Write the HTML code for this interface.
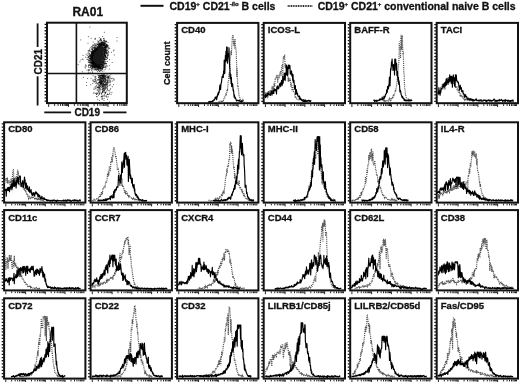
<!DOCTYPE html>
<html><head><meta charset="utf-8"><title>Figure</title>
<style>html,body{margin:0;padding:0;background:#fff;width:520px;height:382px;overflow:hidden}svg{display:block;filter:blur(0.35px)}</style>
</head><body>
<svg width="520" height="382" viewBox="0 0 520 382"><line x1="140.5" y1="5.8" x2="163.5" y2="5.8" stroke="#111" stroke-width="2"/>
<line x1="287.7" y1="6" x2="312.3" y2="6" stroke="#222" stroke-width="1.8" stroke-dasharray="1 0.7"/>
<text x="169.5" y="10.1" style="font-family:'Liberation Sans',sans-serif;font-weight:bold;stroke:#111;stroke-width:0.3px;font-size:10.5px" fill="#111">CD19<tspan dy="-4" font-size="6">+</tspan><tspan dy="4"> CD21</tspan><tspan dy="-4" font-size="6">-/lo</tspan><tspan dy="4"> B cells</tspan></text>
<text x="317.7" y="10.1" style="font-family:'Liberation Sans',sans-serif;font-weight:bold;stroke:#111;stroke-width:0.3px;font-size:10.5px" fill="#111">CD19<tspan dy="-4" font-size="6">+</tspan><tspan dy="4"> CD21</tspan><tspan dy="-4" font-size="6">+</tspan><tspan dy="4"> conventional naive B cells</tspan></text>
<text x="72.4" y="16" style="font-family:'Liberation Sans',sans-serif;font-weight:bold;stroke:#111;stroke-width:0.3px;font-size:12px" fill="#111">RA01</text>
<path d="M101.3,45 103.5,47.2 103.5,52.2 102.8,57.9 102,62.2 100.2,65 96.6,65 93.1,62.2 91.7,57.2 93.1,53.6 95.9,50 98.8,46.8Z" fill="#1a1a1a" stroke="#1a1a1a" stroke-width="0.8" stroke-linejoin="round"/>
<path d="M91.3,57.8h1M100.1,40.5h1M98.3,68.5h1M96.8,66.5h1M103.8,52.1h1M102.8,42.2h1M103.6,55.7h1M104.3,47h1M97,69.4h1M91.5,51.7h1M100.1,69.7h1M99.2,40.6h1M99.8,45.2h1M98.8,43.3h1M97.2,66.9h1M93.8,51.1h1M107,58.6h1M106.6,57.3h1M99.2,66.4h1M100.2,38.8h1M91.7,56.6h1M89.8,56.3h1M90.7,54.8h1M94,47.2h1M102.8,58h1M102.4,42.7h1M106.7,46.5h1M89.5,61.6h1M104.8,56.7h1M102.7,67.5h1M98.3,65.1h1M92.1,54.6h1M100.2,42.8h1M106,46.8h1M91.8,58.4h1M99.6,70.1h1M94.6,64.1h1M97.5,66.6h1M100.8,66.6h1M92.5,66.7h1M103.6,45.2h1M91.6,49.7h1M103.8,51.6h1M105.4,43.1h1M100.9,64.5h1M99.4,66.2h1M96.6,48.3h1M96.8,44.2h1M100.6,44h1M90.2,58.8h1M102,42.1h1M95.9,65.1h1M102.2,62.2h1M97.8,45.7h1M103,38.5h1M98.8,66.8h1M104.3,42.5h1M96.3,69.9h1M101.8,42.9h1M91,52.8h1M100.8,45.3h1M92.1,54.8h1M104.3,50.7h1M100.1,67.9h1M90.8,58.5h1M106.2,50.7h1M95.1,65.7h1M90.7,61.7h1M105.5,51.8h1M103.9,43.6h1M90.4,59.6h1M91.3,58.8h1M90,58.1h1M106.9,44.8h1M93.9,66.8h1M90.8,62.4h1M100.2,67.1h1M103.2,56.5h1M104.7,50.6h1M97.3,66.5h1M104.8,52.7h1M94.1,67.7h1M92,55.3h1M90.1,57.8h1M92,53.5h1M94.5,66.6h1M103.2,64.6h1M103.6,42.8h1M98.9,46h1M104.6,53.6h1M91.9,63.9h1M101.1,64.9h1M100.8,64.7h1M98.5,68.1h1M103.9,47.2h1M102.7,67.9h1M94.7,65.3h1M96.4,48.3h1M105.4,41.8h1M95.8,67h1M99.4,44.4h1M106.1,45.2h1M105.6,51.8h1M102.1,68.8h1M93,53.6h1M106,63.8h1M94.5,69.2h1M94.9,67h1M93.5,48.5h1M98.9,46.7h1M100.4,45.6h1M95.1,66h1M104.2,63.3h1M101.4,43.2h1M96.5,66.8h1M102.9,57.9h1M91.4,50.9h1M95.3,64.5h1M90,54.7h1M103.3,64.1h1M93.3,63.5h1M104.2,53.1h1M91.4,52.8h1M99.4,44.9h1M90.2,63.2h1M92.9,64.9h1M96.6,44.5h1M106.7,55.8h1M103.8,49.3h1M91.5,59.8h1M89.6,58.9h1M92.4,53.6h1M99.2,65.2h1M94.3,49.4h1M103.3,54.8h1M103,45.3h1M103.2,67.6h1M96.9,48.5h1M95.6,64.4h1M91,57.6h1M92.5,61.6h1M98.9,65.3h1M98.5,46.1h1M105.2,57.2h1M89.7,55h1M106.1,52.7h1M89.1,61.6h1M98.4,41.5h1M91.7,59h1M93.9,63.4h1M91.6,48.7h1M105.1,55.7h1M98.9,46.6h1M90.5,55.7h1M89.1,62.5h1M92,62.1h1M97.9,70.5h1M104.6,54h1M108.3,48.5h1M105.6,46.5h1M102.4,44.1h1M94.2,48.7h1M104,51.9h1M94.3,63.8h1M90.1,64.8h1M96.3,65.7h1M98.6,65.3h1M91.8,63.8h1M106.5,58h1M103.6,44.3h1M99.7,43.1h1M101.9,66.1h1M93.6,51.5h1M94.5,47.4h1M92,60.8h1M103,44.9h1M101.1,43.2h1M104.2,59.7h1M103.2,59.8h1M102.3,63.3h1M94.3,64.8h1M102.7,43.8h1M94.1,50.1h1M98.5,66.2h1M89.6,60.6h1M96.9,48h1M103.1,61.8h1M97.1,65.4h1M103.6,39.6h1M91.9,62h1M94.9,64.6h1M103.7,49.8h1M98.4,43.3h1M93,64h1M103.4,45.4h1M91.4,63.5h1M93.8,65.6h1M92.3,62.4h1M103.8,62.9h1M101.7,69.3h1M106.9,50.6h1M101.7,64.5h1M105.6,50.3h1M98.4,66h1M92,56.4h1M98.2,43h1M92.3,65h1M101.6,42.7h1M105.1,67.6h1M92,61h1M90.4,57.9h1M105.6,53.1h1M106.2,47.7h1M92.1,62.4h1M90.4,67.5h1M94.2,66.9h1M93.4,67.4h1M104.9,63.5h1M103.7,67.4h1M98.3,66.1h1M99.7,44.4h1M107.6,54.1h1M93.9,67.9h1M94.8,67.6h1M94.7,49.5h1M94.7,64.2h1M105.6,44.3h1M95.9,66.2h1M104.6,43.4h1M100.6,44.2h1M96.6,47.5h1M104,51.5h1M96.6,49.1h1M91.5,60.7h1M91.8,61.9h1M103.7,54.1h1M96.6,49.2h1M103.9,43.2h1M97,67.3h1M91.1,55.3h1M102.3,62.7h1M103.6,59.5h1M105.4,46h1M92.8,54.3h1M101.9,42.5h1M92.3,62h1M104.8,63.1h1M102.2,61.3h1M91.5,53.1h1M95.6,49.6h1M98.4,66.5h1M105.1,55.8h1M99.5,71h1M102.3,65.6h1M99.2,65.6h1M102.7,42.8h1M93.2,63.4h1M90.8,55.7h1M108,51.4h1M101.7,67.3h1M105.7,57h1M97.8,44.8h1M101.1,39.3h1M104.3,57h1M90.9,55.8h1M99.1,44.1h1M105.3,49.4h1M94,66.4h1M99.3,68.1h1M97.5,66.2h1M102.5,45.2h1M97,48h1M105.6,50.7h1M97.1,46.5h1M103.6,57.8h1M101.8,65.1h1M96.7,67.7h1M97.1,44.5h1M92.1,55.4h1M90.8,66.6h1M97.9,47.1h1M102.7,65.8h1M101.8,64.5h1M104.2,53h1M93.4,63.1h1M104.9,48.1h1M94,63.7h1M93.8,63.2h1M97.2,47h1M103.2,45h1M97.8,44.1h1M91,63.3h1M91.4,61.9h1M102.1,36.5h1M92.2,67.2h1M91.2,53.5h1M103.8,56.8h1M104.3,48.9h1M89,56.7h1M92.7,61h1M100,67.4h1M93.2,62.9h1M102.9,64.1h1M94.5,66.1h1M91.7,65.3h1M104.2,43.6h1M100.8,44.4h1M104,52.9h1M101.3,68.3h1M103,56.3h1M101.6,45.2h1M90.1,56.4h1M97.7,69.3h1M92.7,54.4h1M96.6,48h1M103.6,53.9h1M100.4,70.6h1M91.1,56.4h1M103.7,49.1h1M93.7,49.5h1M96.9,47.8h1M95.7,45.9h1M105.4,41.6h1M89,65h1M101.8,63h1M95.1,64.5h1M102.9,61h1M91.4,60.5h1M104.7,51.1h1M100.2,67.6h1M107.5,54.9h1M92.5,66h1M94.3,50.9h1M104.1,49.6h1M103.8,45.5h1M91,65.7h1M98.9,66.1h1M91.9,60.3h1M93.9,50.5h1M105.2,47.7h1M107.2,52.2h1M91.5,52.5h1M104.7,43.7h1M103.3,45.6h1M103.7,51.5h1M89,60.4h1M94.5,64.5h1M89.6,59h1M95,66.7h1M88.2,60.3h1M103.5,50.4h1M105.3,47.4h1M99.1,68.2h1M100.9,40.6h1M103.6,61.9h1M89.1,58.7h1M90.8,54.9h1M105.2,46.7h1M96.2,69.6h1M97.9,65.4h1M93.5,64.2h1M100.1,43.9h1M91.8,60.1h1M100.2,38.7h1M94.7,65.7h1M90,59.3h1M102.8,65.4h1M103.4,58h1M93.6,63.9h1M100.6,64.8h1M104.5,54.7h1M96.6,65.8h1M104.8,63.7h1M92,51.6h1M98.7,67h1M106.8,45.9h1M97.5,66h1M99.1,71.5h1M101.7,43.5h1M101.3,43.9h1M92.9,64.8h1M101.9,44.6h1M103.4,67h1M99,66.1h1M102.5,42.2h1M93.6,63.3h1M93.7,65.3h1M101.7,66.7h1M91.8,55.9h1M105.7,63.5h1M93.8,45.9h1M93.6,67.6h1M91.3,55.1h1M106.8,46.2h1M98.8,66.4h1M92.3,65.4h1M95.3,67.9h1M92.8,64.5h1M94.1,51.8h1M103.5,53.5h1M95.4,65h1M95,66.6h1M92.2,66.5h1M100.7,70h1M106.6,57.1h1M100.3,65.9h1M102.2,42h1M101.5,44.9h1M90.1,66.4h1M93.4,66.7h1M102.9,65.8h1M94.3,65.5h1M107.1,45.6h1M91.9,68.2h1M104,51.8h1M100,45.1h1M90.1,61.1h1M104.7,47.7h1M100.4,44.1h1M100.2,67h1M102.3,45.7h1M101.6,69.4h1M92.3,61.1h1M91.2,58h1M99.9,44.8h1M100,68.6h1M94.2,50.1h1M94.3,51.4h1M90.6,63.6h1M98.9,68h1M91.6,53.2h1M104.1,55h1M104.1,50.1h1M95.3,47h1M97.6,45.8h1M101.1,68.6h1M102.9,44.3h1M91.3,65.9h1M89.7,62.4h1M94.7,48.3h1M97.2,66.4h1M105.4,45.2h1M106.8,53.7h1M90.8,55.5h1M95.4,49h1M100.8,44.1h1M102.1,63.8h1M94.6,48.6h1M94.9,66.2h1M91.7,67.2h1M105.6,41.5h1M91.9,58.5h1M104.1,53.4h1M92.7,65.4h1M98.3,67.2h1M95.9,64.4h1M104.2,56.8h1M103.4,42h1M95.7,67.8h1M104.8,50.5h1M87.7,55h1M96.4,48h1M96.9,66.7h1M92.9,63.6h1M95,69.1h1M106.3,53.6h1M91.8,53.9h1M99.3,46h1M95.5,64.4h1M102.5,65.1h1M89.1,58.3h1M89.7,58.6h1M96.8,68.1h1M100.5,43.8h1M92.4,52.4h1M102.1,44.9h1M97.5,65.3h1M104.9,55.3h1M104.1,64.3h1M99.2,65.8h1M91.5,65.7h1M101,43.6h1M91.8,55.2h1M91.9,49.4h1M92.4,53.9h1M91.8,49.7h1M103.2,58.6h1M97.7,66.9h1M89.3,55.5h1M91.2,57.1h1M105.4,54.1h1M100.5,41.6h1M93.5,66.2h1M96.5,67.6h1M105.6,44.9h1M102.8,45.1h1M94.3,43.7h1M88.4,50.6h1M88.4,60.4h1M103.5,66.9h1M90.9,58.9h1M97,46.9h1M94.7,65.2h1M102.1,68h1M91.7,61h1M104.8,52.2h1M105.5,61.4h1M102.4,63.3h1M96.2,66.5h1M103.5,48.2h1M92.2,66.8h1M104.4,41.5h1M105.7,45.6h1M98.5,47.1h1M87.6,50.8h1M94.9,63.9h1M109.2,48.5h1M94.9,64.1h1M91.5,62.9h1M98.4,45.9h1M96.4,64.9h1M103.8,63.6h1M98.1,66.6h1M93.8,51.6h1M106.5,65.7h1M92.7,63.8h1M104.1,55h1M88.5,60.3h1M90.1,67.1h1M96.3,49.4h1M104.4,59.5h1M95.1,49.6h1M100.2,45.8h1M92.5,62.2h1M100.5,44.3h1M93.8,63.3h1M101.5,68.2h1M103.7,58.9h1M102.7,61.6h1M98,69.8h1M105.5,65.7h1M92.8,53.9h1M97.7,69.6h1M98.8,67.3h1M91.5,54h1M96.6,65.9h1M101.2,63.9h1M95.7,48.6h1M103.5,45.9h1M103.4,56.9h1M105.7,41.7h1M98.9,43.2h1M106,50.9h1M96.5,66.4h1M97.1,66.3h1M90,65.1h1M92.9,52.8h1M96.1,48.3h1M93.6,48.3h1M92.5,52.1h1M99.7,39.9h1M93.5,50.4h1M88.1,59.2h1M92.1,50.1h1M104.4,46.7h1M93.3,63.5h1M97,68.6h1M91.8,56.4h1M94.2,64.5h1M93.3,50.8h1M103.5,54.2h1M100.3,65.2h1M101.1,40.7h1M105.3,59.4h1M102.6,45h1M100.5,70.6h1M104.4,57.8h1M103.8,43.9h1M105.4,58.8h1M102.6,59.4h1M97.7,67.3h1M92.5,61.3h1M99.7,67.4h1M105.9,53.8h1M99.4,65.3h1M103.3,62h1M90.1,51.5h1M91.5,59.9h1M105.3,50h1M102.2,62.7h1M104.6,45.9h1M100.7,64.3h1M103.8,49.3h1M94.4,63.9h1M103.5,66h1M100.7,68.5h1M102.5,43.2h1M95.5,68.6h1M94.6,51.5h1M105.4,49.8h1M102.5,60.9h1M94.2,65.8h1M99.3,68h1M98.9,46.5h1M104.5,51.8h1M104.3,40.6h1M90,55.6h1M104.3,42.9h1M95.6,50.1h1M92.5,52.9h1M98,68.3h1M93.1,66.7h1M93.2,66.5h1M93.5,52.1h1M92.8,51.2h1M92.4,54.4h1M93.2,62.8h1M93.2,64.2h1M104,45.4h1M98.2,67.7h1M98.3,46.8h1M100.6,43h1M95.8,45.8h1M103.8,48.1h1M103.8,43.7h1M93,54h1M101.9,42.7h1M102.8,61.4h1M92,63.5h1M91,62.9h1M87.4,53.3h1M102.3,61.6h1M105.3,46.7h1M95.1,49h1M102.6,63.3h1M92.4,51.9h1M90.6,58.9h1M98,45.3h1M104.7,69.4h1M100.5,45.5h1M88.2,57.1h1M97.9,45h1M100.8,64.4h1M101.1,42.3h1M90,60.9h1M96.3,49.5h1M94.3,51.9h1M96.1,66.3h1M91.8,55.5h1M99.6,67.8h1M90.9,54h1M103.8,63.4h1M92.3,66.3h1M103.5,43h1M95.4,65.6h1M93.1,53.4h1M88.8,54.1h1M92.2,51.3h1M93.4,64h1M107.4,54.1h1M97.7,44.6h1M101.5,42.1h1M109.1,59.6h1M100.5,43.4h1M100.3,44.2h1M105.7,46.2h1M104.7,47.4h1M106.2,50.8h1M103.9,55.9h1M96.4,68h1M99.1,69.3h1M92.7,50.9h1M87.8,61.8h1M92.2,52.7h1M98.6,66.7h1M90.9,59.3h1M92.6,50.7h1M95.7,50.1h1M90.8,57h1M104.2,40.9h1M101.8,67.6h1M106.3,46.2h1M93.6,50.1h1M104.1,55.4h1M100.6,66.3h1M105.7,47.5h1M101.7,65.9h1M96.5,66h1M92.4,67.7h1M100.7,68.7h1M103.9,59h1M90.7,62.1h1M92.7,63.8h1M91.5,64.7h1M98.6,65.4h1M94.2,66.5h1M103.4,62.1h1M92.1,54.1h1M91.3,52.6h1M93.7,51.5h1M95,65.5h1M95.5,65.3h1M93.5,64.3h1M103.6,58.1h1M100.4,68h1M93.1,52.3h1M89,55.7h1M101.8,62.7h1M101.5,66.2h1M94.4,66.9h1M104.9,47.1h1M103,60.1h1M105.6,52.5h1M94,64.1h1M100.1,66.4h1M94.5,44.1h1M95.7,70.1h1M105,45.9h1M104.5,49.3h1M104,45.1h1M101.4,64.3h1M93.7,64.7h1M102.3,65.9h1M102.9,44h1M94.2,47.4h1M97.2,44.5h1M104.6,48.2h1M98.8,44.5h1M103.3,61.1h1M91,65.9h1M105.1,56.5h1M92.2,65.3h1M90.2,58.8h1M92,60.9h1M98.9,65.6h1M95.5,69h1M104.5,45.4h1M103.8,44.5h1M92.8,62.8h1M88.4,51h1M107.5,42.4h1M99.2,45.5h1M95.3,46h1M102.7,43h1M99.7,68.5h1M103,44.7h1M92.7,54.3h1M98.5,66.8h1M95.9,65.7h1M98.8,37.7h1M95.3,45h1M94.5,67.2h1M103.5,55.3h1M93.9,50.2h1M94.6,69.5h1M92.8,63.7h1M101.7,69.2h1M91.1,57.9h1M105.5,64h1M98.6,67.9h1M106.8,46.9h1M97.7,41.4h1M95.6,48.5h1M95.9,49.1h1M91,53h1M98.7,67.8h1M107.8,48h1M90.6,57.8h1M97.2,48.2h1M107,61.4h1M103.6,38.4h1M92.2,55h1M92,52.7h1M103.6,46.4h1M91.9,67.8h1M88.8,53.6h1M105.3,46.9h1M91.5,62.6h1M102.1,44.7h1M89.4,54h1M103,40.4h1M90.6,56.7h1M95.6,65.2h1M91.5,57.6h1M90.4,59h1M101.6,65.7h1M90.7,52.8h1M104.2,44.9h1M92,65.9h1M104.1,58.9h1M95,64.7h1M101.6,65.3h1M102.8,46.1h1M102.6,66.7h1M95.5,49.8h1M90.7,60.6h1M89.2,50.5h1M105,61.9h1M91.9,64.3h1M100,68.3h1M94.4,67.5h1M101.6,64.2h1M104.9,55.5h1M105.1,48.9h1M92.2,61.6h1M98.1,67.6h1M93.3,51h1M100.5,66.3h1M89.5,63.2h1M101,42.8h1M95.4,48.2h1M98.3,68.5h1M93.6,63.3h1M94.5,46h1M104.2,47.5h1M88.8,58h1M102.9,62.9h1M103.1,59.2h1M96.4,43.5h1M90.8,59.9h1M91.7,60.8h1M90.8,55.1h1M87.9,57.6h1M98.6,71h1M102.2,44.2h1M98,67h1M103.3,63h1M92.5,54h1M97.7,42.5h1M98.6,68.1h1M93.1,66.8h1M99.2,43.7h1M95.1,47.8h1M103.7,45.5h1M103.9,54.2h1M92,54.6h1M97.4,69.6h1M103.7,55.5h1M99,44.5h1M103.6,61.5h1M104.8,48.5h1M91.3,53h1M99.5,44.1h1M107.2,45.8h1M99.6,67.1h1M101.5,44.1h1M105,56.3h1M97.1,67.8h1M98.5,67.6h1M105.3,52.4h1M94.8,49.7h1M99.7,66.8h1M105,51.1h1M102,67.5h1M86.6,70.1h1M89.9,65.6h1M96.7,67h1M87.9,36.7h1M86.5,59.3h1M92.8,65.8h1M99.3,44h1M104.1,54.9h1M89.8,56.2h1M94,66.5h1M105.3,52.1h1M86,66h1M81.9,71.8h1M87.9,72.2h1M79.4,61.8h1M91.2,51.6h1M110.9,52.3h1M107.6,55.7h1M104.2,60.3h1M116.5,41.1h1M77.7,64.6h1M90.5,49.2h1M89.4,27.1h1M90.7,38.3h1M92.1,80.1h1M104.3,49.6h1M93.4,68.1h1M106.3,48.4h1M80.2,39.9h1M97.8,66h1M88.2,69.5h1M85.7,54.3h1M106.3,49.9h1M89.4,67.7h1M88.9,51.1h1M85,65.9h1M94.2,48.1h1M103.3,58.7h1M90.2,62.8h1M95.6,66.4h1M82.1,59h1M105.4,47.9h1M93.1,47.7h1M104.8,49.6h1M88,70.5h1M90.5,59.8h1M102.9,44.1h1M105,57.8h1M91.1,55.1h1M84.5,67h1M89.7,62.4h1M104.7,45.4h1M92.3,45.1h1M101.1,67.1h1M97.3,40.9h1M105.8,59.5h1M90.9,61.9h1M95.7,67.6h1M108.1,45.9h1M102.8,58.1h1M91,70.3h1M116.6,37.6h1M108.4,47.1h1M107.1,55.7h1M92.2,71.2h1M89.6,72.3h1M90.8,62.6h1M88.4,64.6h1M97,71.4h1M113.6,50.1h1M103.2,61.2h1M102.9,56.9h1M107.5,52.2h1M104.1,49.6h1M103.8,60.1h1M91.5,46.5h1M103.9,32.3h1M108.8,65.7h1M88,62.5h1M88.1,56.5h1M84.9,67.8h1M93.8,63.2h1M86.1,82.3h1M91,60.8h1M88.5,65.3h1M93.1,64.9h1M92.1,47.2h1M93.5,44.7h1M93,62.4h1M92.8,42h1M95.4,49.9h1M111.7,62.5h1M88,65.5h1M92.6,45.3h1M92,51.2h1M91.3,65.8h1M86.7,57.7h1M89.4,69.8h1M91.2,46.9h1M83.1,77.3h1M106.2,53.5h1M87.1,59.6h1M101.8,71.3h1M92.3,55.3h1M91.9,69.2h1M96.6,66.3h1M103.8,47.5h1M89.2,65h1M93,62.6h1M87.9,56.9h1M104.4,59.7h1M103.5,65.4h1M105.5,44.4h1M102.1,64.6h1M93.2,63.8h1M87.1,78.5h1M90.9,65h1M106.4,66.7h1M94.7,64.1h1M92.8,53.8h1M87.5,43.2h1M105.4,67.9h1M82.6,59.6h1M106,41.1h1M103.5,70.9h1M85,57.2h1M98.7,67.6h1M86,85.5h1M95.7,78.6h1M91.7,63h1M91.5,48.5h1M91.9,62.8h1M94.8,77.6h1M93.5,68h1M106.3,57.6h1M90.3,47.3h1M106.1,52.3h1M92.8,45.8h1M113.8,55h1M105,66.6h1M105.4,49.9h1M103.5,54.2h1M90.8,68.8h1M98.4,45.7h1M107.5,49.6h1M103.6,49.2h1M91.6,64.7h1M92.7,69.2h1M96.4,66.7h1M92,63.6h1M89.6,56.6h1M108.8,69.1h1M82.5,55.5h1M88.2,52.8h1M106.2,45.2h1M112.9,50.8h1M93,50.8h1M103.7,40.5h1M88.8,70.1h1M104.2,47.2h1M103.7,41h1M91.6,67.9h1M94.7,38.3h1M104.9,56h1M93,52.3h1M94.5,51.7h1M92,48h1M108.2,52.3h1M99.9,39.5h1M90.5,57.9h1M91.6,56.1h1M106.6,45.1h1M99.9,65.4h1M89,49.1h1M91.3,52.2h1M92,72.4h1M104.1,52.3h1M93.3,47.5h1M85.2,64.8h1M93.9,70h1M94.4,39.2h1M86.8,55.7h1M107.4,47.4h1M80.4,59.9h1M87.9,66.3h1M95,39h1M95.5,69.9h1M94.8,45.1h1M105.8,44.7h1M95.2,49.9h1M90.9,68.9h1M88.2,67.6h1M102.3,62.7h1M100.8,94.2h1M102.2,77.3h1M98,91.9h1M106.7,74.8h1M101.3,83.7h1M104.1,81.3h1M108.5,85.6h1M103.1,88.5h1M101.6,82.5h1M98.8,85.4h1M102.7,76.1h1M107.7,76.3h1M99.8,82.9h1M102.2,98.9h1M103.6,75.3h1M104.1,78.8h1M103.3,90.1h1M111.8,78.4h1M103.7,76.4h1M106.5,82.4h1M108.3,90.6h1M107,88.2h1M92.6,75.7h1M98.4,86.2h1M98.9,82.2h1M111.4,92.4h1M100.3,81.9h1M100.9,75.2h1M93.5,89.5h1M105,84.2h1M104.5,92.8h1M106.4,82.9h1M100.8,84.3h1M101.5,99.5h1M107,85.2h1M100.8,96.8h1M105.9,96.9h1M103.8,95.9h1M99.4,80.8h1M100.8,82.6h1M103.9,90.8h1M102.6,77h1M108.6,80.8h1M106.6,77.2h1M100.6,81.2h1M108.8,101.9h1M102,75.2h1M108.9,75.6h1M104.4,86.6h1M102.3,83.8h1M96.2,93.1h1M103.5,100.4h1M98.2,75.5h1M105.5,78h1M102.8,86.9h1M98.2,75.9h1M103.6,76.3h1M107.9,77.2h1M98.5,80.5h1M98.9,82.1h1M98.1,77.5h1M101.1,96.3h1M105.3,79.7h1M106.7,88h1M101,81.3h1M94.7,79h1M102.4,76.6h1M101.9,89.9h1M107.4,78h1M113.5,80.3h1M95.9,85.6h1M103.8,81.9h1M99.7,75.8h1M103.7,87.5h1M93.3,80h1M98.6,79.6h1M99.9,84.4h1M103,80.3h1M100.1,77.5h1M102.2,76.4h1M98.9,87.8h1M99.8,75.6h1M110.6,94.4h1M107.3,77.7h1M96.7,96.9h1M96.1,96.5h1M101.6,81.4h1M104.6,76.5h1M96.9,93.7h1M103.9,75h1M98.7,85h1M102.9,75h1M98.4,82.8h1M102,81.7h1M105.3,85.2h1M95.5,81.6h1M102.8,89.1h1M107.5,94.5h1M103.4,81.4h1M102,86.5h1M104.8,75.5h1M100.2,85.8h1M105.3,85.3h1M113,84.7h1M100.2,77.8h1M96.6,80.7h1M102.1,81.2h1M92.7,81h1M103.9,85h1M104.5,81h1M102.3,80.3h1M102.4,76.1h1M95.2,93.5h1M99.6,78.4h1M113.5,79.4h1M98.1,82.4h1M102.5,91.5h1M106.8,80.9h1M96,94.5h1M106.5,80.3h1M105.6,82.3h1M98.1,95.3h1M98.5,90.2h1M99.4,78.1h1M94.6,86.9h1M99.3,82.9h1M104.6,80.6h1M104.4,85.9h1M106.4,82.3h1M101.4,84.5h1M93.5,81.3h1M105.1,89.3h1M110.3,78.1h1M90.1,84.8h1M101.5,78.9h1M100.4,84.4h1M104.8,78.8h1M105,81.9h1M93.7,82h1M101.5,85.2h1M102.3,82.9h1M108.1,77h1M101.4,85.5h1M101.4,81.3h1M103.3,78.8h1M106.9,84.5h1M101.6,75.8h1M100.6,76.8h1M99.6,82.3h1M106.5,97h1M104.6,85.8h1M104.6,81.2h1M106.4,80.1h1M104.2,79.7h1M106.7,80.9h1M101.4,83.1h1M104.8,78.9h1M109.5,76.8h1M100.4,75.2h1M102.3,75.5h1M101.6,78.5h1M97.5,87.4h1M102,86h1M103.1,84.7h1M104.1,76.8h1M109.5,92.2h1M104.8,96.1h1M106.7,80.1h1M105.6,86.9h1M106.8,79h1M106.4,77.5h1M99.8,78.9h1M102.3,74.9h1M105.5,76.8h1M107.5,81.7h1M100.7,78.4h1M105,92.9h1M102.7,77.4h1M107.6,78.8h1M97.7,87.6h1M99.8,81.3h1M107,89.6h1M105.2,84.2h1M97,87.4h1M109.1,93.6h1M101.7,79.8h1M101.1,80.1h1M105,79.2h1M99.4,82.1h1M102,86.9h1M103.1,77.1h1M111.9,81h1M102.8,85.9h1M99.2,77.1h1M101.1,78.5h1M109.6,84.5h1M101,82.9h1M111.8,86.8h1M103.6,79.2h1M98.5,85.9h1M102.1,91.7h1M98.8,93.7h1M103.1,77.9h1M101.5,74.9h1M95.7,82.6h1M104.2,75.2h1M101.8,78.3h1M99.9,81.3h1M102.5,77.1h1M101.1,83h1M100.1,76h1M109.3,78.6h1M99.1,87.6h1M107.3,94.5h1M106.7,94.4h1M104.5,84.5h1M101.9,88.8h1M95.7,93.2h1M96.3,86.8h1M103.6,88.1h1M107.1,81.1h1M113.3,78.8h1M103.4,74.8h1M101.9,92.6h1M102.4,75.5h1M98.1,84.3h1M100,83h1M108.5,94.3h1M103.8,82.1h1M104.9,82.8h1M102.9,86.3h1M104.6,91.8h1M103.2,88.8h1M95.1,79.7h1M105.1,79.9h1M101.5,98.6h1M99.1,88h1M104.7,88.1h1M104.5,78.5h1M99,100.4h1M99.3,80.3h1M102.3,75.6h1M106.7,86.4h1M107,77.1h1M102.1,91.1h1M104.1,77.9h1M104,78.8h1M100.6,80.7h1M99.4,85.7h1M96.7,90h1M104.1,89.7h1M104,84.6h1M100.3,81.2h1M99.5,88.6h1M110.2,88.6h1M103.7,98.4h1M101.7,85.2h1M100.1,81h1M107.8,96.9h1M100.5,89.6h1M99.8,79.5h1M103.5,88.4h1M104.6,92.6h1M99.6,82.3h1M101.7,82.9h1M102.6,79.9h1M105.9,84.4h1M107,99.5h1M108.1,76.9h1M107.8,77.7h1M99.6,92.2h1M102.6,88.2h1M98.5,76.9h1M105.6,75.7h1M102.7,76.2h1M100.4,82.6h1M104.2,90.7h1M99.4,78.9h1M103.9,75.3h1M102.3,96h1M109.3,81.2h1M101.4,82.9h1M99,75.9h1M108.3,77.9h1M95.2,76.3h1M108.3,80.1h1M101.9,81.4h1M98.9,76.7h1M98.6,91.2h1M103.9,94.4h1M101.1,93.9h1M103.1,78.7h1M107,76.2h1M93,93.1h1M100.7,80.6h1M102.3,78.9h1M98.7,75.1h1M95.3,76.7h1M101.2,75.8h1M98.2,89.9h1M102.4,75.6h1M98.3,77.4h1M95.2,87h1M102.8,80.2h1M98.3,86h1M93.7,92.8h1M97.8,91.9h1M97.4,83.8h1M104.4,84.7h1M105.1,77.8h1M99.6,76.4h1M108.4,77.3h1M102,92.1h1M99.6,86.9h1M100.4,79.2h1M96.7,84h1M94.4,79.3h1M103.6,85.6h1M102.1,91.3h1M106.6,83.2h1M106.1,95.9h1M101.3,79.2h1M107.1,81.7h1M109.7,82.8h1M106.3,85.1h1M107,86.7h1M100.7,75.2h1M92.2,83.4h1M103.2,90.4h1M98.7,94.3h1M101.6,92.7h1M100.2,89.1h1M108,77.9h1M105.7,87.7h1M98,87.9h1M101.8,75.8h1M99.7,90.8h1M99.4,81.2h1M103.5,83.7h1M105.6,83.8h1M99.6,78.9h1M102.2,86h1M100.2,83.9h1M97.7,79.5h1M102.1,87.8h1M103.4,95.9h1M100.5,86.9h1M93.7,88.2h1M107.7,82.5h1M101.7,84.8h1M102.5,75.2h1M99.7,84.8h1M102.5,78.1h1M105.3,87.9h1M100,83.4h1M104.9,86.9h1M102.8,75.6h1M110.9,78.7h1M101.1,75.7h1M99.2,93h1M102.7,83.7h1M103.1,83.2h1M103.1,84.3h1M102.9,92h1M108.6,79.7h1M103.9,77.3h1M101.8,75.7h1M105,92.9h1M109.4,85.6h1M108.4,76.2h1M104.9,88.2h1M102.9,82.9h1M101.1,81.2h1M110.3,81.6h1M97.3,83.7h1M105.6,83.8h1M96.1,94.5h1M107.1,94.1h1M106.2,92.1h1M100.8,77.5h1M102.8,84.7h1M109.3,82.3h1M100.8,96.7h1M101.3,75.6h1M103.6,76.6h1M101.9,97.1h1M101,87.2h1M97.3,87.1h1M97.1,93.2h1M100.3,80.4h1M103,80.2h1M99,87.1h1M105.7,84.4h1M103.2,90.2h1M104.8,80.7h1M98.9,93.4h1M110.3,74.8h1M106.5,90.5h1M103,77.1h1M94.2,76.9h1M108.6,90.8h1M99.6,76h1M105.6,85h1M97.2,99.7h1M102.8,84.5h1M99.8,84.3h1M104.7,77.3h1M106.7,82.6h1M100.9,83.6h1M101.1,78.7h1M101.4,77.8h1M109.6,89.6h1M97.3,74.9h1M105.7,88.2h1M106.8,83.6h1M98.7,83.1h1M98.8,82.6h1M102,89.6h1M107.7,83.1h1M102,96.1h1M101.3,77.7h1M100.2,77.5h1M96.9,90.1h1M102.8,79.9h1M109.8,80.3h1M104.7,81.3h1M102.5,76.2h1M90.5,78.4h1M98.6,79.8h1M103.3,87.1h1M97.1,79.7h1M103.3,86.2h1M100.6,81.9h1M102,78.7h1M99.4,75.6h1M95,80.9h1M102.8,81.2h1M99.9,83h1M98.2,77.9h1M101.7,76.4h1M99.1,89.2h1M95.5,80.9h1M103.2,77.7h1M98.1,87.9h1M100.9,93.4h1M98.8,79.5h1M94.2,81.6h1M102.5,81.7h1M105,76.3h1M96.4,83h1M95,88.7h1M103.9,89h1M100.8,83.6h1M95.4,83.5h1M96.4,88.1h1M104.8,93.1h1M100.3,79.1h1M102.7,84h1M105.7,75.2h1M104.3,82.4h1M100.1,86.4h1M103.4,85.8h1" stroke="#000" stroke-opacity="0.6" stroke-width="1" fill="none"/>
<line x1="45.4" y1="23.7" x2="45.4" y2="103.1" stroke="#111" stroke-width="1.6" stroke-dasharray="1.3 1.9"/>
<path d="M48.7,104.1v2.8M54.6,104.1v1.8M58.1,104.1v1.8M60.6,104.1v1.8M62.5,104.1v1.8M64.1,104.1v1.8M65.4,104.1v1.8M66.5,104.1v1.8M67.5,104.1v1.8M68.5,104.1v2.8M74.4,104.1v1.8M77.9,104.1v1.8M80.3,104.1v1.8M82.3,104.1v1.8M83.8,104.1v1.8M85.1,104.1v1.8M86.3,104.1v1.8M87.3,104.1v1.8M88.2,104.1v2.8M94.1,104.1v1.8M97.6,104.1v1.8M100.1,104.1v1.8M102,104.1v1.8M103.6,104.1v1.8M104.9,104.1v1.8M106,104.1v1.8M107,104.1v1.8M108,104.1v2.8M113.9,104.1v1.8M117.4,104.1v1.8M119.8,104.1v1.8M121.8,104.1v1.8M123.3,104.1v1.8M124.6,104.1v1.8M125.8,104.1v1.8M126.8,104.1v1.8" stroke="#222" stroke-width="1" fill="none"/>
<rect x="47" y="22.7" width="79.8" height="80.4" fill="none" stroke="#111" stroke-width="2"/>
<line x1="76.4" y1="22.7" x2="76.4" y2="103.1" stroke="#111" stroke-width="1.6"/>
<line x1="47" y1="73.5" x2="126.8" y2="73.5" stroke="#111" stroke-width="1.6"/>
<text transform="translate(41.5,61.7) rotate(-90)" text-anchor="middle" style="font-family:'Liberation Sans',sans-serif;font-weight:bold;stroke:#111;stroke-width:0.3px;font-size:10px" fill="#111">CD21</text>
<line x1="37.6" y1="23.4" x2="37.6" y2="47" stroke="#111" stroke-width="1.8"/>
<line x1="37.6" y1="76.3" x2="37.6" y2="105.5" stroke="#111" stroke-width="1.8"/>
<text x="87.2" y="115.6" text-anchor="middle" style="font-family:'Liberation Sans',sans-serif;font-weight:bold;stroke:#111;stroke-width:0.3px;font-size:10px" fill="#111">CD19</text>
<line x1="44.3" y1="112.4" x2="71.1" y2="112.4" stroke="#111" stroke-width="1.8"/>
<line x1="103.2" y1="112.4" x2="126.5" y2="112.4" stroke="#111" stroke-width="1.8"/>
<text transform="translate(170,63.2) rotate(-90)" text-anchor="middle" style="font-family:'Liberation Sans',sans-serif;font-weight:bold;stroke:#111;stroke-width:0.3px;font-size:9px" fill="#111">Cell count</text>
<line x1="175.5" y1="23.9" x2="175.5" y2="103.2" stroke="#111" stroke-width="1.6" stroke-dasharray="1.3 1.9"/>
<path d="M178.8,104.2v2.8M184.8,104.2v1.8M188.3,104.2v1.8M190.7,104.2v1.8M192.6,104.2v1.8M194.2,104.2v1.8M195.5,104.2v1.8M196.7,104.2v1.8M197.7,104.2v1.8M198.6,104.2v2.8M204.5,104.2v1.8M208,104.2v1.8M210.5,104.2v1.8M212.4,104.2v1.8M214,104.2v1.8M215.3,104.2v1.8M216.4,104.2v1.8M217.4,104.2v1.8M218.3,104.2v2.8M224.3,104.2v1.8M227.8,104.2v1.8M230.2,104.2v1.8M232.1,104.2v1.8M233.7,104.2v1.8M235,104.2v1.8M236.2,104.2v1.8M237.2,104.2v1.8M238.1,104.2v2.8M244,104.2v1.8M247.5,104.2v1.8M250,104.2v1.8M251.9,104.2v1.8M253.5,104.2v1.8M254.8,104.2v1.8M255.9,104.2v1.8M256.9,104.2v1.8" stroke="#222" stroke-width="1" fill="none"/>
<rect x="177.1" y="22.9" width="81.3" height="80.3" fill="none" stroke="#111" stroke-width="2"/>
<path d="M218.5,101.5 218.8,102 219.1,101.4 219.4,101.8 219.7,101.5 220,101.3 220.3,101.7 220.6,101.6 220.9,101.4 221.2,101.3 221.5,101.8 221.8,101.7 222.1,101 222.4,101.8 222.7,100.8 223,100.7 223.3,101.5 223.6,99.5 223.9,98.7 224.2,98.2 224.5,96.7 224.8,97.8 225.1,96.5 225.4,95.9 225.7,93.2 226,94.8 226.3,95.5 226.6,92.8 226.9,91.8 227.2,89.1 227.5,89.7 227.8,86.4 228.1,82.4 228.4,81.6 228.7,78.6 229,75.4 229.3,72.5 229.6,76.9 229.9,68 230.2,61 230.5,57.2 230.8,52.9 231.1,50.8 231.4,55.2 231.7,46.8 232,43.8 232.3,37.5 232.6,36.4 232.9,34.8 233.2,35.9 233.5,42.1 233.8,45.7 234.1,40.8 234.4,46 234.7,48.9 235,38.6 235.3,44.8 235.6,47 235.9,48.1 236.2,52.3 236.5,60.4 236.8,77 237.1,67.8 237.4,75.5 237.7,87 238,85.4 238.3,89.2 238.6,91.3 238.9,94.2 239.2,96.7 239.5,97.2 239.8,97.6 240.1,98.9 240.4,99.4 240.7,100 241,100.5 241.3,100.6 241.6,100.4 241.9,100.7 242.2,100.1 242.5,101.2 242.8,100.3 243.1,101.8 243.4,100.9 243.7,101.7 244,101.2" fill="none" stroke="#555" stroke-width="1.2" stroke-dasharray="1 0.9"/>
<path d="M208.3,101.5 208.6,101.7 208.9,102.2 209.2,101.5 209.5,101.5 209.8,101.6 210.1,102.2 210.4,101.8 210.7,101.5 211,101.3 211.3,101.6 211.6,101.6 211.9,101.6 212.2,101.7 212.5,100.7 212.8,101.4 213.1,100.9 213.4,101 213.7,100.6 214,99.5 214.3,100 214.6,99.8 214.9,98.6 215.2,97 215.5,97.8 215.8,98.3 216.1,97.1 216.4,96.8 216.7,99.8 217,95.9 217.3,96.9 217.6,94.9 217.9,93.7 218.2,92.6 218.5,94.8 218.8,91.7 219.1,92.7 219.4,90.4 219.7,86.9 220,84.9 220.3,87.7 220.6,89.6 220.9,84.9 221.2,82.8 221.5,82.4 221.8,79 222.1,76.6 222.4,76.6 222.7,77.3 223,74.3 223.3,77.5 223.6,71.1 223.9,74.1 224.2,60 224.5,69.9 224.8,73.3 225.1,63.4 225.4,55.4 225.7,61.7 226,51.1 226.3,61 226.6,47.1 226.9,47.1 227.2,47.1 227.5,63.2 227.8,59 228.1,56.4 228.4,53.4 228.7,55.6 229,47.7 229.3,58.5 229.6,66.7 229.9,68.4 230.2,78.6 230.5,77.7 230.8,74.3 231.1,83.8 231.4,77.4 231.7,86.6 232,84.6 232.3,84.2 232.6,83.7 232.9,87.7 233.2,90.6 233.5,89.9 233.8,93.3 234.1,97 234.4,94.9 234.7,97.4 235,98.3 235.3,97.4 235.6,98.6 235.9,99.3 236.2,100 236.5,100 236.8,101.1 237.1,100.4 237.4,100.4 237.7,100.3 238,100.6 238.3,100.3 238.6,100.9 238.9,101 239.2,101.1 239.5,100.1 239.8,100.8 240.1,101.1 240.4,101.7 240.7,101 241,101.5 241.3,102 241.6,101.3 241.9,101.1 242.2,101.1 242.5,101.5 242.8,101.3" fill="none" stroke="#000" stroke-width="1.15" stroke-linejoin="round"/>
<text x="181.2" y="32.7" style="font-family:'Liberation Sans',sans-serif;font-weight:bold;stroke:#111;stroke-width:0.3px;font-size:9.5px" fill="#111">CD40</text>
<line x1="262.1" y1="23.9" x2="262.1" y2="103.2" stroke="#111" stroke-width="1.6" stroke-dasharray="1.3 1.9"/>
<path d="M265.4,104.2v2.8M271.3,104.2v1.8M274.8,104.2v1.8M277.3,104.2v1.8M279.2,104.2v1.8M280.7,104.2v1.8M282.1,104.2v1.8M283.2,104.2v1.8M284.2,104.2v1.8M285.1,104.2v2.8M291.1,104.2v1.8M294.5,104.2v1.8M297,104.2v1.8M298.9,104.2v1.8M300.5,104.2v1.8M301.8,104.2v1.8M302.9,104.2v1.8M304,104.2v1.8M304.9,104.2v2.8M310.8,104.2v1.8M314.3,104.2v1.8M316.8,104.2v1.8M318.7,104.2v1.8M320.2,104.2v1.8M321.6,104.2v1.8M322.7,104.2v1.8M323.7,104.2v1.8M324.6,104.2v2.8M330.6,104.2v1.8M334,104.2v1.8M336.5,104.2v1.8M338.4,104.2v1.8M340,104.2v1.8M341.3,104.2v1.8M342.4,104.2v1.8M343.5,104.2v1.8" stroke="#222" stroke-width="1" fill="none"/>
<rect x="263.7" y="22.9" width="81.3" height="80.3" fill="none" stroke="#111" stroke-width="2"/>
<path d="M264.8,94.4 265.1,93.8 265.4,94.1 265.7,93.4 266,92.1 266.3,96.1 266.6,94.3 266.9,93.4 267.2,93.4 267.5,93.4 267.8,98.2 268.1,92.6 268.4,91 268.7,92.9 269,91.4 269.3,91.2 269.6,92.2 269.9,91 270.2,90.7 270.5,91.3 270.8,92.9 271.1,90.6 271.4,91.1 271.7,88.5 272,86.1 272.3,89.1 272.6,90.6 272.9,87.5 273.2,86 273.5,89 273.8,86.6 274.1,82.8 274.4,85.5 274.7,86.7 275,80.6 275.3,79.2 275.6,79.2 275.9,77.5 276.2,76.4 276.5,77.9 276.8,77.3 277.1,74.4 277.4,78.2 277.7,83 278,77.6 278.3,78.7 278.6,75 278.9,75.7 279.2,78.7 279.5,74.3 279.8,74.1 280.1,72.5 280.4,71 280.7,71.7 281,76.1 281.3,71.6 281.6,66.3 281.9,65.9 282.2,64.3 282.5,64.5 282.8,77.1 283.1,62.5 283.4,56.1 283.7,56.1 284,59.3 284.3,56.7 284.6,56.1 284.9,61.2 285.2,67.7 285.5,63.5 285.8,68.3 286.1,64.9 286.4,69.1 286.7,71.7 287,68.9 287.3,74.4 287.6,72.2 287.9,74.1 288.2,81.4 288.5,77.2 288.8,81.4 289.1,81.5 289.4,78.5 289.7,81.2 290,78.5 290.3,79.9 290.6,81.9 290.9,87.1 291.2,84 291.5,84.5 291.8,84.9 292.1,91.3 292.4,86.7 292.7,87 293,88.6 293.3,90.5 293.6,91.6 293.9,92.1 294.2,92.3 294.5,93.4 294.8,95.4 295.1,97.7 295.4,97.5 295.7,97.3 296,98.3 296.3,97.1 296.6,98.8 296.9,99.1 297.2,99.2 297.5,99.8 297.8,99.6 298.1,99.6 298.4,99.8 298.7,99.7 299,100.1 299.3,99.9 299.6,99.6 299.9,100.1" fill="none" stroke="#555" stroke-width="1.2" stroke-dasharray="1 0.9"/>
<path d="M264.8,95.1 265.1,97.2 265.4,94.5 265.7,97.6 266,95.4 266.3,96.7 266.6,95.2 266.9,96.1 267.2,93.4 267.5,94.8 267.8,95.3 268.1,92.9 268.4,93.4 268.7,94.3 269,94.7 269.3,94 269.6,94.7 269.9,94.4 270.2,95.5 270.5,94.7 270.8,93.1 271.1,92.7 271.4,91.1 271.7,92.9 272,95.1 272.3,92.5 272.6,92.3 272.9,90.4 273.2,93.4 273.5,90.2 273.8,93.5 274.1,88.8 274.4,88.8 274.7,90.6 275,89.9 275.3,90.8 275.6,89.3 275.9,90.5 276.2,90.5 276.5,93.9 276.8,86.9 277.1,87 277.4,89 277.7,85.8 278,88 278.3,88.9 278.6,87.3 278.9,88.1 279.2,86.4 279.5,84 279.8,83.7 280.1,85.2 280.4,82.9 280.7,86.7 281,83.8 281.3,84 281.6,80.3 281.9,84.3 282.2,85.4 282.5,81.9 282.8,76.2 283.1,83.1 283.4,79.4 283.7,79.2 284,79.6 284.3,73.1 284.6,74.9 284.9,79 285.2,80.6 285.5,73 285.8,74.8 286.1,74.9 286.4,65.2 286.7,71.8 287,66.7 287.3,75.8 287.6,74.9 287.9,71.9 288.2,65.2 288.5,65.7 288.8,65.2 289.1,68.4 289.4,67 289.7,65.2 290,66.7 290.3,74.1 290.6,71.8 290.9,72.4 291.2,74 291.5,70.9 291.8,75.9 292.1,73.7 292.4,73.7 292.7,80.2 293,74.5 293.3,82.3 293.6,80.7 293.9,80.2 294.2,83.7 294.5,88.4 294.8,89.2 295.1,89.2 295.4,85.5 295.7,94.5 296,91 296.3,89.6 296.6,90.9 296.9,93.8 297.2,94.2 297.5,93.2 297.8,96 298.1,95.6 298.4,96.4 298.7,96.2 299,96.2 299.3,98.3 299.6,96.1 299.9,97.8 300.2,98.9 300.5,99.5 300.8,98.3 301.1,99.7 301.4,100.1 301.7,99.5 302,100.1 302.3,101.1 302.6,100.3 302.9,100.2 303.2,99.6 303.5,101.3 303.8,101.3 304.1,101.4 304.4,100 304.7,100.5 305,101.8 305.3,99.9 305.6,101.3 305.9,101.3 306.2,100.7 306.5,101.3 306.8,100.9 307.1,100.7 307.4,101.3 307.7,100.5 308,100.7 308.3,100.3 308.6,101.1 308.9,100.8 309.2,100.4 309.5,101.2 309.8,100.8 310.1,101.4 310.4,101.5 310.7,101 311,100.5 311.3,100.6" fill="none" stroke="#000" stroke-width="1.15" stroke-linejoin="round"/>
<text x="267.8" y="32.7" style="font-family:'Liberation Sans',sans-serif;font-weight:bold;stroke:#111;stroke-width:0.3px;font-size:9.5px" fill="#111">ICOS-L</text>
<line x1="348.6" y1="23.9" x2="348.6" y2="103.2" stroke="#111" stroke-width="1.6" stroke-dasharray="1.3 1.9"/>
<path d="M351.9,104.2v2.8M357.8,104.2v1.8M361.3,104.2v1.8M363.8,104.2v1.8M365.7,104.2v1.8M367.2,104.2v1.8M368.6,104.2v1.8M369.7,104.2v1.8M370.7,104.2v1.8M371.6,104.2v2.8M377.6,104.2v1.8M381.1,104.2v1.8M383.5,104.2v1.8M385.4,104.2v1.8M387,104.2v1.8M388.3,104.2v1.8M389.5,104.2v1.8M390.5,104.2v1.8M391.4,104.2v2.8M397.3,104.2v1.8M400.8,104.2v1.8M403.3,104.2v1.8M405.2,104.2v1.8M406.7,104.2v1.8M408.1,104.2v1.8M409.2,104.2v1.8M410.2,104.2v1.8M411.1,104.2v2.8M417.1,104.2v1.8M420.6,104.2v1.8M423,104.2v1.8M424.9,104.2v1.8M426.5,104.2v1.8M427.8,104.2v1.8M429,104.2v1.8M430,104.2v1.8" stroke="#222" stroke-width="1" fill="none"/>
<rect x="350.2" y="22.9" width="81.3" height="80.3" fill="none" stroke="#111" stroke-width="2"/>
<path d="M382.8,100.3 383.1,100 383.4,101.4 383.7,100.6 384,100.1 384.3,100.8 384.6,100.2 384.9,100.5 385.2,101.2 385.5,100.8 385.8,100.1 386.1,100.2 386.4,100.8 386.7,100.7 387,100.5 387.3,100.7 387.6,100.5 387.9,100.7 388.2,101.1 388.5,100.5 388.8,100.3 389.1,99.5 389.4,99.7 389.7,98.7 390,99.9 390.3,100.4 390.6,98.5 390.9,99.6 391.2,98.7 391.5,100.4 391.8,99.2 392.1,97.9 392.4,98.3 392.7,96.9 393,97.7 393.3,95.1 393.6,94.7 393.9,95.3 394.2,94.6 394.5,93.4 394.8,93 395.1,92 395.4,89.9 395.7,91.5 396,88.7 396.3,87.3 396.6,84.9 396.9,82.4 397.2,79.7 397.5,78.1 397.8,74.9 398.1,69.6 398.4,66.5 398.7,63.3 399,59.4 399.3,41.5 399.6,48.9 399.9,50.1 400.2,45.7 400.5,58.4 400.8,40.5 401.1,34.9 401.4,40.6 401.7,49.7 402,37.2 402.3,35.2 402.6,44.8 402.9,54.3 403.2,53.7 403.5,59.7 403.8,72.8 404.1,73.2 404.4,82.5 404.7,88.1 405,89 405.3,93 405.6,95.1 405.9,96.4 406.2,97 406.5,98.2 406.8,98.4 407.1,99.7 407.4,100.7 407.7,100.3 408,99.8 408.3,101 408.6,99.6 408.9,100.2 409.2,100.3 409.5,100.5 409.8,100.1 410.1,100.2 410.4,100.7 410.7,100.8" fill="none" stroke="#555" stroke-width="1.2" stroke-dasharray="1 0.9"/>
<path d="M373.8,101.2 374.1,99.9 374.4,100.9 374.7,101.8 375,100.8 375.3,100.5 375.6,100.9 375.9,100.6 376.2,100.2 376.5,101.3 376.8,101.3 377.1,100.4 377.4,100.4 377.7,101 378,100.8 378.3,100.2 378.6,100.2 378.9,100.1 379.2,100.5 379.5,100.1 379.8,98.9 380.1,99.1 380.4,100 380.7,99 381,99.2 381.3,99.6 381.6,99.3 381.9,99.5 382.2,97 382.5,99.6 382.8,98.7 383.1,99.2 383.4,98.2 383.7,98.1 384,96.1 384.3,98.5 384.6,96.7 384.9,97.1 385.2,96.3 385.5,94.6 385.8,93.9 386.1,93.8 386.4,93.9 386.7,89.8 387,91.6 387.3,92.3 387.6,86.6 387.9,88.7 388.2,86.2 388.5,89 388.8,84.7 389.1,85.1 389.4,77.2 389.7,83.6 390,85.9 390.3,78.2 390.6,68.5 390.9,70.2 391.2,67.2 391.5,61.8 391.8,63.1 392.1,59.1 392.4,66 392.7,65.3 393,70.4 393.3,67.3 393.6,64.5 393.9,66.8 394.2,66.6 394.5,74.9 394.8,59.1 395.1,61.2 395.4,59.1 395.7,59.4 396,70.1 396.3,66.8 396.6,63.4 396.9,75.5 397.2,76 397.5,71.5 397.8,77.7 398.1,81.3 398.4,77.3 398.7,84.3 399,80.9 399.3,82.9 399.6,86.4 399.9,92 400.2,90.1 400.5,90.8 400.8,91.8 401.1,94.7 401.4,94.9 401.7,96.1 402,97.4 402.3,96.9 402.6,96.4 402.9,98.4 403.2,97.7 403.5,98.6 403.8,98.6 404.1,100.5 404.4,99.4 404.7,99.2 405,100.5 405.3,100.9 405.6,100.1 405.9,100.7 406.2,100.4 406.5,100.8 406.8,100.7 407.1,100.4 407.4,100.4 407.7,100.2 408,100.2 408.3,100.5 408.6,100.8 408.9,100.6 409.2,99.9 409.5,101 409.8,100.3 410.1,100.9 410.4,100.8 410.7,100 411,99.9 411.3,100 411.6,100.1 411.9,101.1" fill="none" stroke="#000" stroke-width="1.15" stroke-linejoin="round"/>
<text x="354.3" y="32.7" style="font-family:'Liberation Sans',sans-serif;font-weight:bold;stroke:#111;stroke-width:0.3px;font-size:9.5px" fill="#111">BAFF-R</text>
<line x1="435.1" y1="23.9" x2="435.1" y2="103.2" stroke="#111" stroke-width="1.6" stroke-dasharray="1.3 1.9"/>
<path d="M438.4,104.2v2.8M444.3,104.2v1.8M447.8,104.2v1.8M450.3,104.2v1.8M452.2,104.2v1.8M453.8,104.2v1.8M455.1,104.2v1.8M456.2,104.2v1.8M457.2,104.2v1.8M458.1,104.2v2.8M464.1,104.2v1.8M467.6,104.2v1.8M470,104.2v1.8M472,104.2v1.8M473.5,104.2v1.8M474.8,104.2v1.8M476,104.2v1.8M477,104.2v1.8M477.9,104.2v2.8M483.8,104.2v1.8M487.3,104.2v1.8M489.8,104.2v1.8M491.7,104.2v1.8M493.3,104.2v1.8M494.6,104.2v1.8M495.7,104.2v1.8M496.7,104.2v1.8M497.6,104.2v2.8M503.6,104.2v1.8M507.1,104.2v1.8M509.5,104.2v1.8M511.5,104.2v1.8M513,104.2v1.8M514.3,104.2v1.8M515.5,104.2v1.8M516.5,104.2v1.8" stroke="#222" stroke-width="1" fill="none"/>
<rect x="436.7" y="22.9" width="81.3" height="80.3" fill="none" stroke="#111" stroke-width="2"/>
<path d="M437.7,95.4 438,93.9 438.3,94.3 438.6,94 438.9,90.6 439.2,92.4 439.5,91.7 439.8,91.3 440.1,91.2 440.4,90.4 440.7,88.6 441,89.4 441.3,89.4 441.6,87.6 441.9,88.4 442.2,84 442.5,85 442.8,86.2 443.1,89 443.4,88.1 443.7,86.7 444,86.2 444.3,84 444.6,83.5 444.9,89.5 445.2,84.4 445.5,82.8 445.8,83.2 446.1,83.3 446.4,81.7 446.7,78.5 447,82.7 447.3,78.9 447.6,77.7 447.9,83.4 448.2,77.1 448.5,85 448.8,77.2 449.1,79.9 449.4,78.9 449.7,77.6 450,77.8 450.3,80.1 450.6,77.7 450.9,77.5 451.2,77.1 451.5,79.2 451.8,77.1 452.1,77.1 452.4,81.6 452.7,82.7 453,81.1 453.3,79.7 453.6,83.8 453.9,81.6 454.2,82.1 454.5,83.5 454.8,85 455.1,85.6 455.4,87.9 455.7,86.3 456,87 456.3,86.7 456.6,87.4 456.9,87.1 457.2,89.6 457.5,89.5 457.8,88.7 458.1,91.4 458.4,90.9 458.7,90.4 459,93.3 459.3,92.2 459.6,92.1 459.9,92.9 460.2,96.7 460.5,94.2 460.8,96.1 461.1,96.8 461.4,95 461.7,95.9 462,96.4 462.3,95.9 462.6,97.4 462.9,97.6 463.2,98.5 463.5,98.7 463.8,98.3 464.1,97.3 464.4,97.8 464.7,99.6 465,98.9 465.3,99.6 465.6,99.3 465.9,100.1 466.2,99.7 466.5,99.3 466.8,99.1 467.1,98.2 467.4,100 467.7,100.1 468,100.9 468.3,100.4 468.6,100 468.9,100.8 469.2,100.6 469.5,100.4 469.8,101.2 470.1,99.6 470.4,100.2 470.7,100.7" fill="none" stroke="#555" stroke-width="1.2" stroke-dasharray="1 0.9"/>
<path d="M437.7,93.6 438,93.3 438.3,92.1 438.6,93.6 438.9,87.7 439.2,92.6 439.5,93.9 439.8,92.3 440.1,95.3 440.4,90.2 440.7,92.9 441,90 441.3,88.9 441.6,88.5 441.9,89.2 442.2,87.2 442.5,86.9 442.8,86.5 443.1,84 443.4,85.7 443.7,87 444,86.8 444.3,83.3 444.6,87 444.9,83.7 445.2,82.3 445.5,82.6 445.8,85.5 446.1,79.6 446.4,78.9 446.7,84.7 447,84 447.3,82 447.6,82.8 447.9,79.6 448.2,80.1 448.5,82.7 448.8,79.3 449.1,82.2 449.4,81.2 449.7,74.9 450,81.1 450.3,80.2 450.6,77.3 450.9,76.3 451.2,83.1 451.5,79.5 451.8,76.3 452.1,79.5 452.4,87.2 452.7,77.1 453,80.4 453.3,74.9 453.6,80.5 453.9,78.2 454.2,78.2 454.5,85.9 454.8,77.4 455.1,86.1 455.4,74.9 455.7,74.9 456,80.5 456.3,75 456.6,79.6 456.9,80.8 457.2,81.8 457.5,81.6 457.8,81.3 458.1,82.9 458.4,82.5 458.7,84.3 459,87.3 459.3,87 459.6,90.1 459.9,88.9 460.2,85.2 460.5,87.2 460.8,89.2 461.1,88.3 461.4,87.7 461.7,91.6 462,90.7 462.3,91.7 462.6,91.9 462.9,90.5 463.2,93.9 463.5,93.9 463.8,93.6 464.1,94.5 464.4,97 464.7,97.1 465,94.8 465.3,94.8 465.6,94.7 465.9,96.9 466.2,97.1 466.5,96.6 466.8,96.7 467.1,97.8 467.4,99.5 467.7,98.6 468,98.4 468.3,98.8 468.6,98.2 468.9,98.9 469.2,99.6 469.5,99 469.8,99.7 470.1,99 470.4,98.9 470.7,100.1 471,98.6 471.3,100.3 471.6,99.5 471.9,100 472.2,100 472.5,99.3 472.8,101.2 473.1,100.7 473.4,99.5 473.7,100.9 474,100.8 474.3,100.4 474.6,100.4 474.9,99.9 475.2,100.2 475.5,100.2 475.8,99.6 476.1,98.7 476.4,99.5 476.7,100.6 477,100.1 477.3,100.5 477.6,100.6 477.9,100.5 478.2,100.2 478.5,100.4 478.8,101.1 479.1,100.4 479.4,100 479.7,100.9 480,101.1 480.3,100.2 480.6,100.1 480.9,99.6 481.2,100 481.5,101.1 481.8,100.9 482.1,101.1 482.4,100.8 482.7,101 483,100.1 483.3,101 483.6,100.1 483.9,100.3 484.2,100.5 484.5,100.3 484.8,100 485.1,100.4 485.4,100.5 485.7,100.1 486,101.6 486.3,100.4 486.6,100.7 486.9,101.4 487.2,100.7 487.5,100.5 487.8,100.2 488.1,100.5 488.4,100.5 488.7,99.8 489,100.8 489.3,101.1 489.6,100.7 489.9,100 490.2,100.4 490.5,100.2 490.8,100.4 491.1,101.5 491.4,100.6 491.7,100.7 492,100.5 492.3,100.9 492.6,100.4 492.9,100.7 493.2,100.3 493.5,99.7 493.8,99.2 494.1,99.4 494.4,99.4 494.7,99.2 495,101.5 495.3,101 495.6,100.7 495.9,101.1 496.2,101.1 496.5,100.4 496.8,100.7 497.1,101.7 497.4,100.5 497.7,100.4 498,100.4 498.3,100.5 498.6,100.7 498.9,101 499.2,99.4 499.5,100 499.8,100.8 500.1,100 500.4,100.2 500.7,100.5 501,100.5 501.3,100.2 501.6,99.4 501.9,100.2 502.2,100.5 502.5,101 502.8,101.7 503.1,100.4 503.4,100.7 503.7,100.6 504,100.3 504.3,100 504.6,101.1 504.9,101.3 505.2,101.9 505.5,99.7 505.8,100.4 506.1,100.1 506.4,100.4 506.7,100.6 507,100.8 507.3,100.2 507.6,101.4 507.9,100.7 508.2,100.2 508.5,100.5 508.8,100.7 509.1,101.6 509.4,100.6 509.7,101.1 510,100.6 510.3,101.3 510.6,100.6 510.9,101.6 511.2,100.5 511.5,101 511.8,100.6 512.1,100 512.4,100.7 512.7,101.1 513,100 513.3,101.4 513.6,101.1" fill="none" stroke="#000" stroke-width="1.15" stroke-linejoin="round"/>
<text x="440.8" y="32.7" style="font-family:'Liberation Sans',sans-serif;font-weight:bold;stroke:#111;stroke-width:0.3px;font-size:9.5px" fill="#111">TACI</text>
<line x1="2.5" y1="123.3" x2="2.5" y2="202.6" stroke="#111" stroke-width="1.6" stroke-dasharray="1.3 1.9"/>
<path d="M5.8,203.6v2.8M11.7,203.6v1.8M15.2,203.6v1.8M17.7,203.6v1.8M19.6,203.6v1.8M21.2,203.6v1.8M22.5,203.6v1.8M23.6,203.6v1.8M24.6,203.6v1.8M25.6,203.6v2.8M31.5,203.6v1.8M35,203.6v1.8M37.4,203.6v1.8M39.4,203.6v1.8M40.9,203.6v1.8M42.2,203.6v1.8M43.4,203.6v1.8M44.4,203.6v1.8M45.3,203.6v2.8M51.2,203.6v1.8M54.7,203.6v1.8M57.2,203.6v1.8M59.1,203.6v1.8M60.7,203.6v1.8M62,203.6v1.8M63.1,203.6v1.8M64.1,203.6v1.8M65,203.6v2.8M71,203.6v1.8M74.5,203.6v1.8M76.9,203.6v1.8M78.9,203.6v1.8M80.4,203.6v1.8M81.7,203.6v1.8M82.9,203.6v1.8M83.9,203.6v1.8" stroke="#222" stroke-width="1" fill="none"/>
<rect x="4.1" y="122.3" width="81.3" height="80.3" fill="none" stroke="#111" stroke-width="2"/>
<path d="M4.7,183.1 5,180.8 5.3,178.3 5.6,179.5 5.9,178.3 6.2,178.4 6.5,179 6.8,180 7.1,183.1 7.4,177.6 7.7,183.8 8,181.9 8.3,180.9 8.6,183.7 8.9,180.1 9.2,181.2 9.5,182.3 9.8,182.5 10.1,185.6 10.4,181.7 10.7,182.1 11,178.5 11.3,179.9 11.6,185.8 11.9,181.5 12.2,182 12.5,176 12.8,172.4 13.1,170.2 13.4,169.2 13.7,174.7 14,178.7 14.3,181.1 14.6,180.1 14.9,180.6 15.2,185.1 15.5,178.4 15.8,176.7 16.1,179.1 16.4,185.3 16.7,178.1 17,174 17.3,175.1 17.6,169.2 17.9,174.9 18.2,171.6 18.5,176.4 18.8,180.4 19.1,185.2 19.4,182.9 19.7,184.1 20,184.2 20.3,185.8 20.6,186.2 20.9,186.4 21.2,184.3 21.5,187.1 21.8,185.4 22.1,186.1 22.4,184.9 22.7,186.8 23,185.3 23.3,187.7 23.6,187.5 23.9,188.7 24.2,190.2 24.5,188 24.8,189.2 25.1,190.9 25.4,190.4 25.7,192.2 26,191.9 26.3,193.4 26.6,194.7 26.9,193.4 27.2,194.6 27.5,194.6 27.8,196.5 28.1,196.3 28.4,197.2 28.7,198.5 29,197.6 29.3,196.9 29.6,197.8 29.9,198 30.2,199.4 30.5,198.2 30.8,197.9 31.1,197.3 31.4,198 31.7,198.6 32,198.2 32.3,196.8 32.6,197.4 32.9,197.3 33.2,198.1 33.5,197.7 33.8,197.3 34.1,197.2 34.4,197.9 34.7,198.6 35,197.9 35.3,197.5 35.6,199.1 35.9,198.6 36.2,199.7 36.5,198.8 36.8,198 37.1,199.1 37.4,198.5 37.7,199.4 38,199.1 38.3,200 38.6,199.2 38.9,200 39.2,199.3 39.5,199.9 39.8,200 40.1,199.8 40.4,200 40.7,199.5 41,200.3 41.3,199.9 41.6,199.9 41.9,200.5 42.2,199.9 42.5,200.2 42.8,200 43.1,200.9 43.4,200 43.7,200.5 44,201.5 44.3,200.3 44.6,200.4" fill="none" stroke="#555" stroke-width="1.2" stroke-dasharray="1 0.9"/>
<path d="M4.7,190.6 5,189.7 5.3,190.5 5.6,189.5 5.9,189.2 6.2,196.2 6.5,191.3 6.8,189.7 7.1,190.3 7.4,187.7 7.7,189.9 8,190.6 8.3,190.4 8.6,187.3 8.9,188.8 9.2,188.6 9.5,191.8 9.8,187 10.1,189.7 10.4,186.5 10.7,186.3 11,185.4 11.3,187.9 11.6,183.8 11.9,189.8 12.2,183.8 12.5,187.9 12.8,184.9 13.1,180.1 13.4,182.1 13.7,186.2 14,178.2 14.3,182.6 14.6,186.4 14.9,183.9 15.2,182 15.5,181.9 15.8,184.5 16.1,187.9 16.4,183.6 16.7,179.8 17,182.1 17.3,177.1 17.6,180.3 17.9,177.7 18.2,184 18.5,183.8 18.8,181.6 19.1,177.8 19.4,176 19.7,177.1 20,176 20.3,176 20.6,182.2 20.9,184.5 21.2,186.3 21.5,183.2 21.8,183.8 22.1,183.1 22.4,182.7 22.7,180.6 23,185.4 23.3,187.4 23.6,185.2 23.9,184 24.2,180.4 24.5,177 24.8,180.1 25.1,180 25.4,188.2 25.7,186.1 26,184.9 26.3,183.1 26.6,187.2 26.9,189.4 27.2,188.6 27.5,185.8 27.8,188.7 28.1,190.1 28.4,190.8 28.7,189.1 29,191.5 29.3,186.8 29.6,188.8 29.9,192.6 30.2,191.7 30.5,190.5 30.8,191.5 31.1,189.6 31.4,193.8 31.7,192 32,194.6 32.3,195.6 32.6,195.3 32.9,193.9 33.2,193.1 33.5,192.7 33.8,193.8 34.1,195.5 34.4,193.9 34.7,196.1 35,192.7 35.3,192.9 35.6,191.8 35.9,193.6 36.2,193.6 36.5,192.2 36.8,193 37.1,194.5 37.4,193.5 37.7,195.4 38,197.1 38.3,194.3 38.6,195.2 38.9,195.5 39.2,196.9 39.5,195.2 39.8,195.8 40.1,197 40.4,198.8 40.7,198.1 41,198.4 41.3,197.4 41.6,198.3 41.9,196.2 42.2,198.4 42.5,198.2 42.8,199 43.1,199 43.4,198.7 43.7,197.9 44,197.6 44.3,199.3 44.6,198.5 44.9,199.5 45.2,199.3 45.5,199.4 45.8,199.5 46.1,199.8 46.4,200.3 46.7,199.6 47,199.7 47.3,200.8 47.6,200.1 47.9,200.1 48.2,200.1 48.5,200.3 48.8,200.6 49.1,200.2 49.4,200.6 49.7,200.9 50,200.9 50.3,200.6 50.6,200.4 50.9,201.1 51.2,200.7 51.5,200.4 51.8,200.4 52.1,200.3 52.4,200.3 52.7,201.3 53,200.2 53.3,200 53.6,200.4 53.9,200.5 54.2,200.2 54.5,200.5 54.8,200.4 55.1,200.8 55.4,200.8 55.7,201 56,200.3 56.3,200.5 56.6,201.5 56.9,201 57.2,200.9 57.5,200.1 57.8,200.6 58.1,200.5 58.4,200.5 58.7,200.7 59,200.7 59.3,200.7 59.6,200.7 59.9,200.5 60.2,200.7 60.5,200.8 60.8,200.7 61.1,200.8 61.4,200.9 61.7,201 62,200.5 62.3,200.6 62.6,200.6 62.9,200.6 63.2,200.2 63.5,200.9 63.8,200.1 64.1,201 64.4,200.7 64.7,200.5 65,200.6 65.3,199.9 65.6,200.8 65.9,201 66.2,201.4 66.5,201.3 66.8,200.2 67.1,201 67.4,199.9 67.7,200.2 68,200 68.3,199.8 68.6,200.4 68.9,200.5 69.2,200.5 69.5,200.9 69.8,199.9 70.1,200.9 70.4,200.2 70.7,201.1 71,200.8 71.3,201.4 71.6,201 71.9,200.6 72.2,200.5 72.5,200.5 72.8,200 73.1,200.7 73.4,200.3 73.7,200.8 74,200.6 74.3,200.2 74.6,200.8 74.9,199.6 75.2,200.7 75.5,200.7 75.8,200.5 76.1,200.1 76.4,200.8 76.7,200.7 77,200.4 77.3,200.1 77.6,201.2 77.9,201.2 78.2,201 78.5,200.8 78.8,200.8 79.1,200.3 79.4,200.5 79.7,199.8 80,201 80.3,200.1 80.6,200.7" fill="none" stroke="#000" stroke-width="1.15" stroke-linejoin="round"/>
<text x="8.2" y="131.8" style="font-family:'Liberation Sans',sans-serif;font-weight:bold;stroke:#111;stroke-width:0.3px;font-size:9.5px" fill="#111">CD80</text>
<line x1="89" y1="123.3" x2="89" y2="202.6" stroke="#111" stroke-width="1.6" stroke-dasharray="1.3 1.9"/>
<path d="M92.3,203.6v2.8M98.3,203.6v1.8M101.7,203.6v1.8M104.2,203.6v1.8M106.1,203.6v1.8M107.7,203.6v1.8M109,203.6v1.8M110.2,203.6v1.8M111.2,203.6v1.8M112.1,203.6v2.8M118,203.6v1.8M121.5,203.6v1.8M124,203.6v1.8M125.9,203.6v1.8M127.4,203.6v1.8M128.8,203.6v1.8M129.9,203.6v1.8M130.9,203.6v1.8M131.8,203.6v2.8M137.8,203.6v1.8M141.2,203.6v1.8M143.7,203.6v1.8M145.6,203.6v1.8M147.2,203.6v1.8M148.5,203.6v1.8M149.7,203.6v1.8M150.7,203.6v1.8M151.6,203.6v2.8M157.5,203.6v1.8M161,203.6v1.8M163.5,203.6v1.8M165.4,203.6v1.8M166.9,203.6v1.8M168.3,203.6v1.8M169.4,203.6v1.8M170.4,203.6v1.8" stroke="#222" stroke-width="1" fill="none"/>
<rect x="90.6" y="122.3" width="81.3" height="80.3" fill="none" stroke="#111" stroke-width="2"/>
<path d="M91.9,200.2 92.2,200.5 92.5,201 92.8,200.7 93.1,200.5 93.4,201.1 93.7,200.3 94,199.6 94.3,200.3 94.6,199.9 94.9,200.2 95.2,200.3 95.5,199.9 95.8,199.9 96.1,199.7 96.4,199.4 96.7,198.6 97,198.6 97.3,198.4 97.6,198.6 97.9,198.4 98.2,198.7 98.5,198.1 98.8,197.3 99.1,197 99.4,197.4 99.7,196.9 100,194.4 100.3,195.8 100.6,196 100.9,195 101.2,194.7 101.5,191.7 101.8,194.6 102.1,192.6 102.4,194 102.7,190.4 103,188.1 103.3,189 103.6,188 103.9,187.8 104.2,187.5 104.5,185.4 104.8,185.6 105.1,188 105.4,185 105.7,181.5 106,181.4 106.3,181.9 106.6,182 106.9,181.1 107.2,178.3 107.5,174.2 107.8,173.4 108.1,176.6 108.4,171.6 108.7,175.1 109,173.8 109.3,166.5 109.6,166.2 109.9,170.3 110.2,170.5 110.5,168.4 110.8,162.7 111.1,163.1 111.4,161.4 111.7,157.8 112,158 112.3,162.5 112.6,154.7 112.9,155.3 113.2,150.7 113.5,148.4 113.8,147.8 114.1,147.8 114.4,149.7 114.7,150.7 115,151.7 115.3,153.9 115.6,157.6 115.9,155.7 116.2,156.9 116.5,160.2 116.8,163.6 117.1,165 117.4,169.7 117.7,167.7 118,169.8 118.3,168 118.6,172.6 118.9,174 119.2,172.9 119.5,176.9 119.8,186 120.1,182.3 120.4,181.8 120.7,181 121,181.2 121.3,182.8 121.6,185.7 121.9,178.6 122.2,186.1 122.5,186.2 122.8,185.6 123.1,185.7 123.4,186.5 123.7,188.3 124,189.2 124.3,189.9 124.6,193.1 124.9,190.4 125.2,191.9 125.5,193 125.8,192 126.1,190.7 126.4,193.3 126.7,193.7 127,194.7 127.3,193.9 127.6,194.9 127.9,196.4 128.2,194.9 128.5,196.1 128.8,195 129.1,196.5 129.4,196.7 129.7,196.5 130,197.1 130.3,197.1 130.6,197.3 130.9,197.3 131.2,197.5 131.5,198 131.8,197.7 132.1,197.8 132.4,198.3 132.7,200 133,198.1 133.3,199.4 133.6,198.3 133.9,199 134.2,199 134.5,200 134.8,200.3 135.1,199.1 135.4,199.7 135.7,200.3 136,198.8 136.3,200 136.6,200.4 136.9,199.7 137.2,199.8 137.5,200.4 137.8,200.1 138.1,200 138.4,200.5 138.7,200.5 139,199.9 139.3,200.2 139.6,200.9 139.9,200.5 140.2,200.4 140.5,200.7 140.8,200.6 141.1,200.4 141.4,200.3" fill="none" stroke="#555" stroke-width="1.2" stroke-dasharray="1 0.9"/>
<path d="M97.5,201.2 97.8,200.7 98.1,200.1 98.4,200.6 98.7,200.1 99,201.1 99.3,200.2 99.6,200.1 99.9,200.5 100.2,200.7 100.5,200.5 100.8,199.9 101.1,200.1 101.4,200.8 101.7,200.5 102,200.6 102.3,200 102.6,200.5 102.9,200.3 103.2,200.8 103.5,199.6 103.8,200.1 104.1,199.9 104.4,200.5 104.7,200 105,200.7 105.3,198.9 105.6,199.5 105.9,200.3 106.2,199 106.5,199.7 106.8,200.5 107.1,198.8 107.4,199.2 107.7,199.5 108,198.6 108.3,198.6 108.6,199.1 108.9,198.7 109.2,198.6 109.5,198.1 109.8,198.4 110.1,196.4 110.4,199.6 110.7,197.1 111,197.3 111.3,195.7 111.6,195.7 111.9,196.5 112.2,197.9 112.5,198 112.8,197.9 113.1,194.4 113.4,195.8 113.7,191.5 114,197.6 114.3,191.1 114.6,189.9 114.9,192.5 115.2,190.8 115.5,189.1 115.8,190.2 116.1,189.5 116.4,190 116.7,186.8 117,187.2 117.3,187 117.6,186.7 117.9,187.3 118.2,183.2 118.5,175.4 118.8,179.9 119.1,179.5 119.4,180.7 119.7,179.6 120,183 120.3,175.7 120.6,182.8 120.9,174.5 121.2,179.5 121.5,173.1 121.8,162 122.1,165.8 122.4,172.5 122.7,164.1 123,168.3 123.3,160.7 123.6,164.4 123.9,158.8 124.2,153.7 124.5,167.3 124.8,152.8 125.1,156.1 125.4,155.1 125.7,152.3 126,159.1 126.3,155.1 126.6,155.8 126.9,164.9 127.2,158.1 127.5,160.8 127.8,165.8 128.1,156.3 128.4,181.5 128.7,161.4 129,175.2 129.3,159.4 129.6,166.3 129.9,170.7 130.2,178.4 130.5,174.8 130.8,175.9 131.1,178.9 131.4,179.9 131.7,183 132,178.9 132.3,178.3 132.6,185.7 132.9,184.3 133.2,187.2 133.5,187.9 133.8,185.9 134.1,184.5 134.4,191 134.7,188.5 135,193.7 135.3,193.3 135.6,195.2 135.9,195.7 136.2,195.3 136.5,194.3 136.8,196 137.1,197.4 137.4,197.3 137.7,196.1 138,198.3 138.3,197.5 138.6,199.5 138.9,199.1 139.2,198.9 139.5,199.5 139.8,199.9 140.1,199.6 140.4,200 140.7,199.6 141,200 141.3,200.2 141.6,200.8 141.9,200.4 142.2,200.6 142.5,199.6 142.8,201.2 143.1,200.1 143.4,200.7 143.7,200.7 144,201.2 144.3,200.8 144.6,200.5 144.9,200.9 145.2,201 145.5,200.8 145.8,200.4 146.1,201.3 146.4,200.6 146.7,200.5 147,200.4" fill="none" stroke="#000" stroke-width="1.15" stroke-linejoin="round"/>
<text x="94.7" y="131.8" style="font-family:'Liberation Sans',sans-serif;font-weight:bold;stroke:#111;stroke-width:0.3px;font-size:9.5px" fill="#111">CD86</text>
<line x1="175.5" y1="123.3" x2="175.5" y2="202.6" stroke="#111" stroke-width="1.6" stroke-dasharray="1.3 1.9"/>
<path d="M178.8,203.6v2.8M184.8,203.6v1.8M188.3,203.6v1.8M190.7,203.6v1.8M192.6,203.6v1.8M194.2,203.6v1.8M195.5,203.6v1.8M196.7,203.6v1.8M197.7,203.6v1.8M198.6,203.6v2.8M204.5,203.6v1.8M208,203.6v1.8M210.5,203.6v1.8M212.4,203.6v1.8M214,203.6v1.8M215.3,203.6v1.8M216.4,203.6v1.8M217.4,203.6v1.8M218.3,203.6v2.8M224.3,203.6v1.8M227.8,203.6v1.8M230.2,203.6v1.8M232.1,203.6v1.8M233.7,203.6v1.8M235,203.6v1.8M236.2,203.6v1.8M237.2,203.6v1.8M238.1,203.6v2.8M244,203.6v1.8M247.5,203.6v1.8M250,203.6v1.8M251.9,203.6v1.8M253.5,203.6v1.8M254.8,203.6v1.8M255.9,203.6v1.8M256.9,203.6v1.8" stroke="#222" stroke-width="1" fill="none"/>
<rect x="177.1" y="122.3" width="81.3" height="80.3" fill="none" stroke="#111" stroke-width="2"/>
<path d="M208.8,199.8 209.1,200.7 209.4,201 209.7,201.1 210,201.1 210.3,201.2 210.6,200.3 210.9,200.8 211.2,200.6 211.5,200.6 211.8,200.5 212.1,200.3 212.4,200.3 212.7,200.7 213,200.7 213.3,200.8 213.6,199.9 213.9,200.5 214.2,200.7 214.5,200.4 214.8,199.7 215.1,200.4 215.4,199.3 215.7,200.5 216,200 216.3,199.6 216.6,200 216.9,199.6 217.2,198.5 217.5,199.2 217.8,199.1 218.1,198.7 218.4,199 218.7,199 219,198.5 219.3,198.4 219.6,196.8 219.9,197 220.2,197.1 220.5,197.8 220.8,197 221.1,197 221.4,195.3 221.7,195.8 222,195.4 222.3,195.5 222.6,192.8 222.9,194.3 223.2,190.7 223.5,193 223.8,190.9 224.1,194 224.4,188.7 224.7,187.1 225,184.7 225.3,180.2 225.6,177.8 225.9,176.6 226.2,174.3 226.5,175.6 226.8,168.9 227.1,173 227.4,167.1 227.7,164.9 228,166 228.3,167 228.6,164.2 228.9,158.8 229.2,160.4 229.5,159.8 229.8,143.3 230.1,146.3 230.4,143.4 230.7,142.2 231,142.2 231.3,153.4 231.6,145.6 231.9,153.6 232.2,149.4 232.5,150.6 232.8,156.4 233.1,160.6 233.4,164.3 233.7,167.4 234,166.9 234.3,168.4 234.6,179.2 234.9,173 235.2,177.3 235.5,178.1 235.8,180.9 236.1,176.7 236.4,180.3 236.7,180.3 237,180.4 237.3,184.5 237.6,182.6 237.9,183.1 238.2,185.3 238.5,184.1 238.8,183.8 239.1,180.4 239.4,186 239.7,186.9 240,187.7 240.3,186.9 240.6,188 240.9,188.7 241.2,189.4 241.5,190.3 241.8,190.9 242.1,189.1 242.4,193 242.7,191.4 243,192.8 243.3,194.1 243.6,195.3 243.9,195 244.2,193.6 244.5,196.5 244.8,196.1 245.1,197.2 245.4,197.7 245.7,198.1 246,198.4 246.3,198.5 246.6,198 246.9,198.7 247.2,199.1 247.5,200 247.8,199.7 248.1,199.8 248.4,200 248.7,199.6 249,199.8 249.3,200.3 249.6,199.5 249.9,199.9 250.2,200.2 250.5,199.8 250.8,200.6 251.1,200.3 251.4,201.2 251.7,200.1 252,200.3 252.3,200.9 252.6,200.7" fill="none" stroke="#555" stroke-width="1.2" stroke-dasharray="1 0.9"/>
<path d="M213.3,201 213.6,200.3 213.9,200.6 214.2,200.8 214.5,200.4 214.8,201 215.1,200.9 215.4,200.2 215.7,200.6 216,201 216.3,201 216.6,200.4 216.9,200.7 217.2,200.5 217.5,200.8 217.8,201 218.1,200.4 218.4,200.1 218.7,199.9 219,201.7 219.3,200.7 219.6,200.7 219.9,200.8 220.2,200.6 220.5,200.5 220.8,201.2 221.1,199.9 221.4,199.2 221.7,199.8 222,200.2 222.3,200.3 222.6,201 222.9,200 223.2,200.2 223.5,200.6 223.8,200 224.1,199.4 224.4,200.3 224.7,200.5 225,200.5 225.3,199.7 225.6,200.5 225.9,199.8 226.2,199.6 226.5,200 226.8,200.1 227.1,199.2 227.4,199.8 227.7,198 228,199.3 228.3,198.1 228.6,198.5 228.9,197.2 229.2,198.3 229.5,198.4 229.8,197.4 230.1,198 230.4,197.1 230.7,199.3 231,196.7 231.3,195.9 231.6,194.6 231.9,193.8 232.2,195.4 232.5,192.2 232.8,193 233.1,191 233.4,191.5 233.7,188.5 234,189.6 234.3,189.5 234.6,185 234.9,189.1 235.2,187.4 235.5,181.2 235.8,182 236.1,179.9 236.4,183.7 236.7,176.1 237,179 237.3,174 237.6,165.3 237.9,173.4 238.2,165 238.5,159.3 238.8,168.9 239.1,159.9 239.4,151.5 239.7,152 240,143.8 240.3,135.5 240.6,143.7 240.9,148.2 241.2,135.8 241.5,154.7 241.8,152.9 242.1,149.2 242.4,143.4 242.7,150.5 243,155.7 243.3,155.2 243.6,154.2 243.9,155.1 244.2,165.4 244.5,168.7 244.8,175.8 245.1,187.3 245.4,185.6 245.7,186.1 246,185.2 246.3,189.8 246.6,193.5 246.9,192.4 247.2,193.8 247.5,196.4 247.8,196.4 248.1,198.2 248.4,197.3 248.7,198.7 249,198.2 249.3,199.8 249.6,199 249.9,199.8 250.2,200.3 250.5,200 250.8,200.2 251.1,199.8 251.4,200.8 251.7,200.8 252,199.9 252.3,200.8 252.6,200.4 252.9,200.1 253.2,201.1 253.5,199.8 253.8,200.7" fill="none" stroke="#000" stroke-width="1.15" stroke-linejoin="round"/>
<text x="181.2" y="131.8" style="font-family:'Liberation Sans',sans-serif;font-weight:bold;stroke:#111;stroke-width:0.3px;font-size:9.5px" fill="#111">MHC-I</text>
<line x1="262.1" y1="123.3" x2="262.1" y2="202.6" stroke="#111" stroke-width="1.6" stroke-dasharray="1.3 1.9"/>
<path d="M265.4,203.6v2.8M271.3,203.6v1.8M274.8,203.6v1.8M277.3,203.6v1.8M279.2,203.6v1.8M280.7,203.6v1.8M282.1,203.6v1.8M283.2,203.6v1.8M284.2,203.6v1.8M285.1,203.6v2.8M291.1,203.6v1.8M294.5,203.6v1.8M297,203.6v1.8M298.9,203.6v1.8M300.5,203.6v1.8M301.8,203.6v1.8M302.9,203.6v1.8M304,203.6v1.8M304.9,203.6v2.8M310.8,203.6v1.8M314.3,203.6v1.8M316.8,203.6v1.8M318.7,203.6v1.8M320.2,203.6v1.8M321.6,203.6v1.8M322.7,203.6v1.8M323.7,203.6v1.8M324.6,203.6v2.8M330.6,203.6v1.8M334,203.6v1.8M336.5,203.6v1.8M338.4,203.6v1.8M340,203.6v1.8M341.3,203.6v1.8M342.4,203.6v1.8M343.5,203.6v1.8" stroke="#222" stroke-width="1" fill="none"/>
<rect x="263.7" y="122.3" width="81.3" height="80.3" fill="none" stroke="#111" stroke-width="2"/>
<path d="M297.5,200.5 297.8,200.4 298.1,201 298.4,200.5 298.7,200.9 299,200.5 299.3,200.3 299.6,199.9 299.9,200.1 300.2,200.9 300.5,200.7 300.8,200.9 301.1,200.6 301.4,200.4 301.7,200.4 302,200.7 302.3,199.7 302.6,199.9 302.9,199.1 303.2,199.6 303.5,199.6 303.8,199.2 304.1,199.4 304.4,199.3 304.7,199.6 305,198.9 305.3,198.5 305.6,198.5 305.9,197.9 306.2,197.4 306.5,197.2 306.8,195.9 307.1,195.7 307.4,197.7 307.7,196.9 308,194.1 308.3,193.2 308.6,190.1 308.9,187.6 309.2,188.3 309.5,185 309.8,186.4 310.1,185.6 310.4,182.5 310.7,181.1 311,180.4 311.3,176 311.6,170.3 311.9,170.8 312.2,172.2 312.5,163.3 312.8,163.5 313.1,162.9 313.4,160.5 313.7,157.2 314,155.7 314.3,157.5 314.6,157.2 314.9,158.7 315.2,153.8 315.5,155.2 315.8,158.7 316.1,145.7 316.4,145.9 316.7,143.2 317,141.1 317.3,140.9 317.6,154.4 317.9,151.8 318.2,146.6 318.5,145.9 318.8,151.1 319.1,155.3 319.4,158.2 319.7,163 320,165.8 320.3,170.5 320.6,168.2 320.9,165.3 321.2,173.2 321.5,175.4 321.8,182.8 322.1,183.3 322.4,184.4 322.7,178.1 323,182.1 323.3,184.5 323.6,184.9 323.9,187.9 324.2,185.9 324.5,187.4 324.8,189.8 325.1,188.3 325.4,190.1 325.7,192.6 326,192.2 326.3,194.4 326.6,193.6 326.9,195 327.2,196 327.5,195.5 327.8,196.8 328.1,196.7 328.4,197.5 328.7,199 329,197.3 329.3,198.1 329.6,199.7 329.9,199 330.2,199.2 330.5,199.3 330.8,199.7 331.1,199.9 331.4,200.4 331.7,199.9 332,200.6 332.3,200.1 332.6,200.1 332.9,199.9 333.2,200.1 333.5,201.4 333.8,199.9 334.1,200.5 334.4,201.1" fill="none" stroke="#555" stroke-width="1.2" stroke-dasharray="1 0.9"/>
<path d="M293,201.1 293.3,200.9 293.6,200.8 293.9,200.1 294.2,200.8 294.5,200.7 294.8,201.7 295.1,200.7 295.4,199.7 295.7,200.9 296,201.5 296.3,200.7 296.6,200.6 296.9,200.7 297.2,200.9 297.5,200.4 297.8,200.7 298.1,199.9 298.4,200.6 298.7,200.6 299,200.5 299.3,200.3 299.6,201.1 299.9,200.8 300.2,199.8 300.5,199.9 300.8,200 301.1,199.6 301.4,200.4 301.7,200.2 302,199.7 302.3,199.6 302.6,199.8 302.9,199.5 303.2,199.3 303.5,199.7 303.8,199.9 304.1,198.9 304.4,197.4 304.7,199.1 305,197.7 305.3,197.9 305.6,197.5 305.9,197.4 306.2,196.8 306.5,196.5 306.8,197.1 307.1,195.4 307.4,195.1 307.7,193.5 308,191.8 308.3,191 308.6,191.4 308.9,188.8 309.2,190.5 309.5,188.4 309.8,189.7 310.1,186.4 310.4,187.6 310.7,183.7 311,181.9 311.3,186.1 311.6,178.6 311.9,172.8 312.2,170.4 312.5,177.1 312.8,168.4 313.1,169.3 313.4,158.1 313.7,164.3 314,160.8 314.3,151.8 314.6,164.2 314.9,151.8 315.2,139.6 315.5,148.4 315.8,144 316.1,147.6 316.4,150.4 316.7,143.8 317,138.2 317.3,136.6 317.6,141.4 317.9,137.3 318.2,136.6 318.5,136.6 318.8,149.4 319.1,141.1 319.4,170 319.7,136.6 320,159.4 320.3,144.9 320.6,166.2 320.9,157.5 321.2,167.2 321.5,166.7 321.8,164.6 322.1,167.6 322.4,179.3 322.7,171.9 323,177.2 323.3,171.8 323.6,182.1 323.9,183.1 324.2,181.7 324.5,186.3 324.8,188 325.1,188.7 325.4,181.7 325.7,188.1 326,189.6 326.3,189.2 326.6,192.1 326.9,192.6 327.2,193.6 327.5,194.5 327.8,194.9 328.1,194.8 328.4,197 328.7,196.5 329,197.2 329.3,198.3 329.6,197.2 329.9,197.4 330.2,198 330.5,199.9 330.8,200.5 331.1,198.9 331.4,200.4 331.7,200.4 332,200.1 332.3,200.3 332.6,200 332.9,200.8 333.2,200.8 333.5,200.7 333.8,200.7 334.1,200.6 334.4,199.9 334.7,199.7 335,200.7 335.3,201.2 335.6,200.7" fill="none" stroke="#000" stroke-width="1.15" stroke-linejoin="round"/>
<text x="267.8" y="131.8" style="font-family:'Liberation Sans',sans-serif;font-weight:bold;stroke:#111;stroke-width:0.3px;font-size:9.5px" fill="#111">MHC-II</text>
<line x1="348.6" y1="123.3" x2="348.6" y2="202.6" stroke="#111" stroke-width="1.6" stroke-dasharray="1.3 1.9"/>
<path d="M351.9,203.6v2.8M357.8,203.6v1.8M361.3,203.6v1.8M363.8,203.6v1.8M365.7,203.6v1.8M367.2,203.6v1.8M368.6,203.6v1.8M369.7,203.6v1.8M370.7,203.6v1.8M371.6,203.6v2.8M377.6,203.6v1.8M381.1,203.6v1.8M383.5,203.6v1.8M385.4,203.6v1.8M387,203.6v1.8M388.3,203.6v1.8M389.5,203.6v1.8M390.5,203.6v1.8M391.4,203.6v2.8M397.3,203.6v1.8M400.8,203.6v1.8M403.3,203.6v1.8M405.2,203.6v1.8M406.7,203.6v1.8M408.1,203.6v1.8M409.2,203.6v1.8M410.2,203.6v1.8M411.1,203.6v2.8M417.1,203.6v1.8M420.6,203.6v1.8M423,203.6v1.8M424.9,203.6v1.8M426.5,203.6v1.8M427.8,203.6v1.8M429,203.6v1.8M430,203.6v1.8" stroke="#222" stroke-width="1" fill="none"/>
<rect x="350.2" y="122.3" width="81.3" height="80.3" fill="none" stroke="#111" stroke-width="2"/>
<path d="M351.4,200.9 351.7,200.7 352,200.1 352.3,200.1 352.6,200.8 352.9,200.3 353.2,200.7 353.5,200.6 353.8,200.3 354.1,200.5 354.4,199.7 354.7,200.3 355,200.3 355.3,200.9 355.6,199 355.9,199.5 356.2,199.4 356.5,199.4 356.8,198.8 357.1,199 357.4,198.6 357.7,198.6 358,200.1 358.3,197.3 358.6,199 358.9,197.5 359.2,197.3 359.5,198.2 359.8,194.6 360.1,198.3 360.4,195.6 360.7,195.6 361,192.1 361.3,194.2 361.6,195.4 361.9,191.5 362.2,192.3 362.5,192.2 362.8,190.6 363.1,188.3 363.4,190 363.7,188.5 364,188.2 364.3,187 364.6,186.3 364.9,185.2 365.2,183.8 365.5,176.8 365.8,182.8 366.1,182 366.4,178.9 366.7,176.7 367,168.7 367.3,173.4 367.6,168.7 367.9,165 368.2,164.4 368.5,165.3 368.8,154.9 369.1,160.5 369.4,159.3 369.7,156.2 370,152.2 370.3,158.7 370.6,155.6 370.9,156 371.2,149 371.5,149 371.8,153.5 372.1,161.2 372.4,153.9 372.7,160.3 373,151.6 373.3,164.2 373.6,164.3 373.9,164.9 374.2,164.9 374.5,162.6 374.8,160.8 375.1,164.8 375.4,166.5 375.7,170.5 376,170.6 376.3,171.5 376.6,175.5 376.9,175 377.2,175.3 377.5,175.7 377.8,181.3 378.1,181.1 378.4,181.9 378.7,181.7 379,183.4 379.3,184.2 379.6,186.4 379.9,186.8 380.2,187.6 380.5,188.4 380.8,187.5 381.1,189.8 381.4,191.9 381.7,190.9 382,193 382.3,193.2 382.6,194.8 382.9,194.3 383.2,195.8 383.5,196.1 383.8,195.7 384.1,195.9 384.4,197.7 384.7,197 385,196.8 385.3,197.2 385.6,198.1 385.9,197.8 386.2,197.7 386.5,198.4 386.8,199.1 387.1,199.2 387.4,199.3 387.7,199.4 388,198.7 388.3,199.3 388.6,200.1 388.9,199.8 389.2,199.8 389.5,199.8 389.8,199.7 390.1,199.9 390.4,199.6 390.7,200 391,199.8 391.3,200.6 391.6,199.6 391.9,200.8 392.2,199.7 392.5,200.2 392.8,199.5 393.1,200.7 393.4,200 393.7,200.1 394,199.8 394.3,200.4 394.6,200.6 394.9,199.9 395.2,200.7 395.5,200.5 395.8,201 396.1,200.6 396.4,200.4 396.7,200.7 397,200 397.3,200" fill="none" stroke="#555" stroke-width="1.2" stroke-dasharray="1 0.9"/>
<path d="M361.5,200.5 361.8,200.3 362.1,199.9 362.4,201.2 362.7,200.7 363,201 363.3,200.1 363.6,200.3 363.9,200.1 364.2,200.8 364.5,201.3 364.8,200.4 365.1,200.1 365.4,200.4 365.7,200.7 366,200.7 366.3,200.4 366.6,200.8 366.9,200.3 367.2,201.2 367.5,200.7 367.8,200.6 368.1,200.3 368.4,200.3 368.7,200.2 369,200.7 369.3,199.4 369.6,199.6 369.9,200.7 370.2,199.5 370.5,200.2 370.8,199.2 371.1,199.9 371.4,199.4 371.7,199.4 372,198 372.3,199.6 372.6,197.8 372.9,199.1 373.2,197.1 373.5,197.9 373.8,198.1 374.1,198.3 374.4,197 374.7,195.8 375,197.1 375.3,195.3 375.6,195.5 375.9,192.5 376.2,193.8 376.5,193.6 376.8,188.5 377.1,191.9 377.4,191.5 377.7,191.9 378,186.8 378.3,187.9 378.6,188.8 378.9,185.8 379.2,179.4 379.5,183 379.8,178 380.1,176.6 380.4,178.5 380.7,179 381,177.1 381.3,171.1 381.6,168.5 381.9,174 382.2,171.7 382.5,164 382.8,160.8 383.1,161.5 383.4,167 383.7,162.9 384,161.7 384.3,150.4 384.6,159.2 384.9,160.3 385.2,164.2 385.5,150.7 385.8,147.8 386.1,156.1 386.4,157.2 386.7,147.8 387,147.8 387.3,159.6 387.6,167.6 387.9,153.7 388.2,161 388.5,155.5 388.8,162.8 389.1,164.1 389.4,167 389.7,175.1 390,167.7 390.3,168.6 390.6,173.9 390.9,175.2 391.2,179.3 391.5,179.2 391.8,184 392.1,185.5 392.4,182.2 392.7,184 393,183.9 393.3,185.2 393.6,189.4 393.9,187.5 394.2,191.8 394.5,191.9 394.8,193.1 395.1,192.3 395.4,194 395.7,193.7 396,193.8 396.3,195.9 396.6,194.5 396.9,196.8 397.2,198.1 397.5,198.3 397.8,198.6 398.1,198.6 398.4,199.5 398.7,198.3 399,197.9 399.3,198.5 399.6,198.4 399.9,199.1 400.2,198.3 400.5,198.9 400.8,199.7 401.1,199.5 401.4,199.5 401.7,200.1 402,199.5 402.3,200 402.6,200.6 402.9,200.6 403.2,200.4 403.5,200.2 403.8,199.5 404.1,201 404.4,200.7 404.7,200.5 405,199.5 405.3,200.4 405.6,200.3 405.9,199.9 406.2,200.9 406.5,199.7 406.8,200.9 407.1,200.6 407.4,200.1 407.7,200.9 408,200.4 408.3,200.3 408.6,200.4" fill="none" stroke="#000" stroke-width="1.15" stroke-linejoin="round"/>
<text x="354.3" y="131.8" style="font-family:'Liberation Sans',sans-serif;font-weight:bold;stroke:#111;stroke-width:0.3px;font-size:9.5px" fill="#111">CD58</text>
<line x1="435.1" y1="123.3" x2="435.1" y2="202.6" stroke="#111" stroke-width="1.6" stroke-dasharray="1.3 1.9"/>
<path d="M438.4,203.6v2.8M444.3,203.6v1.8M447.8,203.6v1.8M450.3,203.6v1.8M452.2,203.6v1.8M453.8,203.6v1.8M455.1,203.6v1.8M456.2,203.6v1.8M457.2,203.6v1.8M458.1,203.6v2.8M464.1,203.6v1.8M467.6,203.6v1.8M470,203.6v1.8M472,203.6v1.8M473.5,203.6v1.8M474.8,203.6v1.8M476,203.6v1.8M477,203.6v1.8M477.9,203.6v2.8M483.8,203.6v1.8M487.3,203.6v1.8M489.8,203.6v1.8M491.7,203.6v1.8M493.3,203.6v1.8M494.6,203.6v1.8M495.7,203.6v1.8M496.7,203.6v1.8M497.6,203.6v2.8M503.6,203.6v1.8M507.1,203.6v1.8M509.5,203.6v1.8M511.5,203.6v1.8M513,203.6v1.8M514.3,203.6v1.8M515.5,203.6v1.8M516.5,203.6v1.8" stroke="#222" stroke-width="1" fill="none"/>
<rect x="436.7" y="122.3" width="81.3" height="80.3" fill="none" stroke="#111" stroke-width="2"/>
<path d="M437.2,197.1 437.5,196.9 437.8,196.2 438.1,196.9 438.4,195.9 438.7,194.1 439,198.9 439.3,195.4 439.6,196.4 439.9,195.4 440.2,194.6 440.5,193.4 440.8,194.3 441.1,193.6 441.4,193.3 441.7,193.5 442,193.2 442.3,193.7 442.6,195.1 442.9,196 443.2,191.6 443.5,194 443.8,192.3 444.1,191.1 444.4,191.9 444.7,190.7 445,192.8 445.3,192 445.6,192.9 445.9,193 446.2,192.3 446.5,191.2 446.8,193.6 447.1,191.2 447.4,193.3 447.7,188.8 448,191.9 448.3,190 448.6,191.5 448.9,190.4 449.2,190 449.5,192.1 449.8,191.4 450.1,189 450.4,189.4 450.7,187.3 451,189.3 451.3,189.1 451.6,190.8 451.9,188.7 452.2,190.3 452.5,188.6 452.8,190.1 453.1,186 453.4,188.5 453.7,185.4 454,189.7 454.3,188.1 454.6,185.9 454.9,185.9 455.2,188.6 455.5,186.9 455.8,183.5 456.1,185.6 456.4,189.4 456.7,186.8 457,185.7 457.3,186.1 457.6,185.8 457.9,188.9 458.2,180.8 458.5,183.3 458.8,184.1 459.1,184 459.4,183.3 459.7,185.4 460,187.6 460.3,186.6 460.6,184.7 460.9,183.8 461.2,187.3 461.5,185.7 461.8,184.5 462.1,187.5 462.4,187.5 462.7,188.5 463,186.4 463.3,186.3 463.6,186.2 463.9,184.6 464.2,185.1 464.5,184 464.8,181.3 465.1,182.9 465.4,185.6 465.7,189.6 466,184.5 466.3,184.2 466.6,182.1 466.9,182.4 467.2,182 467.5,180.1 467.8,188.8 468.1,177.6 468.4,175 468.7,176.3 469,172.4 469.3,168.3 469.6,173.8 469.9,171.5 470.2,165.5 470.5,162.5 470.8,167 471.1,162.5 471.4,159.3 471.7,156.5 472,151.2 472.3,156.4 472.6,151.4 472.9,151.2 473.2,155 473.5,151.2 473.8,155 474.1,155.5 474.4,153.5 474.7,151.2 475,156 475.3,155.3 475.6,158.1 475.9,155.7 476.2,153.6 476.5,161.3 476.8,165 477.1,158.6 477.4,169.6 477.7,171.1 478,171.9 478.3,172.5 478.6,174.9 478.9,176.7 479.2,180 479.5,181.9 479.8,181.2 480.1,186.7 480.4,184 480.7,187.5 481,188.8 481.3,190.1 481.6,191.4 481.9,193.8 482.2,193.7 482.5,195.2 482.8,195.4 483.1,196 483.4,194.9 483.7,196.6 484,198 484.3,198.5 484.6,198.1 484.9,198.1 485.2,199 485.5,197.3 485.8,199.5 486.1,198.5 486.4,198.7 486.7,199.4 487,199.3 487.3,200 487.6,199.5 487.9,200.4 488.2,200 488.5,199.6 488.8,200.2 489.1,200.4 489.4,200.1 489.7,200.2 490,200.5 490.3,200.6 490.6,200.1" fill="none" stroke="#555" stroke-width="1.2" stroke-dasharray="1 0.9"/>
<path d="M437.2,193.2 437.5,192.5 437.8,192.3 438.1,191.7 438.4,191.3 438.7,192.6 439,191.8 439.3,192.8 439.6,193.1 439.9,189.2 440.2,190.1 440.5,188 440.8,189.1 441.1,189.1 441.4,189.6 441.7,190.1 442,187.6 442.3,189.5 442.6,189 442.9,188.5 443.2,190 443.5,190.6 443.8,187.6 444.1,186.8 444.4,189.3 444.7,185.6 445,184.1 445.3,186.3 445.6,190.7 445.9,182.2 446.2,184.1 446.5,181.9 446.8,184.7 447.1,183.1 447.4,184.2 447.7,189.9 448,184.1 448.3,188.5 448.6,182.6 448.9,180.5 449.2,184.7 449.5,185.1 449.8,182.3 450.1,183.8 450.4,178.5 450.7,188.1 451,184.5 451.3,182.7 451.6,183.1 451.9,183.3 452.2,180.5 452.5,179.7 452.8,178 453.1,180.1 453.4,179.4 453.7,179.1 454,181.3 454.3,180.7 454.6,182.5 454.9,179.9 455.2,179.4 455.5,178.7 455.8,182 456.1,186.7 456.4,178 456.7,177.1 457,177.1 457.3,177.3 457.6,177.4 457.9,185.6 458.2,179.6 458.5,179.3 458.8,177.1 459.1,183.7 459.4,179.9 459.7,179.2 460,177.4 460.3,182.4 460.6,184.9 460.9,187.2 461.2,186.4 461.5,183.9 461.8,182.4 462.1,187.3 462.4,188.3 462.7,185.2 463,186.3 463.3,181.7 463.6,189.5 463.9,185.2 464.2,184.2 464.5,184.2 464.8,186.4 465.1,188.3 465.4,187.7 465.7,187.5 466,187.5 466.3,188.8 466.6,193.5 466.9,189 467.2,188.7 467.5,191.5 467.8,190.3 468.1,191.9 468.4,190.6 468.7,189.9 469,190.4 469.3,193.8 469.6,191.5 469.9,190.7 470.2,192.4 470.5,191.4 470.8,195.3 471.1,192.5 471.4,193.7 471.7,192.4 472,192.4 472.3,193.6 472.6,191.2 472.9,193.9 473.2,192.6 473.5,195.4 473.8,195 474.1,195.4 474.4,193.2 474.7,190.8 475,192.3 475.3,193.3 475.6,195 475.9,193.1 476.2,194.4 476.5,194.1 476.8,197 477.1,195.6 477.4,195.9 477.7,194.5 478,197.2 478.3,197.8 478.6,195.3 478.9,195.3 479.2,197.3 479.5,199.1 479.8,195.9 480.1,196.6 480.4,198.4 480.7,198.1 481,198 481.3,199.6 481.6,198.7 481.9,199.4 482.2,198 482.5,198.7 482.8,199.1 483.1,198.7 483.4,199.4 483.7,197.6 484,199.1 484.3,198 484.6,200 484.9,199.6 485.2,199.8 485.5,200.1 485.8,198.4 486.1,198.9 486.4,200 486.7,199.5 487,200.1 487.3,199.7 487.6,200.5 487.9,199.9 488.2,199.9 488.5,201 488.8,200.4 489.1,199.4 489.4,200.5 489.7,200.1 490,200 490.3,199.7 490.6,199.9 490.9,199.8 491.2,200.7 491.5,201 491.8,200.5 492.1,200.5 492.4,200.4 492.7,200.3 493,199.6 493.3,200.1 493.6,200.8 493.9,200.3 494.2,200.4 494.5,200.7 494.8,200.4 495.1,200.5 495.4,200 495.7,200.6 496,201.4 496.3,200.5 496.6,199.8 496.9,200.6 497.2,200.8 497.5,200.6 497.8,200.3 498.1,200.9 498.4,199.9 498.7,199.7 499,200.2 499.3,200.2 499.6,200.7 499.9,200.9 500.2,199.9 500.5,200.6 500.8,200.3 501.1,201 501.4,201 501.7,200.6 502,199.7 502.3,200.4 502.6,200.3 502.9,200.7 503.2,200.5 503.5,200.7 503.8,200.8 504.1,200.5 504.4,200.2 504.7,200.5 505,201.4 505.3,200.3 505.6,199.8 505.9,201 506.2,200.4 506.5,200.9 506.8,200.2 507.1,200.3 507.4,200.4 507.7,200 508,201.5 508.3,200.1 508.6,200.7 508.9,200.8 509.2,200.9 509.5,200.4 509.8,200.7 510.1,200.6 510.4,200.7 510.7,199.7 511,201 511.3,200.2 511.6,199.8 511.9,199.9 512.2,200.8 512.5,201 512.8,200.3 513.1,200.5" fill="none" stroke="#000" stroke-width="1.15" stroke-linejoin="round"/>
<text x="440.8" y="131.8" style="font-family:'Liberation Sans',sans-serif;font-weight:bold;stroke:#111;stroke-width:0.3px;font-size:9.5px" fill="#111">IL4-R</text>
<line x1="2.5" y1="211.1" x2="2.5" y2="290.4" stroke="#111" stroke-width="1.6" stroke-dasharray="1.3 1.9"/>
<path d="M5.8,291.4v2.8M11.7,291.4v1.8M15.2,291.4v1.8M17.7,291.4v1.8M19.6,291.4v1.8M21.2,291.4v1.8M22.5,291.4v1.8M23.6,291.4v1.8M24.6,291.4v1.8M25.6,291.4v2.8M31.5,291.4v1.8M35,291.4v1.8M37.4,291.4v1.8M39.4,291.4v1.8M40.9,291.4v1.8M42.2,291.4v1.8M43.4,291.4v1.8M44.4,291.4v1.8M45.3,291.4v2.8M51.2,291.4v1.8M54.7,291.4v1.8M57.2,291.4v1.8M59.1,291.4v1.8M60.7,291.4v1.8M62,291.4v1.8M63.1,291.4v1.8M64.1,291.4v1.8M65,291.4v2.8M71,291.4v1.8M74.5,291.4v1.8M76.9,291.4v1.8M78.9,291.4v1.8M80.4,291.4v1.8M81.7,291.4v1.8M82.9,291.4v1.8M83.9,291.4v1.8" stroke="#222" stroke-width="1" fill="none"/>
<rect x="4.1" y="210.1" width="81.3" height="80.3" fill="none" stroke="#111" stroke-width="2"/>
<path d="M4.7,255 5,259.5 5.3,258.8 5.6,263.6 5.9,269.9 6.2,264 6.5,261.4 6.8,262.6 7.1,257.4 7.4,258.8 7.7,260.9 8,268.7 8.3,259.4 8.6,260.6 8.9,260.8 9.2,255.1 9.5,261.2 9.8,255.4 10.1,255 10.4,261.1 10.7,257.8 11,259.8 11.3,255 11.6,263 11.9,265.5 12.2,269.3 12.5,262.8 12.8,262.1 13.1,260.4 13.4,261.8 13.7,267.5 14,262.2 14.3,255.7 14.6,264.8 14.9,262.7 15.2,266.6 15.5,265.6 15.8,263.6 16.1,265.9 16.4,266 16.7,268 17,266.3 17.3,270.7 17.6,267.4 17.9,269.3 18.2,268 18.5,268.3 18.8,271.3 19.1,273.6 19.4,273.3 19.7,274.7 20,272.8 20.3,272.1 20.6,275.1 20.9,273.8 21.2,275.3 21.5,277.4 21.8,275 22.1,278.6 22.4,278.8 22.7,278.7 23,278.2 23.3,279.1 23.6,280.4 23.9,281.2 24.2,281.6 24.5,282.3 24.8,282.1 25.1,281.4 25.4,282.4 25.7,283.5 26,284.2 26.3,283.8 26.6,284 26.9,283.8 27.2,284.4 27.5,285.7 27.8,286.3 28.1,285.5 28.4,286 28.7,287.1 29,286.6 29.3,286.4 29.6,286.2 29.9,287 30.2,285.7 30.5,287.4 30.8,286.9 31.1,287.4 31.4,287.3 31.7,287.6 32,287.4 32.3,287.4 32.6,287.9 32.9,288.1 33.2,288 33.5,288.2 33.8,287.9 34.1,287.9 34.4,288.3 34.7,287.6 35,288 35.3,288.1 35.6,288.1 35.9,288.1 36.2,288.8 36.5,287.7 36.8,287.9 37.1,288 37.4,287.9 37.7,288.9 38,288.5 38.3,288.1 38.6,288.6 38.9,288.5 39.2,288.1 39.5,288.8 39.8,288.3 40.1,288.4" fill="none" stroke="#555" stroke-width="1.2" stroke-dasharray="1 0.9"/>
<path d="M4.7,279.7 5,280.5 5.3,280.2 5.6,281.2 5.9,278.7 6.2,279.6 6.5,278.8 6.8,280.6 7.1,280.8 7.4,281.7 7.7,282.2 8,281.8 8.3,278.1 8.6,280.6 8.9,279 9.2,285 9.5,277.7 9.8,279.6 10.1,280.3 10.4,277.9 10.7,280.2 11,278.5 11.3,278.7 11.6,278 11.9,278.5 12.2,278.5 12.5,278.3 12.8,280.9 13.1,278.8 13.4,280.5 13.7,277.3 14,273.4 14.3,283.7 14.6,279 14.9,276.8 15.2,277.8 15.5,277.4 15.8,274.7 16.1,275.1 16.4,277.8 16.7,276.1 17,270.5 17.3,270.6 17.6,276.8 17.9,273.7 18.2,276 18.5,271 18.8,269.1 19.1,268.6 19.4,268.6 19.7,271.6 20,276.4 20.3,269.7 20.6,267.5 20.9,270.3 21.2,270.4 21.5,270.5 21.8,268.2 22.1,273 22.4,267.2 22.7,266.7 23,266.8 23.3,269.7 23.6,272.8 23.9,266.2 24.2,266.2 24.5,269.2 24.8,267.1 25.1,271.7 25.4,268.7 25.7,275.3 26,270.7 26.3,266.2 26.6,266.2 26.9,271.4 27.2,270.7 27.5,273.4 27.8,266.2 28.1,270.8 28.4,270.4 28.7,269.7 29,269.6 29.3,270.1 29.6,271.7 29.9,268.6 30.2,272.4 30.5,269.2 30.8,267.7 31.1,269.7 31.4,269.6 31.7,266.2 32,266.2 32.3,269.5 32.6,269.7 32.9,269.3 33.2,266.2 33.5,270.6 33.8,270.9 34.1,276.3 34.4,271.9 34.7,276 35,273.1 35.3,273.4 35.6,270.2 35.9,273.5 36.2,273.4 36.5,274.6 36.8,269.1 37.1,273.1 37.4,269.8 37.7,269.4 38,272 38.3,270.2 38.6,273.4 38.9,271.3 39.2,273.7 39.5,275.3 39.8,270 40.1,268.3 40.4,269.6 40.7,269.3 41,272.7 41.3,269.1 41.6,269.9 41.9,266.6 42.2,269.9 42.5,270.3 42.8,276.8 43.1,271.9 43.4,272.6 43.7,274.8 44,277.6 44.3,276.5 44.6,274 44.9,280.3 45.2,281.5 45.5,278.8 45.8,281.6 46.1,284.2 46.4,283.7 46.7,285.6 47,286.5 47.3,286.2 47.6,287.6 47.9,286 48.2,286.9 48.5,287.4 48.8,287.2 49.1,287.4 49.4,287.3 49.7,287.3 50,286.7 50.3,287.8 50.6,287.5 50.9,287.2 51.2,288.9 51.5,287.6 51.8,287.6 52.1,288.2 52.4,287.2 52.7,288 53,288.2 53.3,288.4 53.6,287.9 53.9,288.4 54.2,288.2 54.5,286.9 54.8,288.4 55.1,287.5 55.4,288 55.7,287.7 56,288.4 56.3,288.6 56.6,289.1 56.9,288.2 57.2,287.9 57.5,288.2 57.8,287.7 58.1,288.9 58.4,289.3 58.7,287.8 59,288.2 59.3,288.7 59.6,287.8 59.9,288.1 60.2,287.9 60.5,288.3 60.8,288.9 61.1,288.2 61.4,288.8 61.7,288.5 62,288.4 62.3,288.6 62.6,288.3 62.9,289 63.2,288.1 63.5,288.4 63.8,288.3 64.1,288.3 64.4,287.8 64.7,288.6 65,288.6 65.3,287.8 65.6,288.1 65.9,288.7 66.2,288 66.5,289.4 66.8,287.7 67.1,288.2 67.4,288.3 67.7,287.9 68,288.4 68.3,288 68.6,288.1 68.9,288.7 69.2,288.6 69.5,287.4 69.8,288.6 70.1,288.5 70.4,288.2 70.7,289 71,288.3 71.3,287.7 71.6,287.9 71.9,288.8 72.2,288.3 72.5,288.1 72.8,287.7 73.1,288 73.4,288.8 73.7,288.3 74,288.7 74.3,288.5 74.6,288.6 74.9,289.4 75.2,287.9 75.5,288.7 75.8,287.5 76.1,287.9 76.4,288.7 76.7,288.8 77,288.7 77.3,288.4 77.6,287.6 77.9,288.5 78.2,287.4 78.5,289.1 78.8,288.2 79.1,288.8 79.4,288.5 79.7,288.4 80,288.3 80.3,288.7 80.6,288.8" fill="none" stroke="#000" stroke-width="1.15" stroke-linejoin="round"/>
<text x="8.2" y="220.7" style="font-family:'Liberation Sans',sans-serif;font-weight:bold;stroke:#111;stroke-width:0.3px;font-size:9.5px" fill="#111">CD11c</text>
<line x1="89" y1="211.1" x2="89" y2="290.4" stroke="#111" stroke-width="1.6" stroke-dasharray="1.3 1.9"/>
<path d="M92.3,291.4v2.8M98.3,291.4v1.8M101.7,291.4v1.8M104.2,291.4v1.8M106.1,291.4v1.8M107.7,291.4v1.8M109,291.4v1.8M110.2,291.4v1.8M111.2,291.4v1.8M112.1,291.4v2.8M118,291.4v1.8M121.5,291.4v1.8M124,291.4v1.8M125.9,291.4v1.8M127.4,291.4v1.8M128.8,291.4v1.8M129.9,291.4v1.8M130.9,291.4v1.8M131.8,291.4v2.8M137.8,291.4v1.8M141.2,291.4v1.8M143.7,291.4v1.8M145.6,291.4v1.8M147.2,291.4v1.8M148.5,291.4v1.8M149.7,291.4v1.8M150.7,291.4v1.8M151.6,291.4v2.8M157.5,291.4v1.8M161,291.4v1.8M163.5,291.4v1.8M165.4,291.4v1.8M166.9,291.4v1.8M168.3,291.4v1.8M169.4,291.4v1.8M170.4,291.4v1.8" stroke="#222" stroke-width="1" fill="none"/>
<rect x="90.6" y="210.1" width="81.3" height="80.3" fill="none" stroke="#111" stroke-width="2"/>
<path d="M91.9,287 92.2,286.7 92.5,286 92.8,288 93.1,287 93.4,286.3 93.7,286.6 94,285.8 94.3,285.4 94.6,285.8 94.9,286.7 95.2,285.2 95.5,285.1 95.8,285 96.1,285 96.4,285.5 96.7,285.2 97,285.3 97.3,285.5 97.6,285.5 97.9,286.3 98.2,284.2 98.5,286.2 98.8,284.2 99.1,286.4 99.4,284.6 99.7,284.7 100,283.8 100.3,284.4 100.6,282.9 100.9,284.8 101.2,282.3 101.5,282.9 101.8,283.2 102.1,283.4 102.4,283.8 102.7,284.9 103,283 103.3,282.1 103.6,282.7 103.9,281.8 104.2,281.5 104.5,282.5 104.8,282.4 105.1,282.3 105.4,282.3 105.7,283.4 106,283.4 106.3,280.6 106.6,279.9 106.9,282.7 107.2,280 107.5,280.7 107.8,279 108.1,280.3 108.4,279.6 108.7,279.5 109,280.8 109.3,280.3 109.6,279.7 109.9,279.4 110.2,278.8 110.5,276.8 110.8,278.9 111.1,277.5 111.4,277.6 111.7,278.4 112,278.7 112.3,277.1 112.6,276.7 112.9,279.7 113.2,275 113.5,275.7 113.8,275.3 114.1,275.9 114.4,274.4 114.7,272 115,274.7 115.3,272.6 115.6,269.2 115.9,271.9 116.2,269.8 116.5,272.2 116.8,269.9 117.1,266.7 117.4,266.8 117.7,265.1 118,266.5 118.3,265.8 118.6,265.1 118.9,266.9 119.2,264.2 119.5,258.1 119.8,258.6 120.1,252.8 120.4,263.3 120.7,256.8 121,257.2 121.3,257.4 121.6,258.8 121.9,253.2 122.2,253.4 122.5,252.9 122.8,251.4 123.1,251.8 123.4,248.8 123.7,248.4 124,244.5 124.3,246.2 124.6,241 124.9,244.1 125.2,240.1 125.5,241.5 125.8,239.9 126.1,238.2 126.4,240.3 126.7,237.4 127,239.9 127.3,237 127.6,237 127.9,237.1 128.2,244.7 128.5,239.6 128.8,251.7 129.1,255.1 129.4,249.3 129.7,252 130,244.7 130.3,252.5 130.6,257.9 130.9,257.8 131.2,262.5 131.5,268 131.8,267.1 132.1,270.4 132.4,272.9 132.7,274.9 133,278.4 133.3,277.5 133.6,280.5 133.9,281.2 134.2,284.3 134.5,284.9 134.8,284.2 135.1,285.2 135.4,286.6 135.7,286.3 136,287.4 136.3,286.5 136.6,286.9 136.9,286.6 137.2,288 137.5,287.2 137.8,287.7 138.1,288 138.4,288.4 138.7,288 139,288.4 139.3,288.2 139.6,288.3 139.9,288 140.2,288 140.5,288 140.8,288.6 141.1,288.5 141.4,288.6 141.7,288.3 142,288.5 142.3,288.2" fill="none" stroke="#555" stroke-width="1.2" stroke-dasharray="1 0.9"/>
<path d="M91.9,285.9 92.2,283.6 92.5,284.3 92.8,285 93.1,282.9 93.4,283.5 93.7,282.4 94,282.9 94.3,280.1 94.6,281.2 94.9,279.2 95.2,279.5 95.5,281.3 95.8,281.8 96.1,280.2 96.4,280.9 96.7,277.9 97,281.3 97.3,281 97.6,280.3 97.9,283.7 98.2,281.3 98.5,284.2 98.8,280.5 99.1,279.7 99.4,281.7 99.7,278.3 100,276.5 100.3,279.2 100.6,278.7 100.9,274.5 101.2,276 101.5,274.7 101.8,278.5 102.1,274.6 102.4,273.7 102.7,277 103,275.6 103.3,273.1 103.6,274.7 103.9,272 104.2,270 104.5,271.7 104.8,275.2 105.1,273.5 105.4,267.4 105.7,268.6 106,265.7 106.3,268.2 106.6,269.8 106.9,264.7 107.2,266.1 107.5,270 107.8,273 108.1,263.2 108.4,261.9 108.7,264.4 109,260 109.3,260.3 109.6,266.8 109.9,255 110.2,263.5 110.5,259.4 110.8,259 111.1,259.1 111.4,256.1 111.7,259.1 112,255 112.3,260.4 112.6,255 112.9,266.7 113.2,255 113.5,260.6 113.8,261 114.1,255.7 114.4,259.9 114.7,255 115,258.8 115.3,264 115.6,264.7 115.9,265.6 116.2,259 116.5,270.5 116.8,269.9 117.1,268.9 117.4,269.9 117.7,266.6 118,265.9 118.3,270.5 118.6,262.6 118.9,268.4 119.2,268.2 119.5,269.6 119.8,269.4 120.1,263.7 120.4,263.7 120.7,265.1 121,268.5 121.3,272.5 121.6,274.8 121.9,275 122.2,273.1 122.5,274.2 122.8,280.5 123.1,273 123.4,275.2 123.7,279.9 124,278.2 124.3,276.4 124.6,277.3 124.9,277.8 125.2,274.9 125.5,279.8 125.8,281.5 126.1,279.5 126.4,281.8 126.7,281.7 127,284.7 127.3,283.5 127.6,280.6 127.9,281.4 128.2,284.7 128.5,282.8 128.8,281.6 129.1,281.7 129.4,282.4 129.7,283.3 130,284.3 130.3,285.6 130.6,285.7 130.9,285.9 131.2,286.3 131.5,285.4 131.8,286.6 132.1,286.8 132.4,287.4 132.7,287.9 133,287 133.3,286.6 133.6,287.7 133.9,287.1 134.2,287.5 134.5,288 134.8,288.2 135.1,287.5 135.4,287.9 135.7,288.2 136,287.6 136.3,287.8 136.6,288.8 136.9,288.2 137.2,288 137.5,288.2 137.8,289 138.1,288.3 138.4,287.9 138.7,288.8 139,288.4 139.3,288.7 139.6,288.2 139.9,288.1 140.2,288.6 140.5,289.1 140.8,288.3 141.1,288.2 141.4,288.5 141.7,288.1 142,288.1 142.3,288.1 142.6,288.4 142.9,288.2 143.2,288.7 143.5,288.9 143.8,288.8 144.1,288.8 144.4,288 144.7,288.6 145,288.5 145.3,288.8 145.6,288.5 145.9,288.6 146.2,288.2 146.5,289 146.8,289.1 147.1,288.3 147.4,288.6 147.7,288.5 148,288.2 148.3,288.4 148.6,288.9 148.9,288.6 149.2,289 149.5,288.8 149.8,288.3 150.1,289.1 150.4,288.4 150.7,288.7 151,288.8 151.3,288.4 151.6,289.3 151.9,288.7 152.2,289.5 152.5,288.8 152.8,288.9 153.1,288.5 153.4,288.7 153.7,289 154,289 154.3,289.3 154.6,288.2 154.9,288.3 155.2,288.3 155.5,288.7 155.8,288.7 156.1,288.9 156.4,288.8 156.7,288.7 157,288.3 157.3,288.5 157.6,288.2 157.9,288.3 158.2,288.8 158.5,289 158.8,288.4 159.1,288.2 159.4,288 159.7,288.7 160,289 160.3,288.7 160.6,289 160.9,288.5 161.2,288.2 161.5,289 161.8,288 162.1,288.8 162.4,288.5 162.7,288.7 163,289.3 163.3,288 163.6,289.2 163.9,289.1 164.2,288.6 164.5,288.9 164.8,288.4 165.1,288.5 165.4,288.1 165.7,288.6 166,288.8 166.3,288.7 166.6,288.2 166.9,288.8 167.2,288.4" fill="none" stroke="#000" stroke-width="1.15" stroke-linejoin="round"/>
<text x="94.7" y="220.7" style="font-family:'Liberation Sans',sans-serif;font-weight:bold;stroke:#111;stroke-width:0.3px;font-size:9.5px" fill="#111">CCR7</text>
<line x1="175.5" y1="211.1" x2="175.5" y2="290.4" stroke="#111" stroke-width="1.6" stroke-dasharray="1.3 1.9"/>
<path d="M178.8,291.4v2.8M184.8,291.4v1.8M188.3,291.4v1.8M190.7,291.4v1.8M192.6,291.4v1.8M194.2,291.4v1.8M195.5,291.4v1.8M196.7,291.4v1.8M197.7,291.4v1.8M198.6,291.4v2.8M204.5,291.4v1.8M208,291.4v1.8M210.5,291.4v1.8M212.4,291.4v1.8M214,291.4v1.8M215.3,291.4v1.8M216.4,291.4v1.8M217.4,291.4v1.8M218.3,291.4v2.8M224.3,291.4v1.8M227.8,291.4v1.8M230.2,291.4v1.8M232.1,291.4v1.8M233.7,291.4v1.8M235,291.4v1.8M236.2,291.4v1.8M237.2,291.4v1.8M238.1,291.4v2.8M244,291.4v1.8M247.5,291.4v1.8M250,291.4v1.8M251.9,291.4v1.8M253.5,291.4v1.8M254.8,291.4v1.8M255.9,291.4v1.8M256.9,291.4v1.8" stroke="#222" stroke-width="1" fill="none"/>
<rect x="177.1" y="210.1" width="81.3" height="80.3" fill="none" stroke="#111" stroke-width="2"/>
<path d="M197.5,288.9 197.8,289.1 198.1,288.8 198.4,288.7 198.7,288.7 199,288.9 199.3,288 199.6,288.6 199.9,288.5 200.2,288.7 200.5,288.2 200.8,288.3 201.1,288 201.4,288.7 201.7,288.2 202,288.6 202.3,288.7 202.6,288.2 202.9,288.5 203.2,288.3 203.5,288.3 203.8,288.2 204.1,287.5 204.4,286.1 204.7,287.3 205,287.9 205.3,287.7 205.6,286.5 205.9,287.6 206.2,286.3 206.5,285.8 206.8,287.3 207.1,286.3 207.4,287.1 207.7,285.6 208,285.7 208.3,286 208.6,286 208.9,285.2 209.2,285.5 209.5,285.7 209.8,284.7 210.1,285.1 210.4,284.9 210.7,285.3 211,283.7 211.3,284.3 211.6,284.8 211.9,283.4 212.2,283.4 212.5,283.3 212.8,283.9 213.1,283.5 213.4,281.1 213.7,281.8 214,278.7 214.3,282.6 214.6,280.5 214.9,281.7 215.2,281.3 215.5,278.8 215.8,277.7 216.1,275 216.4,276.1 216.7,274.5 217,272.1 217.3,271.6 217.6,275.4 217.9,269.8 218.2,273.3 218.5,268.7 218.8,268.5 219.1,269.2 219.4,265.5 219.7,267.1 220,268 220.3,266.2 220.6,261.8 220.9,266.4 221.2,263 221.5,262.8 221.8,264.5 222.1,259 222.4,258.4 222.7,260.6 223,258.6 223.3,259.1 223.6,259.3 223.9,253 224.2,257.9 224.5,260.6 224.8,255.5 225.1,251.7 225.4,251.9 225.7,252.1 226,249.3 226.3,249.3 226.6,249.3 226.9,250.1 227.2,250 227.5,252.3 227.8,249.3 228.1,251 228.4,250.3 228.7,251.1 229,254.5 229.3,254 229.6,256.4 229.9,263.1 230.2,260.4 230.5,259 230.8,263.3 231.1,262.7 231.4,265 231.7,268.6 232,271.1 232.3,273.9 232.6,272.7 232.9,278 233.2,276.5 233.5,277.5 233.8,277.8 234.1,277.7 234.4,279.9 234.7,282 235,284.1 235.3,285.6 235.6,283 235.9,284.7 236.2,285.6 236.5,285.6 236.8,286.1 237.1,287.4 237.4,286 237.7,287 238,287 238.3,288.3 238.6,287.4 238.9,287 239.2,288 239.5,287.1 239.8,287.4 240.1,288.6 240.4,287.6 240.7,288.1 241,288.2 241.3,288.8 241.6,288.3 241.9,287.6 242.2,288.2 242.5,288.6 242.8,288.1 243.1,288.6 243.4,288.9 243.7,288.8 244,288 244.3,288.3 244.6,288.6" fill="none" stroke="#555" stroke-width="1.2" stroke-dasharray="1 0.9"/>
<path d="M178.4,284.1 178.7,285 179,284 179.3,281.8 179.6,283.9 179.9,283.5 180.2,284 180.5,283.3 180.8,282.2 181.1,281.2 181.4,284.9 181.7,284 182,283.8 182.3,282.3 182.6,281.9 182.9,282.3 183.2,282.2 183.5,282.7 183.8,282.3 184.1,283.5 184.4,282.8 184.7,283.1 185,283.8 185.3,282.6 185.6,283.2 185.9,282.4 186.2,283.1 186.5,283.3 186.8,281.1 187.1,284 187.4,281.7 187.7,279.2 188,282.2 188.3,276.5 188.6,278.7 188.9,279.2 189.2,276.2 189.5,280.1 189.8,278.4 190.1,275.5 190.4,278.1 190.7,272.5 191,278.2 191.3,276.1 191.6,276.1 191.9,275 192.2,265.4 192.5,275.3 192.8,271 193.1,276 193.4,273.1 193.7,268.6 194,276.7 194.3,270.2 194.6,269.7 194.9,273.1 195.2,269.7 195.5,268.1 195.8,263.5 196.1,262.3 196.4,271.6 196.7,268 197,267.7 197.3,262.7 197.6,262.7 197.9,264.6 198.2,263.2 198.5,258.6 198.8,258.4 199.1,263.9 199.4,258.4 199.7,258.4 200,262.1 200.3,264.5 200.6,264 200.9,265.1 201.2,271.4 201.5,266.8 201.8,269.5 202.1,267.3 202.4,268.8 202.7,267.9 203,265.8 203.3,269.6 203.6,269.6 203.9,262 204.2,268.9 204.5,264.5 204.8,269.7 205.1,267.7 205.4,267.9 205.7,268.9 206,265.3 206.3,266.3 206.6,268.7 206.9,271.4 207.2,269.6 207.5,269 207.8,271.5 208.1,272.8 208.4,273.4 208.7,269.4 209,270.6 209.3,271.6 209.6,270.9 209.9,272.3 210.2,273.2 210.5,276.7 210.8,271.7 211.1,272.7 211.4,273.1 211.7,271 212,270.7 212.3,267.4 212.6,274.8 212.9,272.5 213.2,271.6 213.5,272.4 213.8,274.6 214.1,273.8 214.4,278 214.7,273.1 215,272.5 215.3,277.4 215.6,274.9 215.9,277.3 216.2,280.2 216.5,279.4 216.8,280.4 217.1,278.6 217.4,280 217.7,282.2 218,280.9 218.3,281.5 218.6,283.1 218.9,282.8 219.2,282.6 219.5,283 219.8,281.1 220.1,284 220.4,283.5 220.7,283.4 221,283.1 221.3,284.4 221.6,284.7 221.9,284.2 222.2,284.9 222.5,285 222.8,285.3 223.1,284 223.4,285.9 223.7,285.5 224,287.1 224.3,285.1 224.6,285.4 224.9,286.3 225.2,286.9 225.5,286.4 225.8,286.6 226.1,285.4 226.4,287 226.7,286.6 227,286.6 227.3,286.8 227.6,285.9 227.9,285.7 228.2,285.8 228.5,287.4 228.8,287.1 229.1,285.9 229.4,286.5 229.7,287.1 230,287 230.3,287.5 230.6,287.2 230.9,287.2 231.2,288 231.5,287.2 231.8,287.8 232.1,287.6 232.4,287.5 232.7,288.6 233,287.3 233.3,288.6 233.6,286.9 233.9,288.1 234.2,287.9 234.5,287.7 234.8,288.1 235.1,287 235.4,287.7 235.7,288.1 236,287.7 236.3,288.7 236.6,288.1 236.9,288.1 237.2,288.3 237.5,288 237.8,288.6 238.1,288.3 238.4,289.1 238.7,288.7 239,288.4 239.3,288.6 239.6,288.6 239.9,289.1 240.2,289.2" fill="none" stroke="#000" stroke-width="1.15" stroke-linejoin="round"/>
<text x="181.2" y="220.7" style="font-family:'Liberation Sans',sans-serif;font-weight:bold;stroke:#111;stroke-width:0.3px;font-size:9.5px" fill="#111">CXCR4</text>
<line x1="262.1" y1="211.1" x2="262.1" y2="290.4" stroke="#111" stroke-width="1.6" stroke-dasharray="1.3 1.9"/>
<path d="M265.4,291.4v2.8M271.3,291.4v1.8M274.8,291.4v1.8M277.3,291.4v1.8M279.2,291.4v1.8M280.7,291.4v1.8M282.1,291.4v1.8M283.2,291.4v1.8M284.2,291.4v1.8M285.1,291.4v2.8M291.1,291.4v1.8M294.5,291.4v1.8M297,291.4v1.8M298.9,291.4v1.8M300.5,291.4v1.8M301.8,291.4v1.8M302.9,291.4v1.8M304,291.4v1.8M304.9,291.4v2.8M310.8,291.4v1.8M314.3,291.4v1.8M316.8,291.4v1.8M318.7,291.4v1.8M320.2,291.4v1.8M321.6,291.4v1.8M322.7,291.4v1.8M323.7,291.4v1.8M324.6,291.4v2.8M330.6,291.4v1.8M334,291.4v1.8M336.5,291.4v1.8M338.4,291.4v1.8M340,291.4v1.8M341.3,291.4v1.8M342.4,291.4v1.8M343.5,291.4v1.8" stroke="#222" stroke-width="1" fill="none"/>
<rect x="263.7" y="210.1" width="81.3" height="80.3" fill="none" stroke="#111" stroke-width="2"/>
<path d="M299.8,288.6 300.1,288.6 300.4,288.6 300.7,288.2 301,288.4 301.3,288.7 301.6,288.4 301.9,288.7 302.2,288.7 302.5,288.7 302.8,288.3 303.1,289 303.4,288.2 303.7,288.3 304,289 304.3,288.4 304.6,288.5 304.9,288.2 305.2,288.7 305.5,288.6 305.8,288.8 306.1,287.9 306.4,288.6 306.7,288.4 307,288.3 307.3,288.7 307.6,287.9 307.9,287.7 308.2,288 308.5,288.3 308.8,287.7 309.1,287.6 309.4,287 309.7,287.9 310,287.8 310.3,286.8 310.6,287.7 310.9,287.3 311.2,286.6 311.5,285.5 311.8,285.4 312.1,285.6 312.4,286.5 312.7,284.5 313,284.1 313.3,281.8 313.6,282.8 313.9,280.4 314.2,279 314.5,280.5 314.8,277.8 315.1,277.5 315.4,275.5 315.7,281.9 316,274.4 316.3,273 316.6,270.9 316.9,270.7 317.2,267.9 317.5,268.9 317.8,265.4 318.1,265.9 318.4,252.2 318.7,259.3 319,263.2 319.3,256 319.6,265.5 319.9,248.3 320.2,246 320.5,240.5 320.8,240.1 321.1,237.1 321.4,235.6 321.7,227.3 322,227.6 322.3,231 322.6,223.1 322.9,241.6 323.2,222.4 323.5,225.1 323.8,226.6 324.1,220.1 324.4,220.1 324.7,226.4 325,220.2 325.3,224.3 325.6,235.9 325.9,235.1 326.2,233.2 326.5,232 326.8,246.1 327.1,251.8 327.4,258.4 327.7,260.6 328,269 328.3,264.2 328.6,271.1 328.9,272.1 329.2,273.7 329.5,275.7 329.8,278.4 330.1,278.4 330.4,281.7 330.7,280.7 331,283.8 331.3,284 331.6,285.3 331.9,285.8 332.2,285.6 332.5,286.3 332.8,286.4 333.1,286.9 333.4,287.4 333.7,287.8 334,287.8 334.3,287.9 334.6,287.9 334.9,288.5 335.2,288.7 335.5,288.7 335.8,288.4 336.1,288.3 336.4,288.8 336.7,288.8" fill="none" stroke="#555" stroke-width="1.2" stroke-dasharray="1 0.9"/>
<path d="M275,288.2 275.3,289.1 275.6,289 275.9,288.9 276.2,288.5 276.5,288.8 276.8,288.2 277.1,287.9 277.4,289.2 277.7,288.9 278,288.4 278.3,288.7 278.6,288 278.9,288.1 279.2,289 279.5,288.6 279.8,288.4 280.1,288.3 280.4,287.9 280.7,288.1 281,288.1 281.3,288.7 281.6,288.7 281.9,288.6 282.2,288.4 282.5,288.5 282.8,288.6 283.1,288.1 283.4,288.7 283.7,288 284,288.1 284.3,288.9 284.6,287.8 284.9,287.9 285.2,288.2 285.5,287.8 285.8,287.2 286.1,288 286.4,287.2 286.7,287.7 287,287.5 287.3,287.2 287.6,287.3 287.9,287.9 288.2,287 288.5,287.1 288.8,287.6 289.1,286.4 289.4,286.7 289.7,287.1 290,286.2 290.3,287 290.6,286.7 290.9,286.7 291.2,286.9 291.5,285.6 291.8,286.2 292.1,286.8 292.4,286.5 292.7,287 293,286.3 293.3,287 293.6,286.8 293.9,285.9 294.2,284.5 294.5,286.1 294.8,284.3 295.1,285.6 295.4,285.1 295.7,284.6 296,285.2 296.3,283.7 296.6,284.4 296.9,284.5 297.2,282.1 297.5,281.8 297.8,283.1 298.1,283.4 298.4,283.1 298.7,282.8 299,282.7 299.3,282.9 299.6,282.9 299.9,282.1 300.2,279.5 300.5,281.8 300.8,283 301.1,280.5 301.4,281.3 301.7,280.1 302,279.4 302.3,277.6 302.6,277.3 302.9,274.6 303.2,276 303.5,276.2 303.8,276.7 304.1,274.6 304.4,277.5 304.7,278.7 305,274.8 305.3,272.7 305.6,271.1 305.9,275.2 306.2,272.3 306.5,266.9 306.8,273.7 307.1,274 307.4,271.2 307.7,272.5 308,269.8 308.3,272.2 308.6,274.1 308.9,271 309.2,271.3 309.5,268.4 309.8,263.4 310.1,266.7 310.4,263.8 310.7,274.9 311,268 311.3,261.3 311.6,259.9 311.9,267.3 312.2,268.6 312.5,266.7 312.8,264.5 313.1,262.5 313.4,262.9 313.7,266.1 314,262.3 314.3,255 314.6,255.4 314.9,256.7 315.2,257.1 315.5,260.1 315.8,264.7 316.1,257.1 316.4,259.2 316.7,260.2 317,261.7 317.3,270.6 317.6,271.3 317.9,267.6 318.2,265.4 318.5,262.7 318.8,265.7 319.1,265.4 319.4,259.6 319.7,256.7 320,258.4 320.3,255 320.6,255 320.9,257.6 321.2,264 321.5,264 321.8,263.9 322.1,267 322.4,267.1 322.7,265.8 323,268.7 323.3,265.1 323.6,264.8 323.9,255.4 324.2,262.6 324.5,261.2 324.8,260.1 325.1,262.8 325.4,263.8 325.7,258.3 326,264.5 326.3,263.8 326.6,255.8 326.9,266.3 327.2,259.2 327.5,263.6 327.8,265.8 328.1,266.4 328.4,267 328.7,262.3 329,266.6 329.3,265.7 329.6,277.2 329.9,272.3 330.2,277.2 330.5,273.4 330.8,277.5 331.1,279.3 331.4,281.5 331.7,281.3 332,281.2 332.3,281.3 332.6,282.6 332.9,283.4 333.2,285.5 333.5,285 333.8,285.8 334.1,287.4 334.4,285.6 334.7,286.6 335,285.7 335.3,286.9 335.6,287.3 335.9,287.8 336.2,287.5 336.5,287.7 336.8,288.2 337.1,288.5 337.4,287.5 337.7,288.4 338,288.7 338.3,288.2 338.6,288.2 338.9,289 339.2,288.9 339.5,288.8 339.8,288.6 340.1,288.6 340.4,288.4 340.7,288.2 341,288.3 341.3,288.7" fill="none" stroke="#000" stroke-width="1.15" stroke-linejoin="round"/>
<text x="267.8" y="220.7" style="font-family:'Liberation Sans',sans-serif;font-weight:bold;stroke:#111;stroke-width:0.3px;font-size:9.5px" fill="#111">CD44</text>
<line x1="348.6" y1="211.1" x2="348.6" y2="290.4" stroke="#111" stroke-width="1.6" stroke-dasharray="1.3 1.9"/>
<path d="M351.9,291.4v2.8M357.8,291.4v1.8M361.3,291.4v1.8M363.8,291.4v1.8M365.7,291.4v1.8M367.2,291.4v1.8M368.6,291.4v1.8M369.7,291.4v1.8M370.7,291.4v1.8M371.6,291.4v2.8M377.6,291.4v1.8M381.1,291.4v1.8M383.5,291.4v1.8M385.4,291.4v1.8M387,291.4v1.8M388.3,291.4v1.8M389.5,291.4v1.8M390.5,291.4v1.8M391.4,291.4v2.8M397.3,291.4v1.8M400.8,291.4v1.8M403.3,291.4v1.8M405.2,291.4v1.8M406.7,291.4v1.8M408.1,291.4v1.8M409.2,291.4v1.8M410.2,291.4v1.8M411.1,291.4v2.8M417.1,291.4v1.8M420.6,291.4v1.8M423,291.4v1.8M424.9,291.4v1.8M426.5,291.4v1.8M427.8,291.4v1.8M429,291.4v1.8M430,291.4v1.8" stroke="#222" stroke-width="1" fill="none"/>
<rect x="350.2" y="210.1" width="81.3" height="80.3" fill="none" stroke="#111" stroke-width="2"/>
<path d="M354.8,288 355.1,288.4 355.4,288.1 355.7,287.9 356,287.5 356.3,287.9 356.6,287.6 356.9,287.6 357.2,288.3 357.5,287.7 357.8,287.8 358.1,287.6 358.4,287 358.7,287.2 359,286.9 359.3,286.9 359.6,287.7 359.9,286.9 360.2,287.1 360.5,286.7 360.8,288.1 361.1,287.1 361.4,287.1 361.7,287.1 362,287.2 362.3,286.5 362.6,286 362.9,286.3 363.2,286.9 363.5,286.8 363.8,286.3 364.1,287.1 364.4,285.4 364.7,286.4 365,286.1 365.3,285.6 365.6,285.6 365.9,287 366.2,285.8 366.5,285.6 366.8,285.2 367.1,285 367.4,286.6 367.7,286.1 368,284.5 368.3,285.5 368.6,285.6 368.9,285 369.2,284 369.5,285 369.8,283 370.1,282.6 370.4,285.5 370.7,283.6 371,282.5 371.3,281.8 371.6,281.8 371.9,280.9 372.2,281 372.5,278.1 372.8,278.9 373.1,275.9 373.4,275.8 373.7,273.9 374,277.1 374.3,274.5 374.6,272.4 374.9,270.6 375.2,270.2 375.5,271 375.8,272.8 376.1,267.5 376.4,267.5 376.7,265.8 377,271 377.3,262.9 377.6,265.1 377.9,266.4 378.2,264.5 378.5,260 378.8,260.5 379.1,257.4 379.4,250.8 379.7,258.2 380,269.4 380.3,254.8 380.6,253.8 380.9,246.6 381.2,249.3 381.5,245.8 381.8,252.8 382.1,249.2 382.4,250.9 382.7,247 383,242.6 383.3,239.2 383.6,239.2 383.9,245.8 384.2,244 384.5,239.6 384.8,242.3 385.1,245.6 385.4,239.2 385.7,244.7 386,252.9 386.3,259 386.6,248 386.9,250.9 387.2,249.1 387.5,249.5 387.8,253.3 388.1,257.5 388.4,261.9 388.7,267 389,265 389.3,267.2 389.6,265.7 389.9,264.5 390.2,267.2 390.5,270.8 390.8,269.8 391.1,276.9 391.4,273.2 391.7,273.2 392,274.6 392.3,273.3 392.6,273.6 392.9,279.3 393.2,277 393.5,278.5 393.8,278.9 394.1,280.3 394.4,280.4 394.7,281.9 395,282.4 395.3,281 395.6,282.4 395.9,284.7 396.2,282.6 396.5,283.1 396.8,283.9 397.1,282.8 397.4,284.9 397.7,283.4 398,283.8 398.3,284.7 398.6,285 398.9,285.3 399.2,285.4 399.5,285.7 399.8,285.4 400.1,285.3 400.4,285.7 400.7,286.4 401,286 401.3,286.2 401.6,286.4 401.9,286.9 402.2,286.3 402.5,287.3 402.8,286.3 403.1,286.1 403.4,287.3 403.7,286.6 404,287.6 404.3,287.2 404.6,287 404.9,288.1 405.2,287.9 405.5,287 405.8,288.4 406.1,288.2 406.4,287.8 406.7,287.3 407,288.5 407.3,288 407.6,287.5 407.9,288.3 408.2,288.2 408.5,288.4 408.8,288.2 409.1,288.6 409.4,287.6 409.7,288.3 410,288.2 410.3,288.4 410.6,287.6 410.9,288.9 411.2,288.4 411.5,289 411.8,288.5 412.1,288.2 412.4,288.9 412.7,288.5 413,288.2 413.3,288.9 413.6,288.8 413.9,289 414.2,288.2 414.5,288.5 414.8,288.6 415.1,289.2 415.4,288.8" fill="none" stroke="#555" stroke-width="1.2" stroke-dasharray="1 0.9"/>
<path d="M351.4,286.7 351.7,288 352,287.8 352.3,285.4 352.6,285 352.9,286.5 353.2,286 353.5,285.1 353.8,285.2 354.1,284.8 354.4,283.4 354.7,286.3 355,284.2 355.3,285.7 355.6,282.2 355.9,283.3 356.2,281.1 356.5,284.2 356.8,284 357.1,284.4 357.4,283.2 357.7,281.1 358,282.4 358.3,282.7 358.6,282.1 358.9,282 359.2,282.7 359.5,278.6 359.8,282.1 360.1,279.4 360.4,280.9 360.7,280 361,280.9 361.3,275.3 361.6,278.4 361.9,278.5 362.2,280.2 362.5,281 362.8,278.5 363.1,277.9 363.4,276.6 363.7,272.2 364,273.2 364.3,274.2 364.6,275.9 364.9,276.5 365.2,273.1 365.5,269.9 365.8,278.7 366.1,273 366.4,267.7 366.7,267.9 367,268.5 367.3,270.1 367.6,276.7 367.9,266.9 368.2,268 368.5,263.3 368.8,258.2 369.1,263.8 369.4,263.7 369.7,265.8 370,263.5 370.3,266.1 370.6,262.2 370.9,262.9 371.2,258.4 371.5,261.3 371.8,256 372.1,262.4 372.4,255 372.7,255 373,259.6 373.3,269 373.6,257.9 373.9,262 374.2,259.9 374.5,264.1 374.8,265.1 375.1,261.4 375.4,259.8 375.7,270.8 376,269.1 376.3,268.3 376.6,269.5 376.9,270.6 377.2,269.9 377.5,273.3 377.8,276.6 378.1,274.4 378.4,275.7 378.7,271 379,277.4 379.3,278.3 379.6,274 379.9,277 380.2,273.3 380.5,277.7 380.8,276.2 381.1,279.1 381.4,274.3 381.7,279.5 382,278.2 382.3,278.1 382.6,281.2 382.9,279.7 383.2,279.7 383.5,279.2 383.8,275.2 384.1,280.2 384.4,280.7 384.7,279.9 385,280.6 385.3,280.2 385.6,280 385.9,281.9 386.2,281.7 386.5,282.4 386.8,282 387.1,283.9 387.4,280 387.7,283.5 388,281.6 388.3,282.5 388.6,283.5 388.9,283.4 389.2,283.1 389.5,281.5 389.8,283.6 390.1,282.9 390.4,281.5 390.7,284.4 391,284.7 391.3,283.8 391.6,284.2 391.9,286.8 392.2,284.8 392.5,285.8 392.8,284.2 393.1,284.9 393.4,286.4 393.7,286.8 394,286.7 394.3,284.5 394.6,286.3 394.9,285.6 395.2,285.9 395.5,285 395.8,285.7 396.1,285.8 396.4,286.2 396.7,286.6 397,286 397.3,286.4 397.6,286.2 397.9,286 398.2,286.2 398.5,286.5 398.8,286.6 399.1,286.6 399.4,287.6 399.7,287.8 400,286.5 400.3,288.6 400.6,286.9 400.9,287.2 401.2,288.6 401.5,286.9 401.8,286.7 402.1,287.3 402.4,286.6 402.7,286.7 403,287.4 403.3,287.8 403.6,287.3 403.9,288 404.2,287.9 404.5,287.5 404.8,286.4 405.1,286.9 405.4,287.4 405.7,287.2 406,287.2 406.3,288.3 406.6,287.5 406.9,287.2 407.2,288.4 407.5,287.2 407.8,288.1 408.1,288.7 408.4,287.5 408.7,287.6 409,288 409.3,287.1 409.6,288.1 409.9,287.4 410.2,287.7 410.5,288.3 410.8,288.4 411.1,288.9 411.4,288.2 411.7,287.6 412,288.2 412.3,287.9 412.6,287.8 412.9,288.1 413.2,288.3 413.5,288.4 413.8,287.8 414.1,288.3 414.4,288 414.7,288.1 415,287.9 415.3,288.2 415.6,287.2 415.9,287.6 416.2,288.5 416.5,288.4 416.8,288.1 417.1,288 417.4,287.9 417.7,289 418,288.7 418.3,288.7 418.6,288.2 418.9,287.9 419.2,288.5 419.5,288.3 419.8,288.9 420.1,288.3 420.4,288.2 420.7,288.4 421,289.5 421.3,289.2 421.6,289.1 421.9,289.3 422.2,288.8 422.5,289.4 422.8,289.1 423.1,288.4 423.4,288.6 423.7,288.5 424,288.2 424.3,288.7 424.6,288.8 424.9,288 425.2,288.8 425.5,288.5 425.8,288.6 426.1,288.9 426.4,288.4 426.7,288.6" fill="none" stroke="#000" stroke-width="1.15" stroke-linejoin="round"/>
<text x="354.3" y="220.7" style="font-family:'Liberation Sans',sans-serif;font-weight:bold;stroke:#111;stroke-width:0.3px;font-size:9.5px" fill="#111">CD62L</text>
<line x1="435.1" y1="211.1" x2="435.1" y2="290.4" stroke="#111" stroke-width="1.6" stroke-dasharray="1.3 1.9"/>
<path d="M438.4,291.4v2.8M444.3,291.4v1.8M447.8,291.4v1.8M450.3,291.4v1.8M452.2,291.4v1.8M453.8,291.4v1.8M455.1,291.4v1.8M456.2,291.4v1.8M457.2,291.4v1.8M458.1,291.4v2.8M464.1,291.4v1.8M467.6,291.4v1.8M470,291.4v1.8M472,291.4v1.8M473.5,291.4v1.8M474.8,291.4v1.8M476,291.4v1.8M477,291.4v1.8M477.9,291.4v2.8M483.8,291.4v1.8M487.3,291.4v1.8M489.8,291.4v1.8M491.7,291.4v1.8M493.3,291.4v1.8M494.6,291.4v1.8M495.7,291.4v1.8M496.7,291.4v1.8M497.6,291.4v2.8M503.6,291.4v1.8M507.1,291.4v1.8M509.5,291.4v1.8M511.5,291.4v1.8M513,291.4v1.8M514.3,291.4v1.8M515.5,291.4v1.8M516.5,291.4v1.8" stroke="#222" stroke-width="1" fill="none"/>
<rect x="436.7" y="210.1" width="81.3" height="80.3" fill="none" stroke="#111" stroke-width="2"/>
<path d="M437.9,287.7 438.2,286 438.5,285.6 438.8,285.6 439.1,284.6 439.4,283.1 439.7,284.3 440,283.8 440.3,283.7 440.6,282.9 440.9,282.7 441.2,282.2 441.5,283.7 441.8,282.9 442.1,281.2 442.4,281.8 442.7,283.3 443,282.4 443.3,282.7 443.6,284 443.9,283.7 444.2,283.5 444.5,284.7 444.8,283.5 445.1,284.5 445.4,283.5 445.7,282.7 446,284.3 446.3,281.4 446.6,281.4 446.9,280.3 447.2,282.3 447.5,281.6 447.8,281.3 448.1,281.8 448.4,281.3 448.7,283.2 449,281 449.3,281.9 449.6,283.5 449.9,280.9 450.2,283.1 450.5,280.8 450.8,279.9 451.1,282 451.4,281 451.7,281 452,280.2 452.3,279.2 452.6,278.7 452.9,278.6 453.2,281.2 453.5,280.7 453.8,282.1 454.1,281.6 454.4,283.3 454.7,280.9 455,281.7 455.3,282.3 455.6,282.5 455.9,283.5 456.2,283.6 456.5,284.1 456.8,281.4 457.1,281.8 457.4,282 457.7,283.2 458,283.1 458.3,280.9 458.6,281.2 458.9,282 459.2,281.9 459.5,281.3 459.8,280.5 460.1,280.2 460.4,280.4 460.7,280.3 461,281.4 461.3,280.8 461.6,281.8 461.9,282.3 462.2,280.8 462.5,281 462.8,282.5 463.1,282.3 463.4,282.2 463.7,282.1 464,282.5 464.3,282.1 464.6,282.1 464.9,282.6 465.2,282.4 465.5,283 465.8,283 466.1,282.7 466.4,285.1 466.7,281.3 467,281.1 467.3,281.2 467.6,281.7 467.9,281.7 468.2,280.4 468.5,281.5 468.8,280.3 469.1,282.4 469.4,277.9 469.7,279.8 470,279 470.3,278.7 470.6,277.3 470.9,279.4 471.2,277.5 471.5,279.5 471.8,277.5 472.1,278.3 472.4,272.3 472.7,274.1 473,274.9 473.3,274.4 473.6,276.3 473.9,271.6 474.2,276.9 474.5,270.7 474.8,271.2 475.1,270 475.4,268.9 475.7,268.9 476,267.8 476.3,269.5 476.6,267.1 476.9,261.8 477.2,258.3 477.5,259.4 477.8,259.8 478.1,254.2 478.4,258.9 478.7,255.5 479,253.1 479.3,255.5 479.6,256.8 479.9,256.9 480.2,248 480.5,253.5 480.8,247.5 481.1,248.5 481.4,250.2 481.7,244 482,249.1 482.3,240.4 482.6,240 482.9,243.1 483.2,242.5 483.5,238.8 483.8,246.8 484.1,238 484.4,238.6 484.7,238.6 485,243.6 485.3,238.3 485.6,239.3 485.9,247.8 486.2,249.4 486.5,247.6 486.8,239.7 487.1,242.9 487.4,249.7 487.7,250.1 488,249.6 488.3,251.1 488.6,257.6 488.9,257.2 489.2,255.2 489.5,260.1 489.8,270.9 490.1,264.3 490.4,263.7 490.7,264.9 491,265.3 491.3,264.9 491.6,271.7 491.9,266.5 492.2,271.6 492.5,270.5 492.8,270.7 493.1,271.8 493.4,270.7 493.7,275.1 494,278.5 494.3,275.1 494.6,278.3 494.9,274.4 495.2,276.7 495.5,276.8 495.8,276.6 496.1,277.3 496.4,278.2 496.7,277.5 497,278.6 497.3,278.7 497.6,279.2 497.9,280.6 498.2,279.9 498.5,280.6 498.8,280.7 499.1,282.4 499.4,283.4 499.7,282.3 500,282.6 500.3,283.4 500.6,282.8 500.9,282.4 501.2,284.2 501.5,282.9 501.8,283.7 502.1,284.6 502.4,284 502.7,284.7 503,285.8 503.3,284.2 503.6,285.3 503.9,285.6 504.2,286.2 504.5,286.6 504.8,285.7 505.1,286.2 505.4,286.2 505.7,286 506,286.2 506.3,285.5 506.6,285.7 506.9,287.7 507.2,287.4 507.5,287.6 507.8,286.9 508.1,287.4 508.4,287.5 508.7,287.5 509,287.2 509.3,287.3 509.6,287.2 509.9,288 510.2,286.7 510.5,287.9 510.8,288.2 511.1,287.8 511.4,287.5 511.7,287.3 512,288.3 512.3,287.8 512.6,288 512.9,287.7 513.2,288.5 513.5,288.4 513.8,288.6 514.1,287.9 514.4,288.1" fill="none" stroke="#555" stroke-width="1.2" stroke-dasharray="1 0.9"/>
<path d="M437.9,274.7 438.2,274.9 438.5,273.2 438.8,271 439.1,273.4 439.4,270.6 439.7,270.7 440,267.1 440.3,270.7 440.6,269.6 440.9,268.8 441.2,271.9 441.5,265.9 441.8,269.8 442.1,272.9 442.4,269.7 442.7,267.1 443,265 443.3,265 443.6,265.5 443.9,272.3 444.2,263.9 444.5,270.9 444.8,265.3 445.1,269.2 445.4,273.6 445.7,271.1 446,264.4 446.3,272.2 446.6,263.9 446.9,268.8 447.2,261.7 447.5,262.4 447.8,269.4 448.1,268.8 448.4,271.6 448.7,266.2 449,262.8 449.3,271.3 449.6,263.6 449.9,266.3 450.2,267.3 450.5,265.9 450.8,268 451.1,270.8 451.4,268.5 451.7,267.2 452,262.1 452.3,264.8 452.6,269.9 452.9,264.7 453.2,263 453.5,268.7 453.8,264.7 454.1,264.6 454.4,269.8 454.7,267.7 455,262 455.3,262.3 455.6,262.4 455.9,261.7 456.2,261.8 456.5,261.7 456.8,261.7 457.1,263.7 457.4,261.8 457.7,263.5 458,268.2 458.3,277.8 458.6,266.8 458.9,266 459.2,267.4 459.5,276.8 459.8,264.6 460.1,269.1 460.4,274.1 460.7,277.7 461,272.6 461.3,277 461.6,277.1 461.9,272.5 462.2,274.8 462.5,276.1 462.8,278.4 463.1,281.3 463.4,281.1 463.7,277.8 464,280.6 464.3,279.7 464.6,282.3 464.9,281.4 465.2,279.2 465.5,281.6 465.8,280.5 466.1,281.4 466.4,282.1 466.7,283.3 467,281.1 467.3,280.6 467.6,283.2 467.9,283 468.2,280.5 468.5,280.9 468.8,279.8 469.1,280.3 469.4,281.5 469.7,280 470,280.7 470.3,284 470.6,280.8 470.9,282.6 471.2,282.5 471.5,284.4 471.8,281.5 472.1,281.7 472.4,282.5 472.7,284.1 473,284 473.3,285.1 473.6,282.9 473.9,284.3 474.2,284.6 474.5,284.3 474.8,285.5 475.1,286.6 475.4,284.8 475.7,286 476,286 476.3,285.9 476.6,285.9 476.9,285.1 477.2,285.5 477.5,284.8 477.8,285.3 478.1,285.6 478.4,285 478.7,284.6 479,285.9 479.3,283.4 479.6,285.8 479.9,286.2 480.2,284.7 480.5,287.2 480.8,286.3 481.1,287 481.4,286.1 481.7,286.3 482,286.1 482.3,287.2 482.6,285.9 482.9,286.9 483.2,286.9 483.5,286.9 483.8,287 484.1,287.6 484.4,287.6 484.7,288.8 485,286.8 485.3,287.8 485.6,287.2 485.9,287.8 486.2,286.9 486.5,288 486.8,287.8 487.1,288.2 487.4,288.2 487.7,287.8 488,288.1 488.3,287.7 488.6,288.3 488.9,287.8 489.2,288.3 489.5,287.8 489.8,288.1 490.1,288.6 490.4,287.8 490.7,288 491,288.7 491.3,288.5 491.6,288.2 491.9,288.1 492.2,287.8 492.5,287.4 492.8,288.4 493.1,288.1 493.4,288 493.7,288.3 494,288.5 494.3,288.3 494.6,288.2 494.9,287.4 495.2,288.7 495.5,288.5 495.8,288.3 496.1,288.2 496.4,289 496.7,287.9 497,288 497.3,287.7 497.6,288.7 497.9,287.8 498.2,288.4 498.5,287.7 498.8,288.3 499.1,288.3 499.4,287.7 499.7,288.4 500,288.3 500.3,288.2 500.6,289.2 500.9,288.3 501.2,288.1 501.5,287.8 501.8,288.1 502.1,288.8 502.4,288.3 502.7,287.6 503,288.3 503.3,287.8 503.6,288.5 503.9,288.5 504.2,287.5 504.5,288.1 504.8,288.2 505.1,288.3 505.4,288.1 505.7,287.5 506,287.7 506.3,288.4 506.6,288.9 506.9,287.8 507.2,288.5 507.5,288.6 507.8,288 508.1,288 508.4,288.3 508.7,288.5 509,287.9 509.3,288.5 509.6,288.3 509.9,288.3 510.2,288.5 510.5,288.2 510.8,287.4 511.1,288.1 511.4,288.4 511.7,288.5 512,288.4 512.3,288.4 512.6,288.3 512.9,288.4 513.2,288.1" fill="none" stroke="#000" stroke-width="1.15" stroke-linejoin="round"/>
<text x="440.8" y="220.7" style="font-family:'Liberation Sans',sans-serif;font-weight:bold;stroke:#111;stroke-width:0.3px;font-size:9.5px" fill="#111">CD38</text>
<line x1="2.5" y1="299.3" x2="2.5" y2="378.6" stroke="#111" stroke-width="1.6" stroke-dasharray="1.3 1.9"/>
<path d="M5.8,379.6v2.8M11.7,379.6v1.8M15.2,379.6v1.8M17.7,379.6v1.8M19.6,379.6v1.8M21.2,379.6v1.8M22.5,379.6v1.8M23.6,379.6v1.8M24.6,379.6v1.8M25.6,379.6v2.8M31.5,379.6v1.8M35,379.6v1.8M37.4,379.6v1.8M39.4,379.6v1.8M40.9,379.6v1.8M42.2,379.6v1.8M43.4,379.6v1.8M44.4,379.6v1.8M45.3,379.6v2.8M51.2,379.6v1.8M54.7,379.6v1.8M57.2,379.6v1.8M59.1,379.6v1.8M60.7,379.6v1.8M62,379.6v1.8M63.1,379.6v1.8M64.1,379.6v1.8M65,379.6v2.8M71,379.6v1.8M74.5,379.6v1.8M76.9,379.6v1.8M78.9,379.6v1.8M80.4,379.6v1.8M81.7,379.6v1.8M82.9,379.6v1.8M83.9,379.6v1.8" stroke="#222" stroke-width="1" fill="none"/>
<rect x="4.1" y="298.3" width="81.3" height="80.3" fill="none" stroke="#111" stroke-width="2"/>
<path d="M20,376.6 20.3,376.2 20.6,376.4 20.9,375.9 21.2,377.4 21.5,376.6 21.8,376.5 22.1,376.4 22.4,377.5 22.7,376.6 23,377.2 23.3,376.6 23.6,376.6 23.9,376.8 24.2,376.5 24.5,376.6 24.8,375.8 25.1,376.9 25.4,375.9 25.7,376.3 26,376.5 26.3,376 26.6,376.9 26.9,375.9 27.2,375.7 27.5,376.1 27.8,376.2 28.1,375.8 28.4,375.6 28.7,376.2 29,376.5 29.3,375.6 29.6,374.8 29.9,374.8 30.2,374.5 30.5,375.2 30.8,374.9 31.1,375.1 31.4,374.5 31.7,373.6 32,373.9 32.3,373.8 32.6,372.7 32.9,372.2 33.2,372.2 33.5,371.5 33.8,368.7 34.1,370.3 34.4,369 34.7,369.5 35,365.9 35.3,366.5 35.6,363.9 35.9,363.2 36.2,362.1 36.5,362.2 36.8,357.3 37.1,357 37.4,354.6 37.7,350.7 38,356.3 38.3,350.7 38.6,342.2 38.9,344.2 39.2,337.9 39.5,340.7 39.8,345.3 40.1,334.1 40.4,336.9 40.7,328.4 41,327.6 41.3,318.7 41.6,324.8 41.9,327.6 42.2,327.6 42.5,328.1 42.8,327.4 43.1,316 43.4,317.8 43.7,316 44,319.8 44.3,316 44.6,317.4 44.9,316 45.2,336.3 45.5,316 45.8,326.7 46.1,317.4 46.4,340.9 46.7,316 47,325.8 47.3,316.6 47.6,323.8 47.9,326.2 48.2,321.9 48.5,323.2 48.8,323 49.1,328.8 49.4,328.8 49.7,333.2 50,338.6 50.3,342.5 50.6,337 50.9,334.1 51.2,341.4 51.5,344.6 51.8,346.9 52.1,353.8 52.4,353.1 52.7,357.3 53,360.7 53.3,362.8 53.6,364.3 53.9,367.9 54.2,367.9 54.5,369.7 54.8,372.3 55.1,372.5 55.4,373.1 55.7,373.1 56,374.2 56.3,374.4 56.6,374.7 56.9,375.3 57.2,376.1 57.5,376.3 57.8,375.8 58.1,376.8 58.4,376.3 58.7,376.4 59,376.3 59.3,376.3 59.6,376.7 59.9,376.5 60.2,376.1 60.5,376.5" fill="none" stroke="#555" stroke-width="1.2" stroke-dasharray="1 0.9"/>
<path d="M11,376.4 11.3,376.5 11.6,376.9 11.9,376.7 12.2,376.3 12.5,376.6 12.8,376.4 13.1,376.5 13.4,375.5 13.7,376.4 14,376.6 14.3,376.4 14.6,377.4 14.9,376.4 15.2,376.2 15.5,376.4 15.8,375.7 16.1,375.8 16.4,376.3 16.7,375.7 17,375 17.3,375.6 17.6,375.5 17.9,375.9 18.2,374.8 18.5,375.1 18.8,374.1 19.1,374.2 19.4,375.8 19.7,373.9 20,376.2 20.3,375.2 20.6,374.7 20.9,373.4 21.2,374.3 21.5,373.8 21.8,374.9 22.1,373.8 22.4,374.6 22.7,374.7 23,373.8 23.3,373.3 23.6,374.6 23.9,374.2 24.2,373.9 24.5,375.6 24.8,374.6 25.1,374.1 25.4,374.6 25.7,373.6 26,374.8 26.3,375.2 26.6,375 26.9,375.8 27.2,374 27.5,375.2 27.8,375.6 28.1,373.8 28.4,374.8 28.7,373.4 29,375 29.3,375.3 29.6,373.8 29.9,373.4 30.2,373.5 30.5,374.1 30.8,373.6 31.1,372.2 31.4,373.3 31.7,373.4 32,372.7 32.3,372.8 32.6,372.1 32.9,372.5 33.2,372.1 33.5,371.7 33.8,370.8 34.1,369.3 34.4,369.1 34.7,370.7 35,368.5 35.3,369.4 35.6,370.7 35.9,370.7 36.2,370.4 36.5,366.4 36.8,367.4 37.1,368.9 37.4,367.7 37.7,367.4 38,364.9 38.3,365.6 38.6,365.8 38.9,368.4 39.2,363 39.5,362.8 39.8,360.6 40.1,367 40.4,358.5 40.7,360.6 41,365.5 41.3,357.4 41.6,366.6 41.9,360.5 42.2,362.3 42.5,364.1 42.8,360.3 43.1,359.5 43.4,358 43.7,360.7 44,361.9 44.3,358 44.6,360 44.9,354.9 45.2,357.7 45.5,356.5 45.8,353.6 46.1,349 46.4,356.9 46.7,353.1 47,351.6 47.3,347.4 47.6,354.3 47.9,341.7 48.2,345.9 48.5,356.6 48.8,343.8 49.1,345.7 49.4,343.8 49.7,351.4 50,341.6 50.3,339 50.6,341.5 50.9,332.2 51.2,330.9 51.5,330.4 51.8,327.2 52.1,331.9 52.4,340.2 52.7,329.2 53,327.2 53.3,332.9 53.6,327.2 53.9,346.4 54.2,343.5 54.5,345.1 54.8,345 55.1,344.1 55.4,352.6 55.7,353.7 56,359.5 56.3,364.7 56.6,361.3 56.9,366.4 57.2,368.5 57.5,370.3 57.8,371 58.1,373.2 58.4,372.8 58.7,374.5 59,374 59.3,375.7 59.6,374.9 59.9,376.2 60.2,375.8 60.5,376.6 60.8,376.3 61.1,375.7 61.4,376 61.7,376.5 62,377 62.3,375.8 62.6,375.3 62.9,377.7 63.2,376.3 63.5,376.5 63.8,376.5 64.1,376.5 64.4,376.1 64.7,375.5 65,376.4" fill="none" stroke="#000" stroke-width="1.15" stroke-linejoin="round"/>
<text x="8.2" y="308.5" style="font-family:'Liberation Sans',sans-serif;font-weight:bold;stroke:#111;stroke-width:0.3px;font-size:9.5px" fill="#111">CD72</text>
<line x1="89" y1="299.3" x2="89" y2="378.6" stroke="#111" stroke-width="1.6" stroke-dasharray="1.3 1.9"/>
<path d="M92.3,379.6v2.8M98.3,379.6v1.8M101.7,379.6v1.8M104.2,379.6v1.8M106.1,379.6v1.8M107.7,379.6v1.8M109,379.6v1.8M110.2,379.6v1.8M111.2,379.6v1.8M112.1,379.6v2.8M118,379.6v1.8M121.5,379.6v1.8M124,379.6v1.8M125.9,379.6v1.8M127.4,379.6v1.8M128.8,379.6v1.8M129.9,379.6v1.8M130.9,379.6v1.8M131.8,379.6v2.8M137.8,379.6v1.8M141.2,379.6v1.8M143.7,379.6v1.8M145.6,379.6v1.8M147.2,379.6v1.8M148.5,379.6v1.8M149.7,379.6v1.8M150.7,379.6v1.8M151.6,379.6v2.8M157.5,379.6v1.8M161,379.6v1.8M163.5,379.6v1.8M165.4,379.6v1.8M166.9,379.6v1.8M168.3,379.6v1.8M169.4,379.6v1.8M170.4,379.6v1.8" stroke="#222" stroke-width="1" fill="none"/>
<rect x="90.6" y="298.3" width="81.3" height="80.3" fill="none" stroke="#111" stroke-width="2"/>
<path d="M113.3,377.1 113.6,376.5 113.9,376.9 114.2,376.7 114.5,376.4 114.8,376.7 115.1,377.1 115.4,376.7 115.7,376 116,376.3 116.3,376.8 116.6,376.4 116.9,376.6 117.2,376.9 117.5,376.6 117.8,377 118.1,376.1 118.4,376.2 118.7,376.7 119,376.2 119.3,375.1 119.6,375.8 119.9,375.9 120.2,375.9 120.5,375.3 120.8,376.1 121.1,374.5 121.4,374.4 121.7,373.7 122,373.9 122.3,374 122.6,373.5 122.9,372.5 123.2,372.4 123.5,371.8 123.8,371.1 124.1,370.7 124.4,370.2 124.7,369.2 125,369.8 125.3,368.4 125.6,368.6 125.9,366.9 126.2,365.6 126.5,364.7 126.8,365.2 127.1,363.6 127.4,361 127.7,355.5 128,356.6 128.3,358 128.6,349 128.9,354.1 129.2,349.4 129.5,349 129.8,344 130.1,341.8 130.4,342.7 130.7,352.1 131,337.1 131.3,327 131.6,330.4 131.9,330.5 132.2,319.4 132.5,322.7 132.8,323.9 133.1,317.1 133.4,315.6 133.7,312.8 134,313 134.3,308.2 134.6,305.8 134.9,305.8 135.2,311.7 135.5,308.8 135.8,315.9 136.1,319.8 136.4,320 136.7,327.7 137,322.7 137.3,327.2 137.6,334.2 137.9,332.4 138.2,340 138.5,340.9 138.8,343.6 139.1,344.9 139.4,351.3 139.7,349 140,352.3 140.3,357.1 140.6,357.9 140.9,354.8 141.2,361.5 141.5,360 141.8,359.3 142.1,363.3 142.4,364.5 142.7,361.3 143,363.2 143.3,364.3 143.6,365.5 143.9,367.3 144.2,369.7 144.5,370.6 144.8,374.2 145.1,371.6 145.4,372.7 145.7,372 146,373.3 146.3,373.4 146.6,374.8 146.9,374.5 147.2,373.9 147.5,374.9 147.8,375.6 148.1,375.7 148.4,376 148.7,376.1 149,375.5 149.3,377.1 149.6,376.6 149.9,375.8 150.2,376 150.5,376.7 150.8,376.3 151.1,375.3 151.4,377.6 151.7,376.7 152,376.8 152.3,377.2 152.6,376.8" fill="none" stroke="#555" stroke-width="1.2" stroke-dasharray="1 0.9"/>
<path d="M91.9,376.8 92.2,376.8 92.5,376.1 92.8,376.2 93.1,376.7 93.4,376.6 93.7,376 94,376.1 94.3,376.3 94.6,376 94.9,376.2 95.2,376.4 95.5,376.1 95.8,374.9 96.1,375.1 96.4,376.1 96.7,375.6 97,377 97.3,376.4 97.6,375.7 97.9,375.5 98.2,376.8 98.5,375.8 98.8,376.6 99.1,376.8 99.4,376.5 99.7,375.1 100,375.9 100.3,375.9 100.6,375.4 100.9,376.2 101.2,375.3 101.5,376.2 101.8,377.1 102.1,375.7 102.4,376.5 102.7,376.3 103,375.2 103.3,375.9 103.6,375.2 103.9,376.1 104.2,375.9 104.5,375.9 104.8,375.9 105.1,375.7 105.4,376.6 105.7,376.2 106,376.3 106.3,376 106.6,375 106.9,376.8 107.2,376.1 107.5,375 107.8,375.9 108.1,375.6 108.4,376.1 108.7,376 109,376.2 109.3,376.4 109.6,376.2 109.9,376.3 110.2,375.4 110.5,377.3 110.8,376 111.1,375 111.4,376.2 111.7,375.7 112,376.3 112.3,375.6 112.6,376.2 112.9,375.7 113.2,374.8 113.5,375.6 113.8,375.8 114.1,375.6 114.4,374.9 114.7,375.1 115,375.5 115.3,374.9 115.6,374.7 115.9,374.6 116.2,375.2 116.5,374.5 116.8,373.9 117.1,374.7 117.4,373.5 117.7,373 118,373.1 118.3,373.7 118.6,373.7 118.9,372.9 119.2,371 119.5,371.8 119.8,373.4 120.1,371.4 120.4,370.2 120.7,368.2 121,368.3 121.3,368.6 121.6,368.4 121.9,366 122.2,367.3 122.5,365.8 122.8,364.2 123.1,368 123.4,365.1 123.7,364.8 124,366 124.3,361.3 124.6,359.2 124.9,363.5 125.2,358.7 125.5,358.2 125.8,362.4 126.1,356.6 126.4,355.9 126.7,357.5 127,358.9 127.3,355.6 127.6,356.1 127.9,355.6 128.2,358 128.5,355.2 128.8,357.5 129.1,359.6 129.4,360.2 129.7,354.6 130,354.3 130.3,353.2 130.6,356.4 130.9,361.4 131.2,354 131.5,360.8 131.8,355.6 132.1,362.3 132.4,358 132.7,359.4 133,364.6 133.3,366.3 133.6,358.5 133.9,359.8 134.2,360.9 134.5,363.4 134.8,357.3 135.1,358.4 135.4,360.9 135.7,357.5 136,363.9 136.3,358 136.6,352.9 136.9,355.7 137.2,357.5 137.5,356 137.8,351.3 138.1,357.6 138.4,351.2 138.7,351.9 139,353.9 139.3,350.9 139.6,352.3 139.9,355 140.2,343.5 140.5,343.9 140.8,347.9 141.1,346.1 141.4,348.6 141.7,348.4 142,343 142.3,349.7 142.6,344.2 142.9,344 143.2,355.3 143.5,351.5 143.8,354.7 144.1,352.2 144.4,343 144.7,348.5 145,354.5 145.3,352.1 145.6,355.1 145.9,355.1 146.2,357.9 146.5,359 146.8,358 147.1,363 147.4,362.8 147.7,361.2 148,363.4 148.3,357.2 148.6,367 148.9,365.5 149.2,368.4 149.5,367.3 149.8,365.2 150.1,366.8 150.4,368.8 150.7,370.9 151,367.5 151.3,369.2 151.6,370.8 151.9,371.7 152.2,371.5 152.5,373.5 152.8,374 153.1,372.8 153.4,374.2 153.7,375.3 154,375.2 154.3,375.5 154.6,375.9 154.9,375.2 155.2,375.6 155.5,375.5 155.8,376.3 156.1,375.7 156.4,376.4 156.7,375.5 157,376.5 157.3,376 157.6,376.4 157.9,376.3 158.2,375.8 158.5,376.2 158.8,375.7 159.1,376 159.4,376.8 159.7,376.7 160,377.2 160.3,376.3 160.6,375.9 160.9,376.6 161.2,376.4 161.5,376.5 161.8,375.5 162.1,376.8 162.4,376.3 162.7,376.7" fill="none" stroke="#000" stroke-width="1.15" stroke-linejoin="round"/>
<text x="94.7" y="308.5" style="font-family:'Liberation Sans',sans-serif;font-weight:bold;stroke:#111;stroke-width:0.3px;font-size:9.5px" fill="#111">CD22</text>
<line x1="175.5" y1="299.3" x2="175.5" y2="378.6" stroke="#111" stroke-width="1.6" stroke-dasharray="1.3 1.9"/>
<path d="M178.8,379.6v2.8M184.8,379.6v1.8M188.3,379.6v1.8M190.7,379.6v1.8M192.6,379.6v1.8M194.2,379.6v1.8M195.5,379.6v1.8M196.7,379.6v1.8M197.7,379.6v1.8M198.6,379.6v2.8M204.5,379.6v1.8M208,379.6v1.8M210.5,379.6v1.8M212.4,379.6v1.8M214,379.6v1.8M215.3,379.6v1.8M216.4,379.6v1.8M217.4,379.6v1.8M218.3,379.6v2.8M224.3,379.6v1.8M227.8,379.6v1.8M230.2,379.6v1.8M232.1,379.6v1.8M233.7,379.6v1.8M235,379.6v1.8M236.2,379.6v1.8M237.2,379.6v1.8M238.1,379.6v2.8M244,379.6v1.8M247.5,379.6v1.8M250,379.6v1.8M251.9,379.6v1.8M253.5,379.6v1.8M254.8,379.6v1.8M255.9,379.6v1.8M256.9,379.6v1.8" stroke="#222" stroke-width="1" fill="none"/>
<rect x="177.1" y="298.3" width="81.3" height="80.3" fill="none" stroke="#111" stroke-width="2"/>
<path d="M199.8,376.6 200.1,376.9 200.4,376.3 200.7,376.7 201,376.1 201.3,376.5 201.6,376.6 201.9,376.8 202.2,376.3 202.5,376.3 202.8,376.3 203.1,377 203.4,376.3 203.7,375.9 204,376.9 204.3,376.5 204.6,377.1 204.9,376.5 205.2,376.7 205.5,375.9 205.8,376.4 206.1,376 206.4,376 206.7,375.9 207,375.4 207.3,375.3 207.6,375.9 207.9,375.4 208.2,375.5 208.5,375.8 208.8,375.6 209.1,375.2 209.4,375.6 209.7,374.6 210,374.5 210.3,374.4 210.6,374.5 210.9,374.1 211.2,374.2 211.5,373.6 211.8,375.5 212.1,373.6 212.4,372.5 212.7,373.6 213,371.9 213.3,373.1 213.6,371.1 213.9,370.8 214.2,371 214.5,371.9 214.8,373.1 215.1,370.7 215.4,369.2 215.7,368.1 216,369.8 216.3,368.6 216.6,367.9 216.9,367.5 217.2,366.6 217.5,365.4 217.8,367 218.1,362.7 218.4,365 218.7,361.8 219,360.1 219.3,364.8 219.6,360.8 219.9,360.8 220.2,360.3 220.5,357.9 220.8,365.3 221.1,357.3 221.4,357.6 221.7,351.4 222,353.3 222.3,355.8 222.6,352.2 222.9,350.8 223.2,346.7 223.5,344.5 223.8,342.9 224.1,342.8 224.4,337.3 224.7,341.9 225,338.8 225.3,329 225.6,330.6 225.9,325.9 226.2,323.3 226.5,325.2 226.8,325.9 227.1,316.9 227.4,321.8 227.7,313.6 228,316 228.3,335.2 228.6,319.4 228.9,310.6 229.2,307 229.5,307 229.8,308.4 230.1,313.4 230.4,317.3 230.7,332.8 231,319 231.3,331 231.6,333.1 231.9,337.5 232.2,338.5 232.5,340.8 232.8,342.5 233.1,346 233.4,352.4 233.7,352.6 234,354.8 234.3,359.7 234.6,360.9 234.9,359.4 235.2,363.5 235.5,363.8 235.8,365.2 236.1,364.5 236.4,369.1 236.7,368.4 237,371 237.3,370.9 237.6,371.6 237.9,373.6 238.2,374.4 238.5,373.8 238.8,374.1 239.1,375.1 239.4,374.9 239.7,374.9 240,375 240.3,376 240.6,376 240.9,376 241.2,376.4 241.5,375.9 241.8,376.5 242.1,376.1 242.4,375.5 242.7,376.7 243,376.4 243.3,376.7 243.6,377.4" fill="none" stroke="#555" stroke-width="1.2" stroke-dasharray="1 0.9"/>
<path d="M178.4,376.5 178.7,376.3 179,376.2 179.3,376.5 179.6,375.9 179.9,376.8 180.2,376.1 180.5,376.6 180.8,375.9 181.1,376.1 181.4,376.4 181.7,376.4 182,376.8 182.3,377.3 182.6,375.1 182.9,376.2 183.2,377 183.5,376.3 183.8,376.3 184.1,376.5 184.4,375.9 184.7,375.5 185,376.1 185.3,376.1 185.6,375.8 185.9,376.7 186.2,375.9 186.5,375.8 186.8,376.4 187.1,376.1 187.4,376.5 187.7,376.4 188,375.5 188.3,376.3 188.6,376.7 188.9,376.2 189.2,376.4 189.5,376.4 189.8,376.1 190.1,375.2 190.4,375.2 190.7,376.5 191,376.6 191.3,376.2 191.6,375.7 191.9,376.6 192.2,375.8 192.5,375.6 192.8,376.5 193.1,376.8 193.4,376.2 193.7,375.9 194,375.5 194.3,375.9 194.6,376.8 194.9,375.9 195.2,376.2 195.5,376.2 195.8,376.5 196.1,376.5 196.4,376.1 196.7,375.9 197,375.4 197.3,376 197.6,375.6 197.9,375.7 198.2,375.9 198.5,375.6 198.8,375.7 199.1,376.2 199.4,375.6 199.7,375.7 200,376.4 200.3,375.6 200.6,376.3 200.9,375.3 201.2,375.9 201.5,376.5 201.8,376.2 202.1,376.4 202.4,375.9 202.7,375.8 203,376.9 203.3,376 203.6,376.7 203.9,375.5 204.2,375.9 204.5,375.3 204.8,376 205.1,376.1 205.4,375.1 205.7,376.1 206,376.2 206.3,376.7 206.6,374.8 206.9,375.4 207.2,376.6 207.5,375.6 207.8,375.8 208.1,376.2 208.4,374.9 208.7,377 209,375.8 209.3,376.4 209.6,375.9 209.9,376.3 210.2,375.8 210.5,375.6 210.8,375.3 211.1,374.5 211.4,376.4 211.7,376.8 212,376.1 212.3,375.9 212.6,375.3 212.9,375.6 213.2,376.3 213.5,375.9 213.8,375.6 214.1,376.2 214.4,375.4 214.7,375.9 215,375.5 215.3,374.2 215.6,375.5 215.9,376.5 216.2,375.7 216.5,376.6 216.8,374.3 217.1,375.7 217.4,375.3 217.7,375.3 218,375.5 218.3,374 218.6,375.1 218.9,375.2 219.2,374.6 219.5,374.3 219.8,374.8 220.1,374.9 220.4,373.7 220.7,374.1 221,374.1 221.3,373.4 221.6,373.6 221.9,374.2 222.2,374.1 222.5,373.7 222.8,373 223.1,371.8 223.4,373.1 223.7,373.6 224,370.8 224.3,372.8 224.6,372 224.9,370.5 225.2,373.1 225.5,371.2 225.8,369.6 226.1,368.8 226.4,369.8 226.7,368.5 227,369.4 227.3,367.8 227.6,365.4 227.9,365.3 228.2,367.8 228.5,364.2 228.8,364.5 229.1,362.9 229.4,365.9 229.7,362.6 230,355.6 230.3,362.8 230.6,357.2 230.9,352.4 231.2,354.9 231.5,355.8 231.8,349.1 232.1,350.8 232.4,349.4 232.7,342.1 233,352 233.3,350.2 233.6,343.4 233.9,339.6 234.2,343.1 234.5,337.6 234.8,347.2 235.1,342.6 235.4,339 235.7,331.5 236,341.2 236.3,331.9 236.6,330 236.9,331.6 237.2,346.1 237.5,325 237.8,325 238.1,325.6 238.4,325 238.7,328.8 239,325.3 239.3,325 239.6,325 239.9,326.8 240.2,325 240.5,339 240.8,325 241.1,346.6 241.4,339.8 241.7,349 242,343.8 242.3,340.5 242.6,351.6 242.9,348.7 243.2,359.1 243.5,358.3 243.8,361.4 244.1,364.4 244.4,369.3 244.7,364.8 245,370.5 245.3,369.1 245.6,369.7 245.9,371.9 246.2,371.7 246.5,372.9 246.8,373.7 247.1,374.6 247.4,375.2 247.7,375.7 248,376 248.3,376.5 248.6,375.7 248.9,376.4 249.2,375.5 249.5,376.4 249.8,376.4 250.1,375.9 250.4,377.2 250.7,375.7 251,376.7 251.3,376.6" fill="none" stroke="#000" stroke-width="1.15" stroke-linejoin="round"/>
<text x="181.2" y="308.5" style="font-family:'Liberation Sans',sans-serif;font-weight:bold;stroke:#111;stroke-width:0.3px;font-size:9.5px" fill="#111">CD32</text>
<line x1="262.1" y1="299.3" x2="262.1" y2="378.6" stroke="#111" stroke-width="1.6" stroke-dasharray="1.3 1.9"/>
<path d="M265.4,379.6v2.8M271.3,379.6v1.8M274.8,379.6v1.8M277.3,379.6v1.8M279.2,379.6v1.8M280.7,379.6v1.8M282.1,379.6v1.8M283.2,379.6v1.8M284.2,379.6v1.8M285.1,379.6v2.8M291.1,379.6v1.8M294.5,379.6v1.8M297,379.6v1.8M298.9,379.6v1.8M300.5,379.6v1.8M301.8,379.6v1.8M302.9,379.6v1.8M304,379.6v1.8M304.9,379.6v2.8M310.8,379.6v1.8M314.3,379.6v1.8M316.8,379.6v1.8M318.7,379.6v1.8M320.2,379.6v1.8M321.6,379.6v1.8M322.7,379.6v1.8M323.7,379.6v1.8M324.6,379.6v2.8M330.6,379.6v1.8M334,379.6v1.8M336.5,379.6v1.8M338.4,379.6v1.8M340,379.6v1.8M341.3,379.6v1.8M342.4,379.6v1.8M343.5,379.6v1.8" stroke="#222" stroke-width="1" fill="none"/>
<rect x="263.7" y="298.3" width="81.3" height="80.3" fill="none" stroke="#111" stroke-width="2"/>
<path d="M264.9,374 265.2,372.8 265.5,371.7 265.8,371 266.1,369.7 266.4,370 266.7,369.2 267,366.8 267.3,368.3 267.6,367.4 267.9,367.6 268.2,365.9 268.5,366.1 268.8,361.9 269.1,364.6 269.4,361.9 269.7,363.8 270,361.2 270.3,359 270.6,359.8 270.9,359.8 271.2,360.6 271.5,360.8 271.8,366.3 272.1,357.7 272.4,355.9 272.7,356.4 273,359.9 273.3,354.9 273.6,360 273.9,356.5 274.2,357.8 274.5,355.9 274.8,354.4 275.1,354.8 275.4,354.1 275.7,354.9 276,355.4 276.3,357.7 276.6,352.8 276.9,354.8 277.2,352.2 277.5,351.8 277.8,352 278.1,352.3 278.4,351.9 278.7,353.6 279,353.9 279.3,351.7 279.6,349.2 279.9,351 280.2,353 280.5,352.4 280.8,346.9 281.1,347.4 281.4,347.1 281.7,348 282,347.8 282.3,344.5 282.6,344.1 282.9,348.2 283.2,355.8 283.5,358.2 283.8,347.7 284.1,349.5 284.4,350.7 284.7,350.1 285,343.6 285.3,347 285.6,349.2 285.9,347.6 286.2,343 286.5,343 286.8,347.4 287.1,343 287.4,343 287.7,347.8 288,349.3 288.3,350.6 288.6,355.1 288.9,351.6 289.2,354.6 289.5,355.7 289.8,351.4 290.1,365.8 290.4,355.3 290.7,355.4 291,358.7 291.3,359.1 291.6,362 291.9,362.7 292.2,361.5 292.5,363.1 292.8,365.3 293.1,365.8 293.4,361.7 293.7,362.9 294,362.3 294.3,367.4 294.6,365.3 294.9,364.6 295.2,364.8 295.5,366.1 295.8,366.8 296.1,367.9 296.4,368.4 296.7,368.1 297,369 297.3,368.7 297.6,369.8 297.9,370.5 298.2,370.1 298.5,370 298.8,370 299.1,372.3 299.4,371.2 299.7,372.7 300,373.1 300.3,372.9 300.6,372.9 300.9,372.7 301.2,374.2 301.5,372.4 301.8,374.1 302.1,373.5 302.4,374.1 302.7,373.9 303,373.6 303.3,374.2 303.6,375.1 303.9,374.6 304.2,374.4 304.5,374.8 304.8,375.3 305.1,375.5 305.4,375 305.7,375.6 306,375.6 306.3,375.9 306.6,374.9 306.9,376.1 307.2,375.6 307.5,376 307.8,375.2 308.1,376.1 308.4,376.7 308.7,375.7 309,376.2 309.3,375.6 309.6,376.9 309.9,376.1 310.2,376.5 310.5,376 310.8,376.5 311.1,376.9 311.4,376.4 311.7,376.2 312,376 312.3,376.6 312.6,376.1 312.9,376.6 313.2,377.1" fill="none" stroke="#555" stroke-width="1.2" stroke-dasharray="1 0.9"/>
<path d="M264.9,376.6 265.2,376.1 265.5,376.2 265.8,376.3 266.1,376.3 266.4,375.8 266.7,376.8 267,376.9 267.3,376.6 267.6,376.1 267.9,376.5 268.2,376.4 268.5,376.8 268.8,376.3 269.1,376.6 269.4,376.4 269.7,377.1 270,375.5 270.3,376.5 270.6,375.4 270.9,375.8 271.2,376.4 271.5,376.2 271.8,376.4 272.1,375.9 272.4,376.1 272.7,375.9 273,375.5 273.3,376.3 273.6,375.8 273.9,375.4 274.2,376 274.5,375.7 274.8,375.6 275.1,375.2 275.4,375.9 275.7,375.7 276,374.6 276.3,375.8 276.6,376.1 276.9,375.2 277.2,375.1 277.5,375.8 277.8,375.8 278.1,374.6 278.4,375.5 278.7,374.7 279,375.6 279.3,375.2 279.6,376.7 279.9,374.1 280.2,375.6 280.5,374.7 280.8,374.8 281.1,375.2 281.4,376 281.7,374.7 282,374.6 282.3,374.8 282.6,375.9 282.9,373.7 283.2,374.6 283.5,376.2 283.8,374.2 284.1,374.9 284.4,373.9 284.7,373.6 285,373 285.3,373.1 285.6,373.7 285.9,373.5 286.2,372.3 286.5,373.2 286.8,374.6 287.1,373 287.4,372.2 287.7,372.5 288,371.5 288.3,371.9 288.6,373.5 288.9,372.7 289.2,371.8 289.5,370.6 289.8,371.9 290.1,369.9 290.4,371.5 290.7,368.1 291,364.8 291.3,369.9 291.6,370.9 291.9,370 292.2,368.9 292.5,368.8 292.8,364.7 293.1,369 293.4,364.9 293.7,366.2 294,364.8 294.3,363.3 294.6,363.2 294.9,363.4 295.2,355.5 295.5,358.6 295.8,354.8 296.1,352.2 296.4,361.4 296.7,354.7 297,347.7 297.3,342.8 297.6,352 297.9,353.9 298.2,338.6 298.5,343.9 298.8,351 299.1,336.4 299.4,338.1 299.7,344.5 300,335.6 300.3,333.5 300.6,333.9 300.9,331.9 301.2,322.7 301.5,332.8 301.8,322.7 302.1,322.7 302.4,322.7 302.7,322.7 303,328.1 303.3,332.1 303.6,329.9 303.9,332 304.2,328.5 304.5,332.8 304.8,324.7 305.1,324.9 305.4,342 305.7,342.7 306,347.7 306.3,347.2 306.6,345.8 306.9,343.6 307.2,348.3 307.5,353.1 307.8,351.3 308.1,354.1 308.4,353.6 308.7,360.6 309,357.3 309.3,362.3 309.6,357.3 309.9,361.1 310.2,365.6 310.5,365.4 310.8,370.5 311.1,369 311.4,373.2 311.7,371.6 312,374 312.3,374.1 312.6,374.4 312.9,374.9 313.2,374.5 313.5,373.9 313.8,376 314.1,375.3 314.4,375.7 314.7,375.7 315,376.6 315.3,376.4 315.6,376.5 315.9,376.2 316.2,376.2 316.5,376.6 316.8,376.3 317.1,375.8 317.4,376.2 317.7,376.1 318,376.6 318.3,376.2 318.6,375.5 318.9,376.4 319.2,376.6 319.5,376.3 319.8,377.2 320.1,375.8 320.4,375.9 320.7,376.4 321,376.3 321.3,376.9 321.6,376.6 321.9,376.6 322.2,376.1 322.5,376.2 322.8,376.9 323.1,375.9 323.4,377.1 323.7,376.3 324,377.1 324.3,376 324.6,376.7 324.9,376.3 325.2,376.8 325.5,376.9 325.8,377 326.1,376.5 326.4,377.1 326.7,376.1 327,376.8 327.3,377.7 327.6,375.6 327.9,376.6 328.2,376 328.5,376.7 328.8,376 329.1,376.6 329.4,377.1 329.7,376.3 330,376.2 330.3,376.9 330.6,376.7 330.9,376.5 331.2,377 331.5,375.8 331.8,376 332.1,376.7 332.4,376.1 332.7,377.1 333,376.2 333.3,376.3 333.6,376.4 333.9,377.2 334.2,376.3 334.5,375.9 334.8,376 335.1,375.5 335.4,376.2 335.7,376.6 336,376.7 336.3,376.7 336.6,376.6 336.9,376 337.2,376.7 337.5,376.8 337.8,376.6 338.1,376.7 338.4,376.9 338.7,376.7 339,376.8 339.3,376.2 339.6,375.8 339.9,376.5 340.2,376.7" fill="none" stroke="#000" stroke-width="1.15" stroke-linejoin="round"/>
<text x="267.8" y="308.5" style="font-family:'Liberation Sans',sans-serif;font-weight:bold;stroke:#111;stroke-width:0.3px;font-size:9.5px" fill="#111">LILRB1/CD85j</text>
<line x1="348.6" y1="299.3" x2="348.6" y2="378.6" stroke="#111" stroke-width="1.6" stroke-dasharray="1.3 1.9"/>
<path d="M351.9,379.6v2.8M357.8,379.6v1.8M361.3,379.6v1.8M363.8,379.6v1.8M365.7,379.6v1.8M367.2,379.6v1.8M368.6,379.6v1.8M369.7,379.6v1.8M370.7,379.6v1.8M371.6,379.6v2.8M377.6,379.6v1.8M381.1,379.6v1.8M383.5,379.6v1.8M385.4,379.6v1.8M387,379.6v1.8M388.3,379.6v1.8M389.5,379.6v1.8M390.5,379.6v1.8M391.4,379.6v2.8M397.3,379.6v1.8M400.8,379.6v1.8M403.3,379.6v1.8M405.2,379.6v1.8M406.7,379.6v1.8M408.1,379.6v1.8M409.2,379.6v1.8M410.2,379.6v1.8M411.1,379.6v2.8M417.1,379.6v1.8M420.6,379.6v1.8M423,379.6v1.8M424.9,379.6v1.8M426.5,379.6v1.8M427.8,379.6v1.8M429,379.6v1.8M430,379.6v1.8" stroke="#222" stroke-width="1" fill="none"/>
<rect x="350.2" y="298.3" width="81.3" height="80.3" fill="none" stroke="#111" stroke-width="2"/>
<path d="M352.5,373.8 352.8,373.7 353.1,374.8 353.4,373 353.7,373.7 354,372.4 354.3,372.7 354.6,371.9 354.9,373.6 355.2,370 355.5,371.5 355.8,369.8 356.1,369.1 356.4,368.2 356.7,368.1 357,368 357.3,363.9 357.6,367.9 357.9,364.6 358.2,364.7 358.5,362.4 358.8,364.4 359.1,363.1 359.4,361.8 359.7,359.1 360,358.7 360.3,360.9 360.6,354.7 360.9,352.4 361.2,355.7 361.5,351.1 361.8,350.3 362.1,350.8 362.4,347.6 362.7,342.7 363,346.2 363.3,342.8 363.6,341.9 363.9,343.8 364.2,338.3 364.5,337.3 364.8,330.9 365.1,328.3 365.4,327.8 365.7,332.1 366,327.7 366.3,325.4 366.6,329.2 366.9,316.7 367.2,315.9 367.5,317.4 367.8,319.2 368.1,321.6 368.4,322.2 368.7,326.5 369,323.2 369.3,333.1 369.6,325 369.9,331 370.2,334.6 370.5,335.4 370.8,339.4 371.1,343.9 371.4,340.4 371.7,343.7 372,345.7 372.3,350.9 372.6,349.5 372.9,350 373.2,355.8 373.5,353.7 373.8,360.7 374.1,356 374.4,359.4 374.7,360.2 375,362.6 375.3,363.1 375.6,361.7 375.9,363.1 376.2,365.3 376.5,364 376.8,367.7 377.1,366.6 377.4,367.2 377.7,367.6 378,370.3 378.3,370 378.6,370.3 378.9,368.7 379.2,370.8 379.5,370.3 379.8,371.5 380.1,372.3 380.4,371.4 380.7,371.5 381,372.1 381.3,373.1 381.6,373.2 381.9,372 382.2,373.8 382.5,374.1 382.8,373.6 383.1,375.2 383.4,373.4 383.7,373.7 384,373.1 384.3,374.3 384.6,375.1 384.9,375 385.2,374.5 385.5,373.9 385.8,375.4 386.1,375.5 386.4,375 386.7,375.9 387,375 387.3,375.6 387.6,375.5 387.9,375.8 388.2,375 388.5,375.6 388.8,375.2 389.1,375.4 389.4,375.5 389.7,376 390,376.1 390.3,376.1 390.6,376.6 390.9,375.6 391.2,375.6 391.5,375.4 391.8,376.3 392.1,376.3 392.4,376.2 392.7,376.8 393,376.2 393.3,376.3 393.6,376.4 393.9,376.3 394.2,377 394.5,377.1 394.8,376.5 395.1,376.6" fill="none" stroke="#555" stroke-width="1.2" stroke-dasharray="1 0.9"/>
<path d="M351.4,376.7 351.7,376.6 352,376.2 352.3,376.4 352.6,376.3 352.9,376.7 353.2,376.6 353.5,376 353.8,376.5 354.1,376.4 354.4,376.3 354.7,375.9 355,376.1 355.3,375.9 355.6,376.2 355.9,375 356.2,375.8 356.5,376.1 356.8,375.6 357.1,375.8 357.4,375.3 357.7,375.2 358,375.7 358.3,375.1 358.6,375.1 358.9,374.6 359.2,375.2 359.5,375.5 359.8,374.4 360.1,375.8 360.4,374.9 360.7,375.1 361,375.3 361.3,373.9 361.6,374.5 361.9,374.4 362.2,373.7 362.5,373.9 362.8,374.7 363.1,374.6 363.4,373.1 363.7,374 364,374.6 364.3,372.9 364.6,372.5 364.9,372.6 365.2,373.6 365.5,371.5 365.8,371 366.1,371.6 366.4,371.4 366.7,371.8 367,372.5 367.3,372 367.6,370.4 367.9,369.2 368.2,370.3 368.5,367.7 368.8,372.6 369.1,368.6 369.4,371.4 369.7,367 370,366.9 370.3,365.6 370.6,367.9 370.9,365.3 371.2,366.1 371.5,365.5 371.8,363.5 372.1,361.1 372.4,362.9 372.7,361.1 373,358.6 373.3,359.7 373.6,359.1 373.9,359.9 374.2,360.4 374.5,353.3 374.8,355.4 375.1,357 375.4,354.8 375.7,361.1 376,355.7 376.3,357.8 376.6,363.4 376.9,353.4 377.2,351.5 377.5,344.9 377.8,348.7 378.1,346.2 378.4,354 378.7,348.8 379,347.4 379.3,350.3 379.6,356.5 379.9,354.5 380.2,357.9 380.5,350.2 380.8,352.7 381.1,348.8 381.4,348.7 381.7,348.3 382,337 382.3,336.2 382.6,337.1 382.9,340.5 383.2,336.5 383.5,336.2 383.8,338.4 384.1,342.3 384.4,337.5 384.7,336.2 385,340.7 385.3,336.9 385.6,349.7 385.9,343.1 386.2,341.7 386.5,338.4 386.8,336.2 387.1,336.5 387.4,340.2 387.7,345.6 388,343.7 388.3,346.6 388.6,345.9 388.9,349.2 389.2,351 389.5,360.4 389.8,352.4 390.1,354.5 390.4,359.6 390.7,360.5 391,364.5 391.3,364.2 391.6,368.7 391.9,362.7 392.2,365 392.5,366.3 392.8,367.5 393.1,365.7 393.4,369.4 393.7,368.6 394,369 394.3,370 394.6,371.4 394.9,371.1 395.2,374 395.5,372.1 395.8,372.5 396.1,373.6 396.4,374 396.7,374.5 397,374.8 397.3,375.1 397.6,374.5 397.9,375.2 398.2,373.8 398.5,375.6 398.8,376.1 399.1,376.6 399.4,376.2 399.7,375.2 400,376.3 400.3,375.8 400.6,375.3 400.9,375.6 401.2,374.7 401.5,375.7 401.8,375.8 402.1,375.6 402.4,376.4 402.7,376.2 403,375.9 403.3,376.1 403.6,375.8 403.9,376.9 404.2,376.2 404.5,376.6 404.8,376.4 405.1,375.4 405.4,376.5 405.7,375.8 406,375.6 406.3,376.3 406.6,376.7 406.9,376.1 407.2,375.9 407.5,377.5 407.8,376.4 408.1,376.6 408.4,375.8 408.7,376 409,375.9 409.3,376.3 409.6,376.4 409.9,376 410.2,376.3 410.5,375.7 410.8,375.5 411.1,376.5 411.4,376.8 411.7,375.8 412,375.7 412.3,376.4 412.6,376.2 412.9,377.1 413.2,376.2 413.5,376.6 413.8,376.2 414.1,375.5 414.4,376.3 414.7,376.1 415,375.5 415.3,376.9 415.6,376.2 415.9,376.1 416.2,377.1 416.5,376.4 416.8,375.5 417.1,376.5 417.4,376.5 417.7,375.7 418,376.3 418.3,375.7 418.6,376.9 418.9,375.4 419.2,375.9 419.5,376.9 419.8,376.4 420.1,375.8 420.4,376.6 420.7,375.3 421,375.6 421.3,375.5 421.6,376.7 421.9,376.4 422.2,376.1 422.5,376.5 422.8,375.6 423.1,375.8 423.4,375.7 423.7,376 424,375.4 424.3,376.3 424.6,376.5 424.9,376.8 425.2,376.5 425.5,376.7 425.8,376.5 426.1,376.2 426.4,376.7 426.7,376.9" fill="none" stroke="#000" stroke-width="1.15" stroke-linejoin="round"/>
<text x="354.3" y="308.5" style="font-family:'Liberation Sans',sans-serif;font-weight:bold;stroke:#111;stroke-width:0.3px;font-size:9.5px" fill="#111">LILRB2/CD85d</text>
<line x1="435.1" y1="299.3" x2="435.1" y2="378.6" stroke="#111" stroke-width="1.6" stroke-dasharray="1.3 1.9"/>
<path d="M438.4,379.6v2.8M444.3,379.6v1.8M447.8,379.6v1.8M450.3,379.6v1.8M452.2,379.6v1.8M453.8,379.6v1.8M455.1,379.6v1.8M456.2,379.6v1.8M457.2,379.6v1.8M458.1,379.6v2.8M464.1,379.6v1.8M467.6,379.6v1.8M470,379.6v1.8M472,379.6v1.8M473.5,379.6v1.8M474.8,379.6v1.8M476,379.6v1.8M477,379.6v1.8M477.9,379.6v2.8M483.8,379.6v1.8M487.3,379.6v1.8M489.8,379.6v1.8M491.7,379.6v1.8M493.3,379.6v1.8M494.6,379.6v1.8M495.7,379.6v1.8M496.7,379.6v1.8M497.6,379.6v2.8M503.6,379.6v1.8M507.1,379.6v1.8M509.5,379.6v1.8M511.5,379.6v1.8M513,379.6v1.8M514.3,379.6v1.8M515.5,379.6v1.8M516.5,379.6v1.8" stroke="#222" stroke-width="1" fill="none"/>
<rect x="436.7" y="298.3" width="81.3" height="80.3" fill="none" stroke="#111" stroke-width="2"/>
<path d="M437.9,376.5 438.2,376 438.5,375.4 438.8,375.1 439.1,375.2 439.4,374.7 439.7,373.8 440,373.4 440.3,373.8 440.6,372.5 440.9,373.4 441.2,371.4 441.5,371.4 441.8,370 442.1,370.5 442.4,369.1 442.7,370.7 443,367.1 443.3,369.4 443.6,370 443.9,368 444.2,365.5 444.5,367.9 444.8,363.8 445.1,365.6 445.4,361.9 445.7,363.2 446,360.4 446.3,361 446.6,364.2 446.9,362.6 447.2,359.3 447.5,353 447.8,360.3 448.1,353.9 448.4,352.7 448.7,353.3 449,355.3 449.3,348.4 449.6,353 449.9,345.1 450.2,340.5 450.5,344.1 450.8,337.7 451.1,339.1 451.4,340.7 451.7,329.5 452,331.9 452.3,328 452.6,349.4 452.9,321 453.2,329.2 453.5,317.1 453.8,325.6 454.1,318.9 454.4,320.4 454.7,318.8 455,327.6 455.3,322.7 455.6,329.2 455.9,332.5 456.2,336.9 456.5,332.4 456.8,338.1 457.1,340.1 457.4,340.3 457.7,346.5 458,351.1 458.3,352.1 458.6,347.4 458.9,348.7 459.2,349.3 459.5,350.7 459.8,354.1 460.1,358 460.4,359.3 460.7,357.1 461,357.2 461.3,359.2 461.6,358.1 461.9,356.6 462.2,363.9 462.5,364.4 462.8,364.4 463.1,363.4 463.4,364.9 463.7,364.5 464,366.3 464.3,363.6 464.6,364.7 464.9,365.1 465.2,365.6 465.5,363.6 465.8,366.2 466.1,367.2 466.4,366.1 466.7,368 467,366.8 467.3,367.1 467.6,368.2 467.9,366.8 468.2,368.6 468.5,369.5 468.8,368.5 469.1,369.5 469.4,369.2 469.7,369.2 470,370 470.3,370 470.6,370.8 470.9,370.1 471.2,369.3 471.5,369.9 471.8,370.2 472.1,371.1 472.4,370.2 472.7,372.7 473,370.3 473.3,371.3 473.6,371.1 473.9,371.7 474.2,372.2 474.5,372.8 474.8,371 475.1,371.9 475.4,373 475.7,372.4 476,372.3 476.3,369.9 476.6,373.4 476.9,371.8 477.2,372.7 477.5,372.1 477.8,372.5 478.1,372.8 478.4,373 478.7,372.5 479,373.3 479.3,373.3 479.6,373.4 479.9,373.2 480.2,373.8 480.5,372.6 480.8,372.6 481.1,375.1 481.4,375 481.7,373.4 482,373.5 482.3,373.3 482.6,374.9 482.9,374.4 483.2,373.8 483.5,373.4 483.8,373.8 484.1,373.9 484.4,373.7 484.7,374.4 485,375.1 485.3,374.4 485.6,375 485.9,374.1 486.2,374.2 486.5,375.5 486.8,375.2 487.1,374.8 487.4,374.6 487.7,375.2 488,374.3 488.3,376.2 488.6,375.7 488.9,375.6 489.2,375.5 489.5,376.8 489.8,375.3 490.1,375 490.4,375.4 490.7,375.3 491,375.6 491.3,375.8 491.6,375.3 491.9,375.7 492.2,376.2 492.5,376 492.8,375.4 493.1,376.1 493.4,376.5 493.7,376.4 494,376.1 494.3,376.4 494.6,376.8 494.9,375.9 495.2,375.9 495.5,376.2 495.8,376.5 496.1,376 496.4,376.8 496.7,376.9 497,376.4 497.3,376.1" fill="none" stroke="#555" stroke-width="1.2" stroke-dasharray="1 0.9"/>
<path d="M437.9,376.4 438.2,375.4 438.5,376 438.8,376 439.1,375.5 439.4,375.1 439.7,376.1 440,375.4 440.3,374.6 440.6,375.3 440.9,375 441.2,376.9 441.5,375.3 441.8,374.9 442.1,373.9 442.4,374.5 442.7,374.7 443,375.5 443.3,374 443.6,373.7 443.9,373.8 444.2,374.2 444.5,372.9 444.8,374.4 445.1,374 445.4,374.4 445.7,372.8 446,372.9 446.3,373.3 446.6,372.9 446.9,373.5 447.2,373 447.5,371.8 447.8,374.5 448.1,371.6 448.4,372 448.7,371.7 449,369.8 449.3,370.8 449.6,371.1 449.9,371.1 450.2,371 450.5,368.6 450.8,368.4 451.1,368.1 451.4,368.1 451.7,369.6 452,368.7 452.3,367.2 452.6,366.6 452.9,367.7 453.2,365.2 453.5,363.4 453.8,365.8 454.1,366.2 454.4,362.8 454.7,361.4 455,362.1 455.3,364.9 455.6,363.8 455.9,363.9 456.2,361.3 456.5,365.6 456.8,362.1 457.1,365 457.4,365 457.7,360 458,363.7 458.3,363.8 458.6,359.5 458.9,363.3 459.2,362 459.5,363 459.8,361.5 460.1,365 460.4,361.7 460.7,359.6 461,364.4 461.3,363.1 461.6,363.6 461.9,364.9 462.2,364.6 462.5,363 462.8,364.5 463.1,362.7 463.4,365.9 463.7,363.8 464,366.3 464.3,365.4 464.6,366.5 464.9,362 465.2,362.6 465.5,362.1 465.8,363.3 466.1,364.7 466.4,360.7 466.7,363.9 467,362.1 467.3,360.5 467.6,367.8 467.9,360.7 468.2,359.7 468.5,360.2 468.8,360.8 469.1,357.1 469.4,359 469.7,359.7 470,359.4 470.3,357.5 470.6,356.5 470.9,358.7 471.2,358.6 471.5,354.6 471.8,358.2 472.1,355.1 472.4,358.2 472.7,356.1 473,360.7 473.3,359 473.6,357.8 473.9,354.3 474.2,355.5 474.5,357.6 474.8,352 475.1,357.1 475.4,361.1 475.7,353.5 476,354 476.3,356.9 476.6,363.7 476.9,358.7 477.2,352 477.5,354.1 477.8,352 478.1,353.4 478.4,356.9 478.7,355.8 479,352 479.3,352.7 479.6,357.6 479.9,354.2 480.2,358 480.5,353.3 480.8,352 481.1,354.7 481.4,353.5 481.7,355.5 482,359.1 482.3,355.6 482.6,355.9 482.9,356.4 483.2,353 483.5,357.5 483.8,352.7 484.1,353.2 484.4,354.6 484.7,358.3 485,360.6 485.3,361.1 485.6,352 485.9,355.8 486.2,359.6 486.5,360.2 486.8,362.3 487.1,357.5 487.4,360.1 487.7,358.6 488,361.6 488.3,364.9 488.6,363.4 488.9,365.7 489.2,365.9 489.5,362.6 489.8,367.7 490.1,370.3 490.4,367.3 490.7,368.6 491,370.9 491.3,370.4 491.6,368.8 491.9,370.6 492.2,371.2 492.5,372.9 492.8,372.5 493.1,373.3 493.4,372.9 493.7,374.1 494,373.4 494.3,374.2 494.6,373.6 494.9,374.5 495.2,374.7 495.5,375.5 495.8,374.7 496.1,376.1 496.4,375.3 496.7,374.9 497,375.2 497.3,375.5 497.6,375.3 497.9,375.4 498.2,375.4 498.5,376.6 498.8,376.3 499.1,376.6 499.4,375.7 499.7,375.8 500,376.2 500.3,376 500.6,375.3 500.9,376.2 501.2,376.3 501.5,377 501.8,376.3 502.1,376.5 502.4,376.7 502.7,376.4 503,377 503.3,375.6 503.6,376.1 503.9,376.8 504.2,376 504.5,376.2 504.8,376.3 505.1,375.9 505.4,377 505.7,376.1 506,376.7 506.3,376.7 506.6,376.3 506.9,376.3 507.2,376.1 507.5,377.1 507.8,376.4 508.1,376.8 508.4,376.4 508.7,376.3 509,376.9 509.3,376.2 509.6,376.8 509.9,377 510.2,376.7 510.5,376 510.8,376.1 511.1,376.9 511.4,376.3 511.7,376.4 512,376.3 512.3,376.8 512.6,376.5 512.9,376.7 513.2,376.6" fill="none" stroke="#000" stroke-width="1.15" stroke-linejoin="round"/>
<text x="440.8" y="308.5" style="font-family:'Liberation Sans',sans-serif;font-weight:bold;stroke:#111;stroke-width:0.3px;font-size:9.5px" fill="#111">Fas/CD95</text></svg>
</body></html>
